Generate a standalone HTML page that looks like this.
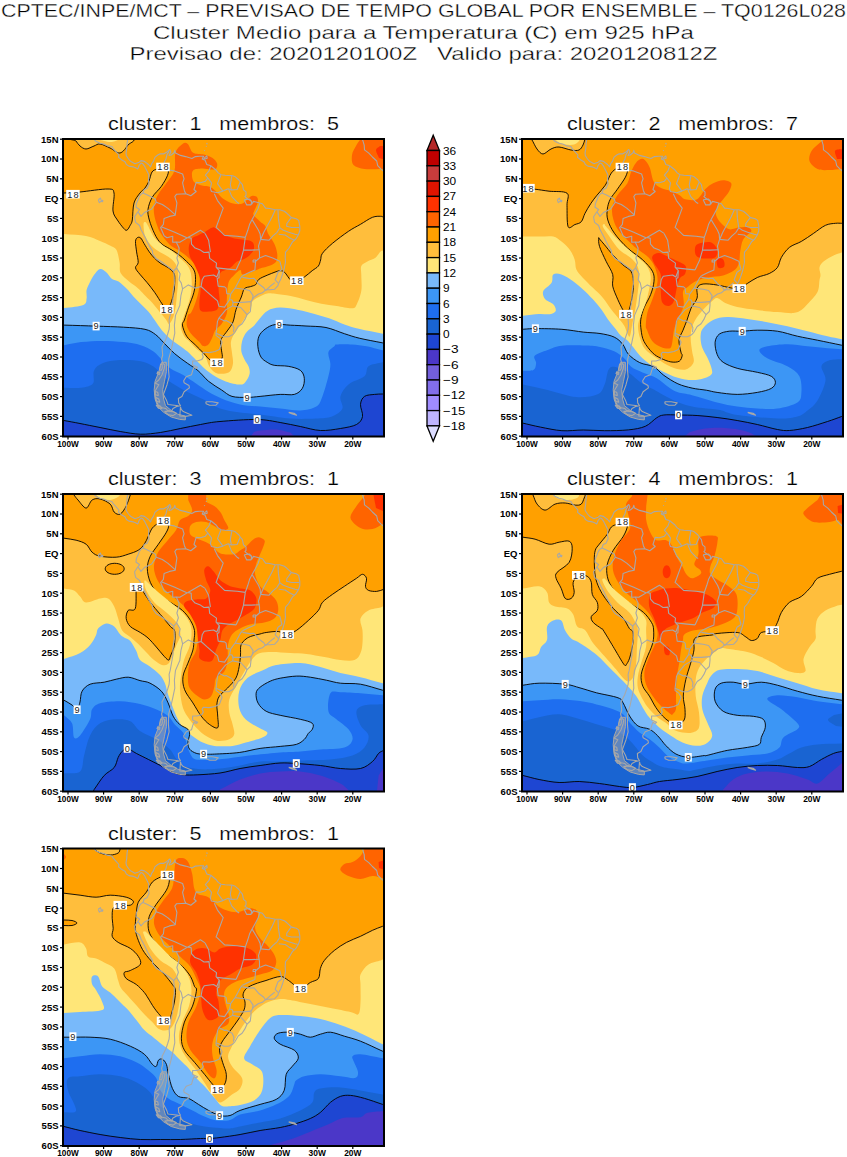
<!DOCTYPE html><html><head><meta charset="utf-8"><style>html,body{margin:0;padding:0;background:#fff;width:847px;height:1157px;overflow:hidden}svg{display:block}</style></head><body>
<svg width="847" height="1157" viewBox="0 0 847 1157" font-family="Liberation Sans, sans-serif">
<g fill="#000" font-size="18.5" text-anchor="middle" stroke="#fff" stroke-width="0.35">
<text x="423.5" y="16.5" textLength="845" lengthAdjust="spacingAndGlyphs">CPTEC/INPE/MCT – PREVISAO DE TEMPO GLOBAL POR ENSEMBLE – TQ0126L028</text>
<text x="423.5" y="38.5" textLength="541" lengthAdjust="spacingAndGlyphs">Cluster Medio para a Temperatura (C) em 925 hPa</text>
<text x="423.5" y="59.5" textLength="588" lengthAdjust="spacingAndGlyphs">Previsao de: 2020120100Z   Valido para: 2020120812Z</text>
</g>
<clipPath id="clip0"><rect x="63.0" y="139.0" width="321.0" height="297.5"/></clipPath>
<g clip-path="url(#clip0)">
<rect x="63.0" y="139.0" width="321.0" height="297.5" fill="#ffa000"/>
<path d="M50.0,193.0 L64.0,193.0 C69.3,192.7 72.7,192.7 80.0,192.0 C87.3,191.3 102.3,188.8 108.0,189.0 C113.7,189.2 113.2,189.3 114.0,193.0 C114.8,196.7 112.4,206.5 113.0,211.0 C113.6,215.5 115.6,217.1 117.4,220.0 C119.2,222.9 122.2,226.8 123.8,228.5 C125.4,230.2 125.9,230.6 127.0,230.1 C128.1,229.6 129.3,227.0 130.2,225.3 C131.1,223.6 131.7,223.7 132.3,220.0 C132.9,216.3 132.7,207.5 134.0,203.0 C135.3,198.5 138.2,195.5 140.0,193.0 C141.8,190.5 143.5,190.0 145.0,188.0 C146.5,186.0 147.8,183.7 149.0,181.0 C150.2,178.3 150.7,174.0 152.0,172.0 C153.3,170.0 155.2,169.8 157.0,169.0 C158.8,168.2 161.2,166.9 163.0,167.0 C164.8,167.1 167.3,168.1 168.0,169.5 C168.7,170.9 168.5,172.9 167.4,175.7 C166.3,178.5 163.8,182.8 161.3,186.4 C158.8,190.0 154.6,193.2 152.4,197.0 C150.2,200.8 148.5,205.6 148.0,209.4 C147.5,213.2 148.2,215.9 149.3,220.0 C150.4,224.1 152.7,229.9 154.6,233.8 C156.5,237.7 158.5,240.9 161.0,243.4 C163.5,245.9 166.7,246.9 169.5,248.7 C172.3,250.5 175.2,251.9 178.0,254.0 C180.8,256.1 183.8,258.8 186.5,261.4 C189.2,264.0 192.4,266.9 193.9,269.9 C195.4,272.9 195.5,275.8 195.5,279.5 C195.5,283.2 195.1,287.7 193.9,292.3 C192.8,296.9 190.2,302.5 188.6,307.1 C187.0,311.7 185.4,317.0 184.4,320.0 C183.4,323.0 182.0,322.3 182.4,325.0 C182.8,327.7 184.6,333.0 186.7,336.3 C188.8,339.6 192.4,342.0 195.2,344.8 C198.0,347.6 201.2,350.7 203.7,353.3 C206.2,355.9 208.0,358.6 210.2,360.2 C212.4,361.8 214.9,363.1 216.9,362.8 C218.9,362.5 221.3,360.1 222.1,358.1 C222.9,356.1 221.8,353.5 221.6,350.9 C221.3,348.3 220.6,344.7 220.6,342.6 C220.6,340.5 220.4,340.5 221.6,338.4 C222.8,336.3 225.9,332.9 227.8,330.1 C229.7,327.4 231.6,325.3 233.0,321.9 C234.4,318.4 234.7,313.5 236.1,309.4 C237.5,305.2 239.9,300.4 241.3,297.0 C242.7,293.6 242.9,290.4 244.4,288.7 C245.9,287.0 248.7,287.3 250.6,286.6 C252.5,285.9 254.4,285.7 255.8,284.5 C257.2,283.3 257.0,280.9 258.9,279.3 C260.8,277.8 264.5,276.4 267.2,275.2 C269.9,274.0 272.9,272.9 275.0,272.1 C277.1,271.4 278.4,270.7 280.0,270.7 C281.6,270.7 282.8,270.8 284.6,272.3 C286.4,273.9 288.7,278.6 290.7,280.0 C292.7,281.4 294.5,281.2 296.8,280.7 C299.1,280.2 301.9,278.6 304.5,276.9 C307.1,275.2 309.9,272.5 312.2,270.7 C314.5,268.9 316.9,267.9 318.3,266.1 C319.7,264.3 319.9,262.1 320.6,260.0 C321.3,257.9 320.4,256.2 322.4,253.4 C324.4,250.6 328.0,247.1 332.4,243.4 C336.8,239.7 343.8,234.5 348.5,231.3 C353.2,228.1 356.5,226.6 360.5,224.3 C364.5,222.0 369.1,218.6 372.5,217.3 C375.9,216.0 378.8,216.3 380.6,216.3 C382.5,216.3 382.6,217.0 383.6,217.3 L400.0,218.0 L400.0,450.0 L50.0,450.0 L50.0,193.0 Z" fill="#ffbe3c" stroke="#000" stroke-width="0.9"/>
<path d="M50.0,234.0 L64.0,234.0 C71.3,234.7 80.0,234.8 86.0,236.0 C92.0,237.2 96.0,239.4 100.0,241.0 C104.0,242.6 107.3,244.0 110.0,245.5 C112.7,247.0 114.8,247.0 116.4,249.8 C118.0,252.6 118.9,258.6 119.6,262.5 C120.3,266.4 119.0,269.9 120.6,273.1 C122.2,276.3 126.3,279.1 129.1,281.6 C131.9,284.1 135.1,285.9 137.6,288.0 C140.1,290.1 141.9,292.3 144.0,294.4 C146.1,296.5 148.3,298.5 150.4,300.8 C152.5,303.1 155.0,306.1 156.8,308.2 C158.6,310.3 159.4,311.5 161.0,313.5 C162.6,315.5 165.0,318.2 166.3,320.0 C167.6,321.8 168.1,324.0 169.0,324.0 C169.9,324.0 171.2,321.4 172.0,320.0 C172.8,318.6 173.2,318.1 173.8,315.6 C174.5,313.1 175.4,308.5 175.9,305.0 C176.4,301.5 176.6,297.9 176.9,294.4 C177.2,290.9 177.8,287.4 178.0,283.8 C178.2,280.2 178.3,276.3 178.0,273.1 C177.7,269.9 177.0,266.9 175.9,264.6 C174.8,262.3 173.4,260.9 171.6,259.3 C169.8,257.7 167.6,256.5 165.3,255.1 C163.0,253.7 160.3,252.6 157.8,250.8 C155.3,249.0 152.5,246.9 150.4,244.4 C148.3,241.9 146.2,239.2 145.1,235.9 C143.9,232.6 143.5,226.6 143.5,224.3 C143.5,222.0 144.4,222.0 145.0,222.0 C145.6,222.0 145.6,221.6 147.2,224.3 C148.8,227.0 151.9,234.6 154.6,238.1 C157.2,241.6 160.3,243.4 163.1,245.5 C165.9,247.6 168.8,248.7 171.6,250.8 C174.4,252.9 177.4,255.8 180.1,258.3 C182.8,260.8 185.8,263.2 187.6,265.7 C189.4,268.2 190.1,270.1 190.8,273.1 C191.5,276.1 191.8,280.2 191.8,283.8 C191.8,287.4 191.4,290.9 190.8,294.4 C190.2,297.9 189.1,301.4 188.0,305.0 C186.9,308.6 185.2,312.3 184.0,316.0 C182.8,319.7 181.0,323.7 181.0,327.0 C181.0,330.3 182.7,333.7 184.0,336.0 C185.3,338.3 187.1,339.1 189.0,341.0 C190.9,342.9 192.5,345.2 195.2,347.7 C197.9,350.2 202.8,353.1 205.1,356.2 C207.4,359.2 207.4,363.2 209.1,366.0 C210.8,368.8 213.0,371.4 215.4,372.7 C217.8,374.0 221.3,373.9 223.7,373.7 C226.1,373.5 228.3,373.3 229.9,371.6 C231.5,369.9 232.7,366.4 233.0,363.3 C233.3,360.2 232.3,356.4 232.0,353.0 C231.7,349.6 230.6,345.7 230.9,342.6 C231.2,339.5 232.4,337.2 234.0,334.3 C235.6,331.4 238.2,328.1 240.3,325.0 C242.4,321.9 244.8,318.4 246.5,315.6 C248.2,312.8 249.6,310.8 250.6,308.4 C251.6,306.0 251.3,303.0 252.7,301.1 C254.1,299.2 256.5,298.3 258.9,297.0 C261.3,295.7 264.5,294.0 267.2,293.5 C269.9,293.0 271.4,293.4 275.3,293.8 C279.2,294.2 285.6,295.1 290.7,296.1 C295.8,297.1 300.9,298.6 306.0,299.9 C311.1,301.2 316.3,302.7 321.4,303.7 C326.5,304.7 331.6,305.2 336.7,306.0 C341.8,306.8 348.8,308.6 352.1,308.3 C355.4,308.1 355.2,307.4 356.7,304.5 C358.2,301.6 360.5,295.6 361.3,290.7 C362.1,285.8 361.3,279.4 361.3,275.3 C361.3,271.2 360.3,268.4 361.3,266.1 C362.3,263.8 365.1,262.9 367.4,261.5 C369.7,260.1 372.9,259.7 375.1,258.0 C377.3,256.3 379.2,252.7 380.6,251.4 C382.0,250.1 382.6,250.7 383.6,250.4 L400.0,250.0 L400.0,450.0 L50.0,450.0 L50.0,234.0 Z" fill="#ffe678"/>
<path d="M50.0,308.0 L64.2,308.1 C70.6,307.0 79.7,306.5 83.4,304.9 C87.1,303.3 86.1,301.0 86.6,298.5 C87.1,296.0 86.0,292.8 86.6,290.0 C87.2,287.2 88.8,284.5 90.0,282.0 C91.2,279.5 92.3,277.2 94.0,275.0 C95.7,272.8 98.0,269.5 100.0,269.0 C102.0,268.5 104.0,270.3 106.0,272.0 C108.0,273.7 109.9,277.4 112.0,279.0 C114.1,280.6 116.0,279.9 118.5,281.6 C121.0,283.3 124.5,286.6 127.0,289.1 C129.5,291.6 131.1,294.0 133.4,296.5 C135.7,299.0 138.3,301.4 140.8,303.9 C143.3,306.4 146.0,308.7 148.3,311.4 C150.6,314.1 152.3,316.8 154.6,320.0 C156.9,323.2 159.3,327.2 162.0,330.4 C164.7,333.5 167.7,336.4 170.5,338.9 C173.3,341.4 176.2,343.1 179.0,345.2 C181.8,347.3 184.7,349.1 187.5,351.6 C190.3,354.1 193.2,357.3 196.0,360.1 C198.8,362.9 201.7,366.1 204.5,368.6 C207.3,371.1 209.5,372.9 213.0,375.0 C216.5,377.1 221.2,379.8 225.7,381.4 C230.2,383.0 236.7,384.5 240.0,384.6 C243.3,384.7 243.8,383.8 245.4,382.0 C247.0,380.2 249.1,376.3 249.6,373.7 C250.1,371.1 249.5,368.8 248.6,366.4 C247.7,364.0 245.6,361.8 244.4,359.2 C243.2,356.6 241.7,354.0 241.3,350.9 C241.0,347.8 241.4,343.6 242.3,340.5 C243.2,337.4 244.6,334.6 246.5,332.2 C248.4,329.8 251.4,328.3 253.7,326.0 C255.9,323.7 257.7,320.9 260.0,318.3 C262.3,315.8 264.4,312.5 267.7,310.7 C271.0,308.9 274.9,307.7 280.0,307.6 C285.1,307.5 292.8,308.9 298.4,309.9 C304.0,310.9 308.6,312.3 313.7,313.7 C318.8,315.1 324.0,316.5 329.1,318.3 C334.2,320.1 339.3,322.7 344.4,324.5 C349.5,326.3 353.4,327.6 359.8,329.1 C366.2,330.6 375.1,332.2 382.8,333.7 L400.0,334.0 L400.0,450.0 L50.0,450.0 L50.0,308.0 Z" fill="#78b9fa"/>
<path d="M50.0,325.0 L64.2,325.1 C74.8,325.4 86.2,325.8 96.1,326.1 C106.0,326.5 115.5,326.7 123.7,327.2 C131.8,327.7 139.7,328.1 145.0,329.3 C150.3,330.5 152.4,332.3 155.6,334.6 C158.8,336.9 160.9,339.9 164.1,343.1 C167.3,346.3 170.8,350.3 174.7,353.7 C178.6,357.1 183.6,360.5 187.5,363.3 C191.4,366.1 194.6,367.7 198.1,370.7 C201.6,373.7 204.8,378.2 208.7,381.4 C212.6,384.6 217.6,387.4 221.5,389.9 C225.4,392.4 227.7,395.1 232.0,396.4 C236.3,397.6 242.4,397.4 247.1,397.4 C251.8,397.4 254.6,396.9 260.1,396.4 C265.6,395.9 274.5,394.7 280.2,394.4 C285.9,394.1 290.6,395.4 294.3,394.4 C298.0,393.4 300.6,391.1 302.3,388.4 C304.0,385.7 304.6,381.4 304.3,378.4 C304.0,375.4 303.0,372.3 300.3,370.3 C297.6,368.3 292.6,367.1 288.2,366.3 C283.8,365.5 277.7,366.0 274.2,365.3 C270.7,364.6 269.4,363.7 267.2,362.3 C265.0,360.9 262.6,359.7 261.0,357.1 C259.4,354.5 258.2,350.1 257.9,346.7 C257.5,343.2 257.7,339.3 258.9,336.4 C260.1,333.5 262.4,331.1 265.1,329.1 C267.8,327.1 271.0,325.1 275.3,324.5 C279.6,323.9 285.6,324.9 290.7,325.2 C295.8,325.4 300.1,325.6 306.0,326.0 C311.9,326.4 319.6,326.2 326.0,327.5 C332.4,328.8 338.8,331.9 344.4,333.7 C350.0,335.5 353.4,336.8 359.8,338.3 C366.2,339.8 375.1,341.4 382.8,342.9 L400.0,344.0 L400.0,450.0 L50.0,450.0 L50.0,325.0 Z" fill="#3c96f5" stroke="#000" stroke-width="0.9"/>
<path d="M50.0,345.0 L64.2,345.2 C69.9,344.2 74.8,342.8 81.2,342.1 C87.6,341.4 95.4,341.0 102.5,341.0 C109.6,341.0 117.3,341.4 123.7,342.1 C130.1,342.8 135.7,343.6 140.7,345.2 C145.7,346.8 149.9,349.1 153.5,351.6 C157.1,354.1 159.2,357.3 162.0,360.1 C164.8,362.9 167.0,366.1 170.5,368.6 C174.0,371.1 178.9,372.5 183.2,375.0 C187.4,377.5 191.8,380.7 196.0,383.5 C200.2,386.3 204.4,389.5 208.7,392.0 C212.9,394.5 216.3,396.3 221.5,398.4 C226.7,400.5 233.7,403.0 240.1,404.4 C246.5,405.8 253.4,405.8 260.1,406.5 C266.8,407.2 273.5,407.8 280.2,408.5 C286.9,409.2 294.3,410.8 300.3,410.5 C306.3,410.2 312.6,408.9 316.3,406.5 C320.0,404.1 320.4,401.4 322.4,396.4 C324.4,391.4 327.1,381.6 328.4,376.3 C329.7,371.0 330.4,368.3 330.4,364.3 C330.4,360.3 327.7,355.3 328.4,352.3 C329.1,349.3 333.0,347.5 334.4,346.2 C335.8,344.9 333.8,344.7 336.7,344.4 C339.6,344.1 347.1,344.1 352.1,344.4 C357.1,344.7 361.4,345.2 366.5,346.2 C371.6,347.2 377.2,348.9 382.6,350.3 L400.0,351.0 L400.0,450.0 L50.0,450.0 L50.0,345.0 Z" fill="#1e6ef0"/>
<path d="M50.0,388.0 L64.2,387.7 C69.9,387.7 76.4,388.4 81.2,387.7 C86.0,387.0 90.9,386.3 93.0,383.5 C95.1,380.7 92.4,374.1 94.0,370.7 C95.6,367.3 98.2,365.1 102.5,363.3 C106.8,361.5 113.1,360.5 119.5,360.1 C125.9,359.8 135.0,360.1 140.7,361.2 C146.4,362.3 149.9,364.2 153.5,366.5 C157.1,368.8 158.8,372.2 162.0,375.0 C165.2,377.8 168.3,380.7 172.6,383.5 C176.8,386.3 182.2,389.2 187.5,392.0 C192.8,394.8 199.1,397.2 204.5,400.0 C209.9,402.8 214.1,406.4 220.0,408.5 C225.9,410.6 233.3,411.5 240.0,412.5 C246.7,413.5 251.7,413.5 260.0,414.5 C268.3,415.5 280.7,417.8 290.0,418.5 C299.3,419.2 309.0,418.8 316.0,418.5 C323.0,418.2 327.6,418.2 332.0,416.5 C336.4,414.8 341.0,411.9 342.4,408.5 C343.8,405.1 339.4,400.4 340.4,396.4 C341.4,392.4 344.5,387.8 348.5,384.4 C352.5,381.0 361.2,379.3 364.5,376.3 C367.8,373.3 365.5,368.6 368.5,366.3 C371.5,364.0 377.9,363.6 382.6,362.3 L400.0,362.0 L400.0,450.0 L50.0,450.0 L50.0,388.0 Z" fill="#1964d2"/>
<path d="M50.0,420.0 L64.0,420.5 C69.3,421.5 74.0,422.3 80.0,423.5 C86.0,424.7 93.4,426.2 100.1,427.5 C106.8,428.8 113.5,430.4 120.2,431.5 C126.9,432.6 133.6,434.0 140.3,434.2 C147.0,434.4 153.7,433.4 160.4,432.5 C167.1,431.6 173.7,429.8 180.4,428.5 C187.1,427.2 193.9,425.7 200.5,424.5 C207.1,423.3 210.6,422.3 220.0,421.5 C229.4,420.7 247.1,419.3 257.1,419.5 C267.1,419.7 273.0,421.3 280.2,422.5 C287.4,423.7 293.6,425.2 300.3,426.5 C307.0,427.8 313.7,430.2 320.4,430.5 C327.1,430.8 334.4,429.5 340.4,428.5 C346.4,427.5 352.8,426.5 356.5,424.5 C360.2,422.5 361.8,419.9 362.5,416.5 C363.2,413.1 360.2,407.8 360.5,404.4 C360.8,401.0 362.1,398.1 364.5,396.4 C366.9,394.7 371.6,394.8 374.6,394.4 C377.6,394.0 379.9,394.1 382.6,394.0 L400.0,394.0 L400.0,450.0 L50.0,450.0 L50.0,420.0 Z" fill="#1e46d2" stroke="#000" stroke-width="0.9"/>
<path d="M248.1,440.0 L254.0,432.0 C256.0,431.5 256.4,430.9 260.1,430.5 C263.8,430.1 271.2,429.2 276.2,429.5 C281.2,429.8 285.6,431.5 290.3,432.5 L298.3,440.0 L248.1,440.0 Z" fill="#4b37c8"/>
<path d="M137.6,237.5 C136.7,238.0 135.7,238.9 135.5,241.3 C135.3,243.7 136.2,248.4 136.6,251.9 C137.0,255.4 138.4,259.9 138.2,262.5 C138.0,265.1 135.2,265.9 135.5,267.8 C135.8,269.8 137.9,271.7 139.8,274.2 C141.8,276.7 144.7,279.7 147.2,282.7 C149.7,285.7 152.1,288.8 154.6,292.3 C157.1,295.8 160.1,301.1 162.1,303.9 C164.1,306.7 165.4,309.3 166.8,309.3 C168.2,309.3 169.4,306.7 170.6,303.9 C171.8,301.1 173.1,296.4 173.8,292.3 C174.5,288.2 174.8,282.7 174.8,279.5 C174.8,276.3 174.9,275.1 173.8,273.1 C172.7,271.2 170.5,269.4 168.4,267.8 C166.3,266.2 163.3,265.2 161.0,263.6 C158.7,262.0 156.5,260.2 154.6,258.3 C152.7,256.4 151.1,254.4 149.3,251.9 C147.5,249.4 145.4,245.7 144.0,243.4 C142.6,241.1 141.9,239.1 140.8,238.1 C139.7,237.1 138.5,237.0 137.6,237.5 Z" fill="#ffa000" stroke="#000" stroke-width="0.9"/>
<path d="M175.4,152.7 C176.7,148.3 180.4,145.4 182.5,143.9 C184.6,142.4 186.0,142.4 187.8,143.9 C189.6,145.4 190.4,150.9 193.1,152.7 C195.8,154.5 200.6,153.6 203.8,154.5 C207.1,155.4 210.4,156.5 212.6,158.0 C214.8,159.5 216.4,161.5 217.0,163.3 C217.6,165.1 217.1,167.6 216.1,168.6 C215.1,169.6 213.2,169.5 210.8,169.5 C208.5,169.5 204.9,168.4 202.0,168.6 C199.1,168.8 194.7,168.9 193.1,170.4 C191.5,171.9 191.9,175.4 192.2,177.5 C192.5,179.6 193.3,181.5 194.9,182.8 C196.5,184.1 199.3,184.8 202.0,185.5 C204.7,186.2 208.2,185.9 210.8,187.2 C213.5,188.5 215.8,191.5 217.9,193.4 C220.0,195.3 220.8,197.1 223.2,198.7 C225.6,200.3 229.1,202.3 232.1,203.2 C235.1,204.1 238.5,204.5 240.9,204.1 C243.3,203.7 244.5,201.8 246.3,200.5 C248.1,199.2 249.8,196.7 251.6,196.1 C253.4,195.5 255.9,196.0 256.9,197.0 C257.9,198.0 258.2,200.0 257.8,202.3 C257.4,204.7 254.9,209.0 254.2,211.1 C253.5,213.2 252.6,213.3 253.6,215.0 C254.6,216.7 258.1,219.6 260.0,221.4 C261.9,223.2 263.7,223.6 265.0,225.6 C266.3,227.6 266.5,230.4 268.0,233.4 C269.5,236.4 272.7,240.1 274.2,243.4 C275.7,246.7 276.9,250.4 277.2,253.4 C277.5,256.4 277.4,259.5 276.2,261.5 C275.0,263.5 272.9,264.3 270.2,265.5 C267.5,266.7 262.4,267.7 260.0,268.5 C257.6,269.3 258.6,269.3 255.8,270.3 C253.0,271.3 245.6,274.6 243.0,274.5 C240.4,274.4 241.8,269.9 240.3,270.0 C238.8,270.1 235.9,273.3 234.0,275.2 C232.1,277.1 230.0,278.8 228.9,281.4 C227.8,284.0 227.7,287.4 227.3,290.7 C227.0,294.0 226.9,297.3 226.8,301.1 C226.7,304.9 227.7,309.8 226.8,313.6 C225.9,317.4 223.5,321.1 221.6,323.9 C219.7,326.6 216.9,327.9 215.4,330.1 C213.9,332.4 213.5,335.0 212.3,337.4 C211.1,339.8 209.7,343.3 208.1,344.7 C206.5,346.1 204.4,346.4 203.0,346.0 C201.6,345.6 201.4,344.1 199.4,342.0 C197.4,339.9 193.0,336.3 190.9,333.5 C188.8,330.7 187.2,328.1 186.7,325.0 C186.2,321.9 187.4,317.1 188.1,315.1 C188.8,313.1 189.8,314.8 191.0,312.8 C192.2,310.8 193.9,307.1 195.2,303.2 C196.5,299.3 198.2,294.2 198.9,289.4 C199.6,284.6 200.1,278.6 199.4,274.5 C198.8,270.4 197.2,267.7 195.0,264.6 C192.8,261.5 189.3,258.6 186.5,256.1 C183.7,253.6 180.8,251.8 178.0,249.8 C175.2,247.9 172.3,247.1 169.5,244.4 C166.7,241.7 163.1,237.0 161.0,233.8 C158.9,230.6 158.1,228.2 157.0,225.0 C155.9,221.8 154.7,217.9 154.2,214.7 C153.7,211.5 153.6,209.1 154.2,205.8 C154.8,202.6 155.6,199.0 157.7,195.2 C159.8,191.4 163.8,186.9 166.6,182.8 C169.4,178.7 173.0,175.4 174.5,170.4 C176.0,165.4 174.1,157.1 175.4,152.7 Z" fill="#ff6400"/>
<path d="M207.9,229.9 C209.3,229.1 211.9,227.4 213.3,227.2 C214.7,227.0 215.2,228.0 216.4,228.8 C217.6,229.6 218.8,230.8 220.7,232.0 C222.6,233.2 225.8,235.2 228.1,236.3 C230.4,237.4 232.2,237.9 234.5,238.4 C236.8,238.9 239.4,239.1 241.9,239.4 C244.4,239.8 247.5,239.8 249.4,240.5 C251.3,241.2 252.9,242.1 253.6,243.7 C254.3,245.3 254.3,248.1 253.6,250.1 C252.9,252.1 251.2,253.8 249.4,255.4 C247.6,257.0 245.1,258.5 243.0,259.6 C240.9,260.7 238.5,260.6 236.6,261.8 C234.7,263.1 233.2,265.7 231.3,267.1 C229.4,268.5 226.7,269.4 224.9,270.3 C223.1,271.2 221.8,271.0 220.7,272.4 C219.6,273.8 218.9,276.0 218.6,278.8 C218.2,281.6 218.4,285.9 218.6,289.4 C218.8,292.9 219.6,297.2 219.6,300.0 C219.6,302.8 219.3,304.6 218.6,306.4 C217.9,308.2 217.3,309.7 215.4,310.6 C213.5,311.5 209.4,311.7 206.9,311.7 C204.4,311.7 201.8,312.2 200.5,310.6 C199.2,309.0 199.4,305.3 199.4,302.1 C199.4,298.9 200.3,295.0 200.5,291.5 C200.7,288.0 200.8,283.9 200.5,280.9 C200.2,277.9 199.5,276.2 198.4,273.4 C197.3,270.6 195.5,266.7 194.1,263.9 C192.7,261.1 190.8,259.2 189.9,256.4 C189.0,253.6 188.5,249.9 188.8,246.9 C189.2,243.9 190.4,240.4 192.0,238.4 C193.6,236.4 196.3,236.3 198.4,235.2 C200.5,234.1 203.2,232.9 204.8,232.0 C206.4,231.1 206.5,230.7 207.9,229.9 Z" fill="#ff3200"/>
<path d="M353.5,165.0 C351.4,162.7 351.6,158.2 352.0,155.0 C352.4,151.8 354.6,148.7 356.0,146.0 C357.4,143.3 359.0,141.3 360.5,139.0 L390.0,139.0 L390.0,169.0 L380.6,169.0 C375.2,169.0 369.0,169.7 364.5,169.0 C360.0,168.3 355.6,167.3 353.5,165.0 Z" fill="#ff6400"/>
<path d="M376.0,150.0 C376.2,148.0 378.7,147.3 380.0,146.0 L386.0,146.0 L386.0,160.0 L379.0,158.0 C378.0,155.3 375.8,152.0 376.0,150.0 Z" fill="#ff3200"/>
<path d="M74.0,139.0 C65.0,139.3 75.0,139.8 76.0,141.0 C77.0,142.2 78.3,144.7 80.0,146.0 C81.7,147.3 83.7,149.0 86.0,149.0 C88.3,149.0 91.7,146.8 94.0,146.0 C96.3,145.2 97.3,143.7 100.0,144.0 C102.7,144.3 106.7,146.5 110.0,148.0 C113.3,149.5 117.0,153.5 120.0,153.0 C123.0,152.5 126.3,147.3 128.0,145.0 C129.7,142.7 139.0,140.0 130.0,139.0 C121.0,138.0 83.0,138.7 74.0,139.0 Z" fill="#ffbe3c" stroke="#000" stroke-width="0.9"/>
<path d="M100.0,139.0 C97.7,139.3 102.0,140.5 104.0,141.0 C106.0,141.5 109.7,142.3 112.0,142.0 C114.3,141.7 120.0,139.5 118.0,139.0 C116.0,138.5 102.3,138.7 100.0,139.0 Z" fill="#ffe678"/>
<g fill="none" stroke="#a8a8a8" stroke-width="1.1" stroke-linejoin="round"><path d="M127.8,138.4 L127.8,139.2 L127.1,143.2 L126.7,149.1 L126.0,153.1 L126.4,155.8 L128.5,159.0 L130.3,161.0 L131.4,161.8 L134.9,163.8 L139.2,162.2 L141.0,160.6 L144.5,161.4 L148.5,164.5 L150.6,166.9 L151.7,163.8 L153.4,161.4 L154.9,157.4 L157.7,155.0 L159.8,153.9 L163.4,153.9 L167.0,151.9 L169.8,149.5 L170.9,151.9 L169.1,155.4 L171.2,155.0 L174.1,152.7 L174.8,150.3 L175.5,153.1 L180.5,155.4 L185.5,156.6 L191.9,158.6 L195.4,156.6 L199.7,156.2 L203.6,156.2 L202.2,159.0 L205.1,160.2 L206.8,164.5 L210.8,165.7 L215.7,169.7 L218.2,172.9 L221.1,174.8 L225.0,175.2 L231.8,175.6 L235.3,176.8 L238.9,180.0 L240.3,182.0 L242.4,184.7 L243.5,189.9 L246.0,191.9 L246.0,195.4 L244.9,196.6 L247.8,199.0 L251.3,201.0 L251.7,204.1 L253.5,201.4 L257.0,202.2 L262.4,203.7 L265.6,208.1 L269.5,208.5 L275.2,209.7 L279.8,209.7 L284.4,211.3 L286.9,213.3 L291.6,217.6 L296.2,218.8 L298.7,220.4 L299.8,226.3 L299.8,230.7 L298.3,235.0 L295.8,239.0 L292.3,242.2 L288.7,248.5 L285.5,252.1 L285.2,257.2 L285.5,262.0 L284.4,267.9 L282.7,273.8 L280.9,279.0 L278.4,283.7 L278.0,285.7 L274.5,289.3 L270.2,289.7 L265.9,289.7 L262.4,292.8 L258.5,294.0 L253.5,297.6 L251.0,301.6 L251.0,305.5 L250.3,311.5 L247.1,314.6 L244.9,319.4 L242.1,323.7 L238.2,326.5 L235.0,332.1 L232.5,334.8 L228.6,336.8 L223.9,336.8 L219.7,334.8 L216.1,333.2 L216.1,335.6 L220.0,338.4 L222.1,342.3 L219.3,349.5 L215.0,351.5 L209.3,352.6 L203.3,352.2 L202.2,354.2 L203.3,357.0 L201.9,359.4 L196.9,361.0 L192.6,361.0 L192.6,364.9 L197.6,367.3 L196.2,368.5 L194.0,367.3 L192.6,370.9 L191.5,374.8 L186.2,376.8 L183.7,380.8 L184.1,382.7 L189.0,385.5 L189.4,387.9 L184.1,391.8 L181.9,396.6 L178.4,398.6 L178.7,402.9 L180.5,405.7 L176.6,406.5 L173.0,408.5 L171.2,411.6 L167.7,410.5 L165.9,408.5 L162.3,407.7 L158.8,406.5 L157.0,402.5 L155.2,396.6 L155.2,390.7 L158.8,384.7 L154.9,383.1 L158.8,380.0 L162.0,374.8 L164.1,368.9 L164.8,364.9 L162.7,363.3 L161.6,359.0 L162.7,355.0 L162.0,347.1 L163.8,343.5 L165.9,339.2 L167.7,334.0 L169.1,329.3 L169.5,325.3 L169.1,319.4 L170.2,315.4 L171.6,307.5 L173.0,299.6 L173.0,291.7 L174.4,283.7 L174.1,275.8 L173.7,271.1 L170.2,268.3 L165.9,265.1 L160.6,261.2 L156.3,258.8 L152.7,254.0 L152.4,250.9 L149.5,246.1 L147.4,242.2 L145.6,238.2 L143.5,234.2 L141.0,229.5 L139.6,225.5 L135.6,222.4 L134.9,219.2 L134.6,216.8 L137.4,212.5 L139.6,209.7 L138.1,208.5 L136.0,207.3 L136.4,203.4 L137.8,200.6 L139.2,196.6 L140.6,194.6 L143.1,192.7 L144.2,189.5 L147.0,188.3 L149.2,183.6 L148.5,180.8 L148.8,174.8 L147.0,170.9 L145.3,167.7 L144.5,166.1 L142.8,163.8 L141.0,163.0 L139.2,165.3 L137.8,168.9 L135.6,167.7 L133.5,166.9 L128.9,166.1 L126.4,164.5 L125.0,161.8 L121.4,159.8 L120.7,159.0 L118.6,157.4 L118.9,155.0 L116.1,151.9 L113.2,148.7 L112.1,146.7 L110.7,146.3 L107.9,145.9 L103.6,144.0 L100.0,143.2 L95.8,141.2 L92.9,138.4"/><path d="M180.5,406.9 L179.8,416.0 L185.5,416.4 L191.9,415.2 L187.3,413.2 L183.3,411.6 L181.2,409.3 L180.5,406.9"/><path d="M176.6,413.2 L173.0,415.6 L168.4,414.8 L164.8,411.6 L169.5,410.9 L174.1,412.0 L176.6,413.2"/><path d="M162.3,408.5 L158.4,408.1 L156.3,405.3 L159.8,405.7 L162.3,408.5"/><path d="M159.8,402.5 L155.6,400.6 L155.9,397.4 L158.8,399.0 L159.8,402.5"/><path d="M158.4,395.8 L154.9,394.6 L155.2,391.5 L157.7,392.2 L158.4,395.8"/><path d="M159.5,374.8 L157.0,373.6 L157.7,371.7 L159.8,372.4 L159.5,374.8"/><path d="M161.3,370.5 L159.5,369.7 L160.6,364.1 L162.3,364.5 L162.3,368.1 L161.3,370.5"/><path d="M205.8,401.7 L212.2,401.7 L218.2,402.9 L215.7,405.3 L209.7,405.3 L206.1,403.7 L205.8,401.7"/><path d="M288.7,412.4 L294.1,413.2 L296.6,415.2 L292.3,414.0 L288.7,412.4"/><path d="M98.3,199.8 L100.4,198.2 L101.5,201.0 L99.3,202.6 L98.3,199.8"/><path d="M101.8,200.2 L102.9,200.6 L102.5,201.8 L101.5,201.4 L101.8,200.2"/><path d="M203.6,158.6 L206.8,155.8 L207.2,158.2 L204.7,159.0 L203.6,158.6"/><path d="M206.1,145.9 L206.5,146.7"/><path d="M204.3,150.3 L204.7,151.1"/><path d="M206.8,142.8 L207.2,144.3"/><path d="M361.3,138.4 L362.8,140.4 L364.2,145.1 L364.5,149.9 L368.8,153.1 L372.4,157.0 L376.7,161.0 L377.7,165.7 L381.3,169.3 L384.1,171.7 L388.4,174.8"/><path d="M244.2,199.8 L249.6,199.0 L251.7,201.8 L251.0,204.9 L246.7,204.9 L244.2,199.8"/><path d="M240.3,182.0 L237.1,189.5 L231.4,189.9 L228.2,188.7 L222.9,191.1 L217.5,192.7 L211.5,191.5 L210.4,188.7 L211.5,182.8 L207.9,178.0 L205.4,181.2 L200.4,182.8 L196.2,182.4 L194.0,189.5 L196.2,191.5 L190.8,195.8 L185.8,193.8 L176.6,194.2 L174.8,196.6 L176.2,200.6 L176.9,203.0 L175.2,215.2 L169.5,216.4 L164.1,218.4 L163.4,224.3 L160.6,227.5 L164.1,235.8 L167.0,237.8 L172.7,236.2 L172.7,242.2 L176.2,242.0 L179.8,242.2 L188.0,237.4 L191.2,238.2 L191.5,244.1 L195.1,248.1 L200.4,250.1 L204.0,252.5 L209.0,252.1 L209.7,258.4 L216.5,263.1 L216.1,267.1 L219.3,270.7 L218.9,277.8 L217.2,278.6 L218.2,286.1 L224.6,286.9 L226.1,288.1 L226.8,293.6 L230.7,294.0 L229.6,299.6 L232.1,300.0 L233.2,302.7 L232.5,305.9 L225.7,309.9 L218.9,318.2 L224.6,321.0 L226.1,320.6 L232.1,323.7 L233.9,327.7 L233.5,332.1"/><path d="M169.1,151.1 L167.0,154.6 L165.9,159.0 L164.1,162.2 L166.3,166.9 L167.0,169.7 L174.4,170.9 L182.6,174.0 L184.1,178.8 L182.6,182.8 L184.4,190.7 L185.8,193.8"/><path d="M207.9,178.0 L205.4,175.2 L209.0,170.9 L210.8,165.7"/><path d="M220.7,175.2 L217.5,183.6 L222.9,191.1"/><path d="M231.8,176.0 L230.3,184.7 L231.4,189.9"/><path d="M143.1,193.1 L148.5,195.4 L155.2,199.0 L156.3,202.2 L162.3,204.5 L167.7,208.1 L174.8,214.4 L175.2,215.2"/><path d="M138.1,212.1 L141.0,216.4 L144.5,212.5 L151.7,208.9 L156.3,202.2"/><path d="M176.2,242.0 L179.1,248.1 L178.7,252.1 L176.9,258.0 L178.4,262.8 L176.6,267.9 L173.4,271.3"/><path d="M176.6,267.9 L180.1,273.8 L179.1,279.8 L181.2,282.9 L182.6,288.9 L188.3,284.9 L195.1,288.1 L201.1,286.5 L202.2,279.8 L204.3,276.2 L213.6,275.0 L216.8,277.0 L219.3,270.7"/><path d="M182.6,288.9 L180.9,295.6 L179.8,305.5 L175.5,315.4 L174.4,325.3 L174.8,333.2 L172.7,343.1 L170.9,351.1 L168.7,359.0 L168.4,368.9 L169.1,376.8 L167.0,384.7 L163.4,394.6 L166.6,400.6 L168.0,404.5 L178.4,405.7"/><path d="M201.1,286.5 L206.8,291.7 L212.2,296.4 L217.5,300.8 L218.9,306.3 L224.6,307.1 L229.6,299.6"/><path d="M218.9,318.2 L217.5,321.4 L216.8,327.3 L216.1,333.2"/><path d="M228.6,189.1 L231.8,196.6 L237.1,202.2 L239.2,203.4"/><path d="M214.3,193.8 L217.5,200.6 L223.2,208.1 L216.1,227.5 L216.8,227.9"/><path d="M216.8,227.9 L224.6,235.4 L237.1,236.2 L245.3,237.4"/><path d="M245.3,237.4 L247.8,230.3 L249.6,224.3 L252.1,219.6"/><path d="M252.1,219.6 L254.9,214.4 L258.1,208.5 L259.9,203.0"/><path d="M252.1,219.6 L254.9,224.3 L258.5,230.3 L260.2,234.2 L260.6,239.4"/><path d="M275.2,210.1 L272.3,216.4 L269.1,222.4 L263.8,232.3 L260.6,239.4"/><path d="M260.6,239.4 L258.5,246.1 L259.5,252.1 L259.5,258.0"/><path d="M278.0,210.1 L278.4,218.4 L279.8,227.9 L277.0,232.3 L272.7,236.2 L269.1,240.2 L260.6,239.4"/><path d="M291.2,217.6 L286.9,223.5 L286.6,226.3 L291.6,227.5 L299.4,227.5"/><path d="M279.8,227.9 L283.4,230.3 L288.7,232.3 L295.1,234.2 L298.3,235.0"/><path d="M278.8,234.2 L285.2,235.0 L288.7,237.4 L294.4,240.2"/><path d="M245.3,237.4 L243.5,250.1 L240.7,260.0 L236.0,269.9"/><path d="M236.0,269.9 L228.2,269.1 L216.8,267.9"/><path d="M205.1,233.4 L208.6,240.2 L210.4,252.1"/><path d="M205.1,233.4 L200.4,230.3 L188.0,237.4"/><path d="M186.9,237.8 L174.8,232.3 L161.3,226.7"/><path d="M259.5,258.0 L265.6,255.6 L272.7,258.0 L279.8,261.2 L282.0,269.5"/><path d="M259.5,249.7 L251.3,250.1 L243.5,250.1"/><path d="M259.5,258.0 L255.6,261.2 L254.9,269.9 L249.6,272.3 L242.4,275.8"/><path d="M242.4,275.8 L240.7,277.8 L235.3,287.7 L231.0,293.6"/><path d="M242.4,277.4 L249.6,278.6 L253.8,278.2 L258.5,283.7 L263.8,287.7 L265.6,290.5"/><path d="M235.0,288.1 L244.2,289.3 L249.6,290.5 L253.1,295.6 L252.4,298.8"/><path d="M232.5,302.4 L242.4,302.4 L251.0,301.6"/><path d="M232.5,305.9 L240.7,307.5 L246.0,313.4 L247.1,314.6"/><path d="M274.8,282.6 L270.9,285.7 L265.6,290.5"/><path d="M282.0,269.5 L278.0,272.3 L275.2,279.8 L278.0,282.9"/><path d="M253.1,260.0 L255.6,260.0 L255.6,262.0 L253.1,262.0 L253.1,260.0"/></g><path d="M161.7,362.3 L158.9,371.7 L155.1,381.2 L154.2,389.7 L155.1,399.1 L157.9,406.7 L163.6,412.3 L171.2,417.0 L179.7,419.4 L185.3,419.9 L185.3,416.1 L177.8,414.2 L171.2,410.4 L165.5,405.7 L163.6,399.1 L162.7,389.7 L164.5,381.2 L166.4,371.7 L166.4,362.3 Z" fill="#a8a8a8" fill-opacity="0.5" stroke="#a8a8a8" stroke-width="1"/>
<rect x="66.2" y="189.9" width="13.5" height="8.6" fill="#fff"/><text x="73.6" y="197.5" font-size="9.2" letter-spacing="1.2" text-anchor="middle" fill="#222">18</text>
<rect x="156.2" y="162.7" width="13.5" height="8.6" fill="#fff"/><text x="163.6" y="170.3" font-size="9.2" letter-spacing="1.2" text-anchor="middle" fill="#222">18</text>
<rect x="160.1" y="305.0" width="13.5" height="8.6" fill="#fff"/><text x="167.4" y="312.6" font-size="9.2" letter-spacing="1.2" text-anchor="middle" fill="#222">18</text>
<rect x="210.2" y="358.5" width="13.5" height="8.6" fill="#fff"/><text x="217.5" y="366.1" font-size="9.2" letter-spacing="1.2" text-anchor="middle" fill="#222">18</text>
<rect x="290.1" y="276.4" width="13.5" height="8.6" fill="#fff"/><text x="297.4" y="284.0" font-size="9.2" letter-spacing="1.2" text-anchor="middle" fill="#222">18</text>
<rect x="92.6" y="321.8" width="7.0" height="8.6" fill="#fff"/><text x="96.1" y="329.4" font-size="9.2" letter-spacing="0" text-anchor="middle" fill="#222">9</text>
<rect x="243.6" y="393.1" width="7.0" height="8.6" fill="#fff"/><text x="247.1" y="400.7" font-size="9.2" letter-spacing="0" text-anchor="middle" fill="#222">9</text>
<rect x="275.7" y="319.9" width="7.0" height="8.6" fill="#fff"/><text x="279.2" y="327.5" font-size="9.2" letter-spacing="0" text-anchor="middle" fill="#222">9</text>
<rect x="253.6" y="415.2" width="7.0" height="8.6" fill="#fff"/><text x="257.1" y="422.8" font-size="9.2" letter-spacing="0" text-anchor="middle" fill="#222">0</text>
</g>
<rect x="63.0" y="139.0" width="321.0" height="297.5" fill="none" stroke="#000" stroke-width="2"/>
<g stroke="#000" stroke-width="1.2"><line x1="60.0" y1="139.2" x2="63.0" y2="139.2"/><line x1="60.0" y1="159.0" x2="63.0" y2="159.0"/><line x1="60.0" y1="178.8" x2="63.0" y2="178.8"/><line x1="60.0" y1="198.6" x2="63.0" y2="198.6"/><line x1="60.0" y1="218.4" x2="63.0" y2="218.4"/><line x1="60.0" y1="238.2" x2="63.0" y2="238.2"/><line x1="60.0" y1="258.0" x2="63.0" y2="258.0"/><line x1="60.0" y1="277.8" x2="63.0" y2="277.8"/><line x1="60.0" y1="297.6" x2="63.0" y2="297.6"/><line x1="60.0" y1="317.4" x2="63.0" y2="317.4"/><line x1="60.0" y1="337.2" x2="63.0" y2="337.2"/><line x1="60.0" y1="357.0" x2="63.0" y2="357.0"/><line x1="60.0" y1="376.8" x2="63.0" y2="376.8"/><line x1="60.0" y1="396.6" x2="63.0" y2="396.6"/><line x1="60.0" y1="416.4" x2="63.0" y2="416.4"/><line x1="60.0" y1="436.2" x2="63.0" y2="436.2"/><line x1="68.0" y1="436.5" x2="68.0" y2="439.5"/><line x1="103.6" y1="436.5" x2="103.6" y2="439.5"/><line x1="139.2" y1="436.5" x2="139.2" y2="439.5"/><line x1="174.8" y1="436.5" x2="174.8" y2="439.5"/><line x1="210.4" y1="436.5" x2="210.4" y2="439.5"/><line x1="246.0" y1="436.5" x2="246.0" y2="439.5"/><line x1="281.6" y1="436.5" x2="281.6" y2="439.5"/><line x1="317.2" y1="436.5" x2="317.2" y2="439.5"/><line x1="352.8" y1="436.5" x2="352.8" y2="439.5"/></g>
<g font-size="9.5" font-weight="bold" fill="#000"><text x="58.5" y="142.6" text-anchor="end">15N</text><text x="58.5" y="162.4" text-anchor="end">10N</text><text x="58.5" y="182.2" text-anchor="end">5N</text><text x="58.5" y="202.0" text-anchor="end">EQ</text><text x="58.5" y="221.8" text-anchor="end">5S</text><text x="58.5" y="241.6" text-anchor="end">10S</text><text x="58.5" y="261.4" text-anchor="end">15S</text><text x="58.5" y="281.2" text-anchor="end">20S</text><text x="58.5" y="301.0" text-anchor="end">25S</text><text x="58.5" y="320.8" text-anchor="end">30S</text><text x="58.5" y="340.6" text-anchor="end">35S</text><text x="58.5" y="360.4" text-anchor="end">40S</text><text x="58.5" y="380.2" text-anchor="end">45S</text><text x="58.5" y="400.0" text-anchor="end">50S</text><text x="58.5" y="419.8" text-anchor="end">55S</text><text x="58.5" y="439.6" text-anchor="end">60S</text><text x="68.0" y="446.8" text-anchor="middle" textLength="21.5" lengthAdjust="spacingAndGlyphs">100W</text><text x="103.6" y="446.8" text-anchor="middle" textLength="17.3" lengthAdjust="spacingAndGlyphs">90W</text><text x="139.2" y="446.8" text-anchor="middle" textLength="17.3" lengthAdjust="spacingAndGlyphs">80W</text><text x="174.8" y="446.8" text-anchor="middle" textLength="17.3" lengthAdjust="spacingAndGlyphs">70W</text><text x="210.4" y="446.8" text-anchor="middle" textLength="17.3" lengthAdjust="spacingAndGlyphs">60W</text><text x="246.0" y="446.8" text-anchor="middle" textLength="17.3" lengthAdjust="spacingAndGlyphs">50W</text><text x="281.6" y="446.8" text-anchor="middle" textLength="17.3" lengthAdjust="spacingAndGlyphs">40W</text><text x="317.2" y="446.8" text-anchor="middle" textLength="17.3" lengthAdjust="spacingAndGlyphs">30W</text><text x="352.8" y="446.8" text-anchor="middle" textLength="17.3" lengthAdjust="spacingAndGlyphs">20W</text></g>
<text x="223.5" y="130.0" font-size="18" text-anchor="middle" textLength="231" lengthAdjust="spacingAndGlyphs" stroke="#fff" stroke-width="0.2">cluster:  1   membros:  5</text>
<clipPath id="clip1"><rect x="522.0" y="139.0" width="321.0" height="297.5"/></clipPath>
<g clip-path="url(#clip1)">
<rect x="522.0" y="139.0" width="321.0" height="297.5" fill="#ffa000"/>
<path d="M510.0,188.0 L523.0,188.2 C527.0,188.5 530.7,188.7 535.0,189.2 C539.3,189.7 543.7,190.5 549.0,191.2 C554.3,191.9 564.0,190.8 567.0,193.2 C570.0,195.5 566.8,199.7 567.0,205.3 C567.2,210.9 566.8,223.4 568.1,226.6 C569.4,229.8 572.8,225.3 575.0,224.5 C577.2,223.7 579.6,223.6 581.3,221.7 C583.0,219.8 583.4,216.4 585.0,213.3 C586.6,210.2 589.0,206.2 591.0,203.2 C593.0,200.2 594.6,198.2 597.0,195.2 C599.4,192.2 602.9,188.9 605.3,185.2 C607.7,181.5 609.3,175.9 611.3,173.1 C613.3,170.2 615.5,169.1 617.4,168.1 C619.2,167.1 620.7,166.9 622.4,167.1 C624.1,167.3 626.9,167.4 627.4,169.1 C627.9,170.8 627.1,173.8 625.4,177.2 C623.7,180.5 619.9,185.5 617.4,189.2 C614.9,192.9 612.0,195.8 610.3,199.2 C608.6,202.5 607.7,205.8 607.3,209.3 C606.9,212.8 606.6,216.0 607.8,220.0 C609.0,224.0 611.1,228.5 614.4,233.2 C617.7,237.9 622.9,243.7 627.6,248.1 C632.3,252.5 638.4,255.8 642.5,259.7 C646.6,263.6 650.5,267.6 652.4,271.2 C654.3,274.8 654.3,277.3 654.0,281.2 C653.7,285.1 652.4,290.0 650.7,294.4 C649.1,298.8 645.8,303.5 644.1,307.6 C642.5,311.7 641.3,315.5 640.8,319.2 C640.3,322.9 640.6,326.3 641.1,330.0 C641.6,333.7 642.0,337.5 643.9,341.3 C645.8,345.1 649.6,349.9 652.4,352.7 C655.2,355.5 657.8,356.8 660.9,358.3 C664.0,359.8 667.7,361.4 670.8,361.9 C673.9,362.4 677.4,362.3 679.3,361.2 C681.2,360.1 681.9,357.0 682.2,355.5 C682.5,354.0 681.5,354.9 681.0,352.3 C680.5,349.8 678.7,343.9 679.0,340.2 C679.3,336.5 681.7,333.5 683.0,330.2 C684.3,326.9 685.6,323.8 687.0,320.1 C688.4,316.4 689.4,311.8 691.1,308.1 C692.8,304.4 696.1,301.5 697.1,298.1 C698.1,294.8 696.1,290.4 697.1,288.0 C698.1,285.6 699.8,284.5 703.1,284.0 C706.4,283.5 712.4,284.3 717.1,285.0 C721.8,285.7 727.5,287.4 731.2,288.0 C734.9,288.6 736.5,289.2 739.2,288.5 C741.9,287.8 744.3,285.3 747.3,283.5 C750.3,281.7 753.6,279.2 757.3,277.5 C761.0,275.8 765.9,275.2 769.3,273.5 C772.6,271.8 775.4,270.2 777.4,267.5 C779.4,264.8 779.4,260.8 781.4,257.4 C783.4,254.0 786.1,250.1 789.4,247.4 C792.7,244.7 797.4,243.7 801.4,241.4 C805.4,239.1 809.5,236.1 813.5,233.4 C817.5,230.7 821.8,227.0 825.5,225.3 C829.2,223.6 832.9,223.6 835.6,223.3 C838.3,223.0 839.6,223.3 841.6,223.3 L860.0,223.0 L860.0,450.0 L510.0,450.0 L510.0,188.0 Z" fill="#ffbe3c" stroke="#000" stroke-width="0.9"/>
<path d="M510.0,236.5 L540.0,236.5 C544.4,236.5 549.6,235.7 553.2,236.5 C556.8,237.3 558.7,239.3 561.5,241.5 C564.3,243.7 567.6,246.8 569.8,249.8 C572.0,252.8 573.6,256.4 574.7,259.7 C575.8,263.0 575.0,266.6 576.4,269.6 C577.8,272.6 580.2,274.9 583.0,277.9 C585.8,280.9 589.6,284.5 592.9,287.8 C596.2,291.1 599.8,294.1 602.8,297.7 C605.8,301.3 608.4,305.7 611.1,309.3 C613.9,312.9 617.1,316.4 619.3,319.2 C621.5,321.9 622.9,323.3 624.3,325.8 C625.7,328.3 626.6,332.3 627.6,334.0 C628.6,335.7 629.2,337.9 630.0,336.0 C630.8,334.1 631.8,326.7 632.6,322.5 C633.4,318.3 634.2,315.6 635.0,310.9 C635.8,306.2 636.8,299.9 637.5,294.4 C638.2,288.9 639.2,282.6 639.2,277.9 C639.2,273.2 638.9,269.6 637.5,266.3 C636.1,263.0 633.9,260.8 630.9,258.0 C627.9,255.2 622.9,253.4 619.3,249.8 C615.7,246.2 612.1,240.4 609.4,236.5 C606.6,232.6 603.6,228.7 602.8,226.6 C602.0,224.5 604.0,224.0 604.5,224.0 C605.0,224.0 603.9,224.0 606.1,226.6 C608.3,229.2 613.3,235.4 617.7,239.8 C622.1,244.2 627.9,249.0 632.6,253.1 C637.3,257.2 642.8,260.8 645.8,264.6 C648.8,268.5 650.2,272.1 650.7,276.2 C651.2,280.3 649.9,285.0 649.1,289.4 C648.3,293.8 647.2,298.2 645.8,302.6 C644.4,307.0 642.1,312.0 640.8,315.9 C639.5,319.8 638.1,322.3 638.0,326.0 C637.9,329.7 638.8,334.2 640.0,338.0 C641.2,341.8 642.2,345.6 645.0,349.0 C647.8,352.4 652.4,355.3 656.7,358.3 C661.0,361.3 666.1,364.9 670.8,366.8 C675.5,368.7 681.2,370.4 685.0,369.7 C688.8,369.0 692.3,365.7 693.5,362.6 C694.7,359.5 692.6,355.6 692.1,351.3 C691.6,347.1 690.5,341.6 690.7,337.1 C690.9,332.6 691.4,328.4 693.1,324.2 C694.8,320.0 698.1,315.8 701.1,312.1 C704.1,308.4 708.4,304.4 711.1,302.1 C713.8,299.8 714.8,297.9 717.1,298.1 C719.5,298.3 721.9,301.6 725.2,303.1 C728.6,304.6 731.9,305.9 737.2,307.1 C742.6,308.3 750.6,309.3 757.3,310.1 C764.0,310.9 771.4,311.6 777.4,312.1 C783.4,312.6 789.4,313.4 793.4,313.1 C797.4,312.8 799.0,311.6 801.4,310.1 C803.8,308.6 804.8,307.1 807.5,304.1 C810.2,301.1 815.5,296.0 817.5,292.0 C819.5,288.0 819.0,282.8 819.5,280.0 C820.0,277.2 820.5,277.1 820.5,275.0 C820.5,272.9 819.0,269.8 819.5,267.5 C820.0,265.2 821.1,263.5 823.5,261.5 C825.9,259.5 830.6,256.9 833.6,255.4 C836.6,253.9 838.9,253.4 841.6,252.4 L860.0,252.0 L860.0,450.0 L510.0,450.0 L510.0,236.5 Z" fill="#ffe678"/>
<path d="M510.0,316.0 L523.0,315.7 C528.3,315.2 534.5,314.4 539.0,314.1 C543.5,313.9 547.1,314.7 549.9,314.2 C552.7,313.7 555.2,312.5 555.7,310.9 C556.2,309.2 555.0,306.3 553.2,304.3 C551.4,302.3 546.6,301.2 545.0,299.0 C543.4,296.8 542.2,293.8 543.3,291.1 C544.4,288.4 550.0,285.6 551.6,282.8 C553.2,280.0 551.6,275.9 553.2,274.5 C554.9,273.1 558.2,273.4 561.5,274.5 C564.8,275.6 569.5,278.7 573.1,281.2 C576.7,283.7 579.7,286.4 583.0,289.4 C586.3,292.4 589.9,296.0 592.9,299.3 C595.9,302.6 598.7,306.0 601.2,309.3 C603.7,312.6 605.6,316.2 607.8,319.2 C610.0,322.2 612.2,324.6 614.4,327.4 C616.6,330.1 618.7,333.4 621.0,335.7 C623.3,338.0 624.7,337.5 628.3,341.3 C631.9,345.1 637.8,353.8 642.5,358.3 C647.2,362.8 652.0,365.5 656.7,368.3 C661.4,371.1 666.1,373.4 670.8,375.3 C675.5,377.2 680.3,378.9 685.0,379.6 C689.7,380.3 695.0,380.3 699.2,379.6 C703.5,378.9 708.4,377.0 710.5,375.3 C712.6,373.6 712.4,372.5 711.9,369.7 C711.4,366.9 709.4,362.1 707.7,358.3 C706.1,354.5 703.2,350.8 702.0,347.0 C700.8,343.2 700.4,338.8 700.6,335.7 C700.8,332.6 701.0,330.8 703.1,328.2 C705.2,325.6 709.1,322.0 713.1,320.1 C717.1,318.2 721.5,317.3 727.2,317.1 C732.9,316.9 740.6,318.2 747.3,319.1 C754.0,320.0 760.6,321.0 767.3,322.2 C774.0,323.4 780.7,324.7 787.4,326.2 C794.1,327.7 800.8,329.5 807.5,331.2 C814.2,332.9 821.8,334.9 827.5,336.2 C833.2,337.5 836.9,338.2 841.6,339.2 L860.0,340.0 L860.0,450.0 L510.0,450.0 L510.0,316.0 Z" fill="#78b9fa"/>
<path d="M510.0,329.0 L521.9,329.3 C526.4,329.1 528.7,328.6 535.4,328.6 C542.1,328.6 553.9,328.7 561.9,329.3 C569.9,329.9 576.9,331.4 583.3,332.1 C589.6,332.8 594.9,332.7 600.0,333.5 C605.1,334.3 610.4,335.3 614.2,337.1 C618.0,338.9 620.4,341.4 622.7,344.2 C625.1,347.0 625.5,351.0 628.3,354.1 C631.1,357.2 635.5,360.5 639.7,362.6 C644.0,364.7 649.8,364.7 653.8,366.8 C657.8,368.9 659.8,372.5 663.8,375.3 C667.8,378.1 673.2,381.7 677.9,383.8 C682.6,385.9 687.4,387.0 692.1,388.1 C696.8,389.2 702.1,389.5 706.3,390.2 C710.5,390.9 712.0,391.7 717.1,392.4 C722.2,393.1 730.5,394.4 737.2,394.4 C743.9,394.4 751.6,393.4 757.3,392.4 C763.0,391.4 768.3,390.1 771.3,388.4 C774.3,386.7 775.4,384.4 775.4,382.4 C775.4,380.4 774.3,378.0 771.3,376.3 C768.3,374.6 763.0,373.6 757.3,372.3 C751.6,371.0 742.9,370.0 737.2,368.3 C731.5,366.6 726.6,364.6 723.2,362.3 C719.9,360.0 718.5,357.7 717.1,354.3 C715.8,350.9 714.8,345.6 715.1,342.2 C715.5,338.8 716.9,336.0 719.2,334.2 C721.6,332.4 725.4,331.7 729.2,331.2 C733.0,330.7 737.5,331.4 742.2,331.2 C746.9,331.0 751.4,330.2 757.3,330.2 C763.2,330.2 770.7,330.2 777.4,331.2 C784.1,332.2 790.7,334.7 797.4,336.2 C804.1,337.7 810.1,338.7 817.5,340.2 C824.9,341.7 833.6,343.5 841.6,345.2 L860.0,346.0 L860.0,450.0 L510.0,450.0 L510.0,329.0 Z" fill="#3c96f5" stroke="#000" stroke-width="0.9"/>
<path d="M510.0,371.0 L521.9,370.7 C525.7,370.5 530.9,371.3 533.3,370.0 C535.7,368.7 535.9,365.3 536.1,362.9 C536.3,360.5 532.8,357.8 534.7,355.7 C536.6,353.6 543.1,351.7 547.6,350.0 C552.1,348.3 554.8,346.4 561.9,345.7 C569.0,345.0 584.0,345.5 590.4,345.7 C596.8,345.9 596.0,346.1 600.0,347.0 C604.0,347.9 610.2,349.4 614.2,351.3 C618.2,353.2 621.3,355.7 624.1,358.3 C626.9,360.9 628.1,364.4 631.2,366.8 C634.3,369.2 638.2,370.6 642.5,372.5 C646.8,374.4 652.5,375.8 656.7,378.2 C661.0,380.6 664.5,384.3 668.0,386.7 C671.5,389.1 673.9,390.9 677.9,392.3 C681.9,393.7 685.6,393.5 692.1,395.2 C698.6,396.9 709.6,400.5 717.1,402.4 C724.6,404.3 730.5,405.5 737.2,406.5 C743.9,407.5 750.6,408.2 757.3,408.5 C764.0,408.8 770.7,409.5 777.4,408.5 C784.1,407.5 793.4,405.1 797.4,402.4 C801.4,399.7 801.1,396.8 801.4,392.4 C801.7,388.0 801.7,380.6 799.4,376.3 C797.1,372.0 792.8,369.3 787.4,366.3 C782.0,363.3 772.0,361.0 767.3,358.3 C762.6,355.6 759.3,352.3 759.3,350.3 C759.3,348.3 762.6,347.2 767.3,346.2 C772.0,345.2 780.7,344.2 787.4,344.2 C794.1,344.2 800.8,345.5 807.5,346.2 C814.2,346.9 821.8,347.7 827.5,348.2 C833.2,348.7 836.9,348.9 841.6,349.2 L860.0,349.0 L860.0,450.0 L510.0,450.0 L510.0,371.0 Z" fill="#1e6ef0"/>
<path d="M510.0,384.0 L521.9,384.3 C530.5,386.2 538.6,387.9 547.6,390.0 C556.6,392.1 567.8,396.4 576.1,397.1 C584.4,397.8 592.8,396.4 597.6,394.3 C602.4,392.2 602.9,388.4 604.7,384.3 C606.5,380.2 606.9,372.6 608.5,369.7 C610.1,366.8 610.9,366.3 614.2,366.8 C617.5,367.3 623.6,369.7 628.3,372.5 C633.0,375.3 638.2,381.0 642.5,383.8 C646.8,386.6 650.2,387.6 653.8,389.5 C657.3,391.4 659.8,393.1 663.8,395.2 C667.8,397.3 673.2,400.4 677.9,402.3 C682.6,404.2 687.4,405.5 692.1,406.5 C696.8,407.5 701.4,407.9 706.0,408.5 C710.6,409.1 714.8,408.9 720.0,410.0 C725.2,411.1 727.6,413.6 737.2,415.0 C746.8,416.4 767.4,418.2 777.4,418.5 C787.4,418.8 792.4,417.8 797.4,416.5 C802.4,415.2 804.1,413.2 807.5,410.5 C810.9,407.8 814.5,405.4 817.5,400.4 C820.5,395.4 824.8,386.1 825.5,380.4 C826.2,374.7 820.8,369.6 821.5,366.3 C822.2,363.0 826.1,361.5 829.5,360.3 C832.9,359.1 837.6,359.6 841.6,359.3 L860.0,359.0 L860.0,450.0 L510.0,450.0 L510.0,384.0 Z" fill="#1964d2"/>
<path d="M510.0,423.0 L521.9,422.9 C528.1,424.3 533.7,425.8 540.4,427.1 C547.1,428.4 554.8,430.2 561.9,430.7 C569.0,431.2 576.2,430.0 583.3,430.0 C590.4,430.0 597.2,430.7 604.7,430.7 C612.2,430.7 621.5,430.6 628.3,429.9 C635.1,429.2 640.6,428.3 645.3,426.3 C650.0,424.3 653.6,419.7 656.7,417.8 C659.8,415.9 660.1,415.5 663.8,415.0 C667.4,414.5 673.0,414.9 678.6,415.0 C684.2,415.1 690.7,415.1 697.1,415.5 C703.5,415.9 710.4,416.7 717.1,417.5 C723.8,418.3 730.5,419.3 737.2,420.5 C743.9,421.7 750.6,423.0 757.3,424.5 C764.0,426.0 772.0,428.5 777.4,429.5 C782.8,430.5 784.4,430.8 789.4,430.5 C794.4,430.2 801.1,429.0 807.5,427.5 C813.9,426.0 821.8,423.3 827.5,421.5 C833.2,419.7 836.9,418.2 841.6,416.5 L860.0,416.0 L860.0,450.0 L510.0,450.0 L510.0,423.0 Z" fill="#1e46d2" stroke="#000" stroke-width="0.9"/>
<path d="M680.0,440.0 L690.0,432.0 C695.0,430.8 699.2,429.2 705.0,428.5 C710.8,427.8 718.3,427.6 725.0,428.0 C731.7,428.4 739.5,429.5 745.0,431.0 C750.5,432.5 753.7,435.0 758.0,437.0 L760.0,440.0 L680.0,440.0 Z" fill="#4b37c8"/>
<path d="M598.7,238.2 C598.7,239.4 598.3,242.6 599.5,246.4 C600.7,250.2 603.9,256.6 606.1,261.3 C608.3,266.0 611.6,270.4 612.7,274.5 C613.8,278.6 611.9,282.0 612.7,286.1 C613.5,290.2 616.1,295.4 617.7,299.3 C619.4,303.2 621.2,306.8 622.6,309.3 C624.0,311.8 624.9,314.2 626.0,314.2 C627.1,314.2 628.2,312.6 629.3,309.3 C630.4,306.0 631.9,299.1 632.6,294.4 C633.3,289.7 633.7,285.1 633.4,281.2 C633.1,277.3 632.7,274.0 630.9,271.2 C629.1,268.4 625.6,267.4 622.6,264.6 C619.6,261.9 615.7,258.0 612.7,254.7 C609.7,251.4 606.7,247.4 604.5,244.8 C602.3,242.2 600.5,240.1 599.5,239.0 C598.5,237.9 598.7,237.0 598.7,238.2 Z" fill="#ffa000" stroke="#000" stroke-width="0.9"/>
<path d="M637.4,161.1 C639.4,159.1 641.5,158.1 643.5,159.1 C645.5,160.1 647.8,163.4 649.5,167.1 C651.2,170.8 651.8,177.8 653.5,181.2 C655.2,184.5 656.5,185.5 659.5,187.2 C662.5,188.9 668.1,189.9 671.5,191.2 C674.9,192.5 677.4,193.9 679.6,195.2 C681.9,196.5 682.1,198.5 685.0,199.2 C687.9,199.9 693.6,200.9 697.0,199.2 C700.4,197.5 702.4,191.9 705.1,189.2 C707.8,186.5 710.1,184.7 713.1,183.2 C716.1,181.7 720.2,180.2 723.2,180.2 C726.2,180.2 730.2,181.4 731.2,183.2 C732.2,185.0 730.5,188.5 729.2,191.2 C727.9,193.9 725.2,196.5 723.2,199.2 C721.2,201.9 718.3,204.6 717.1,207.3 C715.9,210.0 715.4,212.6 716.1,215.3 C716.8,218.0 719.0,221.0 721.2,223.3 C723.4,225.6 726.2,228.6 729.2,229.3 C732.2,230.0 736.2,227.6 739.2,227.3 C742.2,227.0 745.3,226.6 747.3,227.3 C749.3,228.0 752.0,229.3 751.3,231.3 C750.6,233.3 745.1,236.1 743.2,239.4 C741.4,242.8 740.9,247.7 740.2,251.4 C739.5,255.1 740.0,258.5 739.2,261.5 C738.4,264.5 737.9,267.2 735.2,269.5 C732.5,271.8 727.9,274.2 723.2,275.5 C718.5,276.8 711.8,276.5 707.1,277.5 C702.4,278.5 698.5,279.8 695.1,281.5 C691.8,283.2 689.0,285.9 687.0,287.6 C685.0,289.4 683.6,288.9 683.0,292.0 C682.4,295.1 684.5,301.4 683.6,306.1 C682.7,310.8 679.2,316.1 677.6,320.1 C676.0,324.1 674.9,326.0 674.0,330.0 C673.1,334.0 672.8,340.9 672.0,344.0 C671.2,347.1 671.2,347.9 669.4,348.4 C667.5,348.9 663.7,348.2 660.9,347.0 C658.1,345.8 654.7,344.1 652.4,341.3 C650.1,338.5 648.1,332.6 647.0,330.0 C645.9,327.4 645.7,328.7 645.8,325.8 C645.9,322.9 646.3,317.0 647.4,312.6 C648.5,308.2 650.7,304.3 652.4,299.3 C654.1,294.3 656.8,287.8 657.4,282.8 C658.0,277.9 657.1,273.7 655.7,269.6 C654.3,265.5 652.7,261.9 649.1,258.0 C645.5,254.1 639.2,250.8 634.2,246.4 C629.2,242.0 622.8,236.1 619.3,231.6 C615.8,227.1 614.5,223.4 613.3,219.3 C612.1,215.2 611.6,211.3 612.3,207.3 C613.0,203.3 614.9,199.2 617.4,195.2 C619.9,191.2 625.1,187.2 627.4,183.2 C629.7,179.2 629.7,174.8 631.4,171.1 C633.1,167.4 635.4,163.1 637.4,161.1 Z" fill="#ff6400"/>
<path d="M652.4,256.4 C653.2,254.7 656.0,252.8 659.0,253.1 C662.0,253.4 667.6,256.7 670.6,258.0 C673.6,259.3 674.7,259.7 677.2,261.0 C679.7,262.3 684.3,263.8 685.6,266.0 C686.9,268.2 685.9,272.0 685.0,274.0 C684.1,276.0 681.3,275.9 680.0,277.9 C678.7,279.9 678.2,282.2 677.2,286.1 C676.2,290.0 675.3,297.7 673.9,301.0 C672.5,304.3 670.8,305.7 668.9,306.0 C667.0,306.3 663.7,305.4 662.3,302.6 C660.9,299.8 661.0,294.1 660.7,289.4 C660.4,284.7 661.8,278.9 660.7,274.5 C659.6,270.1 655.4,266.0 654.0,263.0 C652.6,260.0 651.6,258.0 652.4,256.4 Z" fill="#ff3200"/>
<path d="M695.1,247.4 C695.6,245.4 696.4,244.2 699.1,243.4 C701.8,242.6 708.1,241.4 711.1,242.4 C714.1,243.4 716.4,246.9 717.1,249.4 C717.8,251.9 717.4,255.9 715.1,257.4 C712.8,258.9 706.3,258.7 703.1,258.4 C699.9,258.1 697.4,257.2 696.1,255.4 C694.8,253.6 694.6,249.4 695.1,247.4 Z" fill="#ff3200"/>
<path d="M717.1,258.4 C718.0,257.0 722.0,258.0 723.2,259.4 C724.4,260.8 725.1,265.1 724.2,266.5 C723.4,267.9 719.3,268.9 718.1,267.5 C716.9,266.1 716.2,259.8 717.1,258.4 Z" fill="#ff3200"/>
<path d="M530.0,130.0 L530.0,139.0 C530.7,139.3 530.8,138.3 532.0,140.0 C533.2,141.7 535.2,146.7 537.0,149.0 C538.8,151.3 540.7,154.0 543.0,154.0 C545.3,154.0 548.3,150.2 551.0,149.0 C553.7,147.8 555.7,146.8 559.0,147.0 C562.3,147.2 567.7,149.5 571.0,150.0 C574.3,150.5 577.0,150.8 579.0,150.0 C581.0,149.2 582.0,146.8 583.0,145.0 C584.0,143.2 584.3,141.0 585.0,139.0 L585.0,130.0 L530.0,130.0 Z" fill="#ffbe3c" stroke="#000" stroke-width="0.9"/>
<path d="M557.0,139.0 C554.0,139.7 557.8,142.0 560.0,143.0 C562.2,144.0 567.2,145.0 570.0,145.0 C572.8,145.0 575.7,144.0 577.0,143.0 C578.3,142.0 581.3,139.7 578.0,139.0 C574.7,138.3 560.0,138.3 557.0,139.0 Z" fill="#ffe678"/>
<path d="M809.5,161.1 C808.5,158.1 809.8,154.1 811.5,151.1 C813.2,148.1 817.2,145.0 819.5,143.0 C821.8,141.0 823.5,140.3 825.5,139.0 L850.0,139.0 L850.0,169.0 L841.6,169.1 C837.6,169.4 833.5,170.1 829.5,170.1 C825.5,170.1 820.8,170.6 817.5,169.1 C814.2,167.6 810.5,164.1 809.5,161.1 Z" fill="#ff6400"/>
<path d="M835.0,151.0 C835.7,149.3 839.0,149.7 841.0,149.0 L845.0,151.0 L845.0,159.0 L837.0,159.0 C836.3,156.3 834.3,152.7 835.0,151.0 Z" fill="#ff3200"/>
<g fill="none" stroke="#a8a8a8" stroke-width="1.1" stroke-linejoin="round"><path d="M586.8,138.4 L586.8,139.2 L586.1,143.2 L585.7,149.1 L585.0,153.1 L585.4,155.8 L587.5,159.0 L589.3,161.0 L590.4,161.8 L593.9,163.8 L598.2,162.2 L600.0,160.6 L603.5,161.4 L607.5,164.5 L609.6,166.9 L610.7,163.8 L612.4,161.4 L613.9,157.4 L616.7,155.0 L618.8,153.9 L622.4,153.9 L626.0,151.9 L628.8,149.5 L629.9,151.9 L628.1,155.4 L630.2,155.0 L633.1,152.7 L633.8,150.3 L634.5,153.1 L639.5,155.4 L644.5,156.6 L650.9,158.6 L654.4,156.6 L658.7,156.2 L662.6,156.2 L661.2,159.0 L664.1,160.2 L665.8,164.5 L669.8,165.7 L674.7,169.7 L677.2,172.9 L680.1,174.8 L684.0,175.2 L690.8,175.6 L694.3,176.8 L697.9,180.0 L699.3,182.0 L701.4,184.7 L702.5,189.9 L705.0,191.9 L705.0,195.4 L703.9,196.6 L706.8,199.0 L710.3,201.0 L710.7,204.1 L712.5,201.4 L716.0,202.2 L721.4,203.7 L724.6,208.1 L728.5,208.5 L734.2,209.7 L738.8,209.7 L743.4,211.3 L745.9,213.3 L750.6,217.6 L755.2,218.8 L757.7,220.4 L758.8,226.3 L758.8,230.7 L757.3,235.0 L754.8,239.0 L751.3,242.2 L747.7,248.5 L744.5,252.1 L744.2,257.2 L744.5,262.0 L743.4,267.9 L741.7,273.8 L739.9,279.0 L737.4,283.7 L737.0,285.7 L733.5,289.3 L729.2,289.7 L724.9,289.7 L721.4,292.8 L717.5,294.0 L712.5,297.6 L710.0,301.6 L710.0,305.5 L709.3,311.5 L706.1,314.6 L703.9,319.4 L701.1,323.7 L697.2,326.5 L694.0,332.1 L691.5,334.8 L687.6,336.8 L682.9,336.8 L678.7,334.8 L675.1,333.2 L675.1,335.6 L679.0,338.4 L681.1,342.3 L678.3,349.5 L674.0,351.5 L668.3,352.6 L662.3,352.2 L661.2,354.2 L662.3,357.0 L660.9,359.4 L655.9,361.0 L651.6,361.0 L651.6,364.9 L656.6,367.3 L655.2,368.5 L653.0,367.3 L651.6,370.9 L650.5,374.8 L645.2,376.8 L642.7,380.8 L643.1,382.7 L648.0,385.5 L648.4,387.9 L643.1,391.8 L640.9,396.6 L637.4,398.6 L637.7,402.9 L639.5,405.7 L635.6,406.5 L632.0,408.5 L630.2,411.6 L626.7,410.5 L624.9,408.5 L621.3,407.7 L617.8,406.5 L616.0,402.5 L614.2,396.6 L614.2,390.7 L617.8,384.7 L613.9,383.1 L617.8,380.0 L621.0,374.8 L623.1,368.9 L623.8,364.9 L621.7,363.3 L620.6,359.0 L621.7,355.0 L621.0,347.1 L622.8,343.5 L624.9,339.2 L626.7,334.0 L628.1,329.3 L628.5,325.3 L628.1,319.4 L629.2,315.4 L630.6,307.5 L632.0,299.6 L632.0,291.7 L633.4,283.7 L633.1,275.8 L632.7,271.1 L629.2,268.3 L624.9,265.1 L619.6,261.2 L615.3,258.8 L611.7,254.0 L611.4,250.9 L608.5,246.1 L606.4,242.2 L604.6,238.2 L602.5,234.2 L600.0,229.5 L598.6,225.5 L594.6,222.4 L593.9,219.2 L593.6,216.8 L596.4,212.5 L598.6,209.7 L597.1,208.5 L595.0,207.3 L595.4,203.4 L596.8,200.6 L598.2,196.6 L599.6,194.6 L602.1,192.7 L603.2,189.5 L606.0,188.3 L608.2,183.6 L607.5,180.8 L607.8,174.8 L606.0,170.9 L604.3,167.7 L603.5,166.1 L601.8,163.8 L600.0,163.0 L598.2,165.3 L596.8,168.9 L594.6,167.7 L592.5,166.9 L587.9,166.1 L585.4,164.5 L584.0,161.8 L580.4,159.8 L579.7,159.0 L577.6,157.4 L577.9,155.0 L575.1,151.9 L572.2,148.7 L571.1,146.7 L569.7,146.3 L566.9,145.9 L562.6,144.0 L559.0,143.2 L554.8,141.2 L551.9,138.4"/><path d="M639.5,406.9 L638.8,416.0 L644.5,416.4 L650.9,415.2 L646.3,413.2 L642.3,411.6 L640.2,409.3 L639.5,406.9"/><path d="M635.6,413.2 L632.0,415.6 L627.4,414.8 L623.8,411.6 L628.5,410.9 L633.1,412.0 L635.6,413.2"/><path d="M621.3,408.5 L617.4,408.1 L615.3,405.3 L618.8,405.7 L621.3,408.5"/><path d="M618.8,402.5 L614.6,400.6 L614.9,397.4 L617.8,399.0 L618.8,402.5"/><path d="M617.4,395.8 L613.9,394.6 L614.2,391.5 L616.7,392.2 L617.4,395.8"/><path d="M618.5,374.8 L616.0,373.6 L616.7,371.7 L618.8,372.4 L618.5,374.8"/><path d="M620.3,370.5 L618.5,369.7 L619.6,364.1 L621.3,364.5 L621.3,368.1 L620.3,370.5"/><path d="M664.8,401.7 L671.2,401.7 L677.2,402.9 L674.7,405.3 L668.7,405.3 L665.1,403.7 L664.8,401.7"/><path d="M747.7,412.4 L753.1,413.2 L755.6,415.2 L751.3,414.0 L747.7,412.4"/><path d="M557.3,199.8 L559.4,198.2 L560.5,201.0 L558.3,202.6 L557.3,199.8"/><path d="M560.8,200.2 L561.9,200.6 L561.5,201.8 L560.5,201.4 L560.8,200.2"/><path d="M662.6,158.6 L665.8,155.8 L666.2,158.2 L663.7,159.0 L662.6,158.6"/><path d="M665.1,145.9 L665.5,146.7"/><path d="M663.3,150.3 L663.7,151.1"/><path d="M665.8,142.8 L666.2,144.3"/><path d="M820.3,138.4 L821.8,140.4 L823.2,145.1 L823.5,149.9 L827.8,153.1 L831.4,157.0 L835.7,161.0 L836.7,165.7 L840.3,169.3 L843.1,171.7 L847.4,174.8"/><path d="M703.2,199.8 L708.6,199.0 L710.7,201.8 L710.0,204.9 L705.7,204.9 L703.2,199.8"/><path d="M699.3,182.0 L696.1,189.5 L690.4,189.9 L687.2,188.7 L681.9,191.1 L676.5,192.7 L670.5,191.5 L669.4,188.7 L670.5,182.8 L666.9,178.0 L664.4,181.2 L659.4,182.8 L655.2,182.4 L653.0,189.5 L655.2,191.5 L649.8,195.8 L644.8,193.8 L635.6,194.2 L633.8,196.6 L635.2,200.6 L635.9,203.0 L634.2,215.2 L628.5,216.4 L623.1,218.4 L622.4,224.3 L619.6,227.5 L623.1,235.8 L626.0,237.8 L631.7,236.2 L631.7,242.2 L635.2,242.0 L638.8,242.2 L647.0,237.4 L650.2,238.2 L650.5,244.1 L654.1,248.1 L659.4,250.1 L663.0,252.5 L668.0,252.1 L668.7,258.4 L675.5,263.1 L675.1,267.1 L678.3,270.7 L677.9,277.8 L676.2,278.6 L677.2,286.1 L683.6,286.9 L685.1,288.1 L685.8,293.6 L689.7,294.0 L688.6,299.6 L691.1,300.0 L692.2,302.7 L691.5,305.9 L684.7,309.9 L677.9,318.2 L683.6,321.0 L685.1,320.6 L691.1,323.7 L692.9,327.7 L692.5,332.1"/><path d="M628.1,151.1 L626.0,154.6 L624.9,159.0 L623.1,162.2 L625.3,166.9 L626.0,169.7 L633.4,170.9 L641.6,174.0 L643.1,178.8 L641.6,182.8 L643.4,190.7 L644.8,193.8"/><path d="M666.9,178.0 L664.4,175.2 L668.0,170.9 L669.8,165.7"/><path d="M679.7,175.2 L676.5,183.6 L681.9,191.1"/><path d="M690.8,176.0 L689.3,184.7 L690.4,189.9"/><path d="M602.1,193.1 L607.5,195.4 L614.2,199.0 L615.3,202.2 L621.3,204.5 L626.7,208.1 L633.8,214.4 L634.2,215.2"/><path d="M597.1,212.1 L600.0,216.4 L603.5,212.5 L610.7,208.9 L615.3,202.2"/><path d="M635.2,242.0 L638.1,248.1 L637.7,252.1 L635.9,258.0 L637.4,262.8 L635.6,267.9 L632.4,271.3"/><path d="M635.6,267.9 L639.1,273.8 L638.1,279.8 L640.2,282.9 L641.6,288.9 L647.3,284.9 L654.1,288.1 L660.1,286.5 L661.2,279.8 L663.3,276.2 L672.6,275.0 L675.8,277.0 L678.3,270.7"/><path d="M641.6,288.9 L639.9,295.6 L638.8,305.5 L634.5,315.4 L633.4,325.3 L633.8,333.2 L631.7,343.1 L629.9,351.1 L627.7,359.0 L627.4,368.9 L628.1,376.8 L626.0,384.7 L622.4,394.6 L625.6,400.6 L627.0,404.5 L637.4,405.7"/><path d="M660.1,286.5 L665.8,291.7 L671.2,296.4 L676.5,300.8 L677.9,306.3 L683.6,307.1 L688.6,299.6"/><path d="M677.9,318.2 L676.5,321.4 L675.8,327.3 L675.1,333.2"/><path d="M687.6,189.1 L690.8,196.6 L696.1,202.2 L698.2,203.4"/><path d="M673.3,193.8 L676.5,200.6 L682.2,208.1 L675.1,227.5 L675.8,227.9"/><path d="M675.8,227.9 L683.6,235.4 L696.1,236.2 L704.3,237.4"/><path d="M704.3,237.4 L706.8,230.3 L708.6,224.3 L711.1,219.6"/><path d="M711.1,219.6 L713.9,214.4 L717.1,208.5 L718.9,203.0"/><path d="M711.1,219.6 L713.9,224.3 L717.5,230.3 L719.2,234.2 L719.6,239.4"/><path d="M734.2,210.1 L731.3,216.4 L728.1,222.4 L722.8,232.3 L719.6,239.4"/><path d="M719.6,239.4 L717.5,246.1 L718.5,252.1 L718.5,258.0"/><path d="M737.0,210.1 L737.4,218.4 L738.8,227.9 L736.0,232.3 L731.7,236.2 L728.1,240.2 L719.6,239.4"/><path d="M750.2,217.6 L745.9,223.5 L745.6,226.3 L750.6,227.5 L758.4,227.5"/><path d="M738.8,227.9 L742.4,230.3 L747.7,232.3 L754.1,234.2 L757.3,235.0"/><path d="M737.8,234.2 L744.2,235.0 L747.7,237.4 L753.4,240.2"/><path d="M704.3,237.4 L702.5,250.1 L699.7,260.0 L695.0,269.9"/><path d="M695.0,269.9 L687.2,269.1 L675.8,267.9"/><path d="M664.1,233.4 L667.6,240.2 L669.4,252.1"/><path d="M664.1,233.4 L659.4,230.3 L647.0,237.4"/><path d="M645.9,237.8 L633.8,232.3 L620.3,226.7"/><path d="M718.5,258.0 L724.6,255.6 L731.7,258.0 L738.8,261.2 L741.0,269.5"/><path d="M718.5,249.7 L710.3,250.1 L702.5,250.1"/><path d="M718.5,258.0 L714.6,261.2 L713.9,269.9 L708.6,272.3 L701.4,275.8"/><path d="M701.4,275.8 L699.7,277.8 L694.3,287.7 L690.0,293.6"/><path d="M701.4,277.4 L708.6,278.6 L712.8,278.2 L717.5,283.7 L722.8,287.7 L724.6,290.5"/><path d="M694.0,288.1 L703.2,289.3 L708.6,290.5 L712.1,295.6 L711.4,298.8"/><path d="M691.5,302.4 L701.4,302.4 L710.0,301.6"/><path d="M691.5,305.9 L699.7,307.5 L705.0,313.4 L706.1,314.6"/><path d="M733.8,282.6 L729.9,285.7 L724.6,290.5"/><path d="M741.0,269.5 L737.0,272.3 L734.2,279.8 L737.0,282.9"/><path d="M712.1,260.0 L714.6,260.0 L714.6,262.0 L712.1,262.0 L712.1,260.0"/></g><path d="M620.7,362.3 L617.9,371.7 L614.1,381.2 L613.2,389.7 L614.1,399.1 L616.9,406.7 L622.6,412.3 L630.2,417.0 L638.7,419.4 L644.3,419.9 L644.3,416.1 L636.8,414.2 L630.2,410.4 L624.5,405.7 L622.6,399.1 L621.7,389.7 L623.5,381.2 L625.4,371.7 L625.4,362.3 Z" fill="#a8a8a8" fill-opacity="0.5" stroke="#a8a8a8" stroke-width="1"/>
<rect x="521.2" y="183.9" width="13.5" height="8.6" fill="#fff"/><text x="528.6" y="191.5" font-size="9.2" letter-spacing="1.2" text-anchor="middle" fill="#222">18</text>
<rect x="615.6" y="162.8" width="13.5" height="8.6" fill="#fff"/><text x="623.0" y="170.4" font-size="9.2" letter-spacing="1.2" text-anchor="middle" fill="#222">18</text>
<rect x="619.2" y="309.9" width="13.5" height="8.6" fill="#fff"/><text x="626.6" y="317.5" font-size="9.2" letter-spacing="1.2" text-anchor="middle" fill="#222">18</text>
<rect x="732.5" y="284.2" width="13.5" height="8.6" fill="#fff"/><text x="739.8" y="291.8" font-size="9.2" letter-spacing="1.2" text-anchor="middle" fill="#222">18</text>
<rect x="531.9" y="324.3" width="7.0" height="8.6" fill="#fff"/><text x="535.4" y="331.9" font-size="9.2" letter-spacing="0" text-anchor="middle" fill="#222">9</text>
<rect x="738.7" y="326.9" width="7.0" height="8.6" fill="#fff"/><text x="742.2" y="334.5" font-size="9.2" letter-spacing="0" text-anchor="middle" fill="#222">9</text>
<rect x="675.1" y="410.7" width="7.0" height="8.6" fill="#fff"/><text x="678.6" y="418.3" font-size="9.2" letter-spacing="0" text-anchor="middle" fill="#222">0</text>
</g>
<rect x="522.0" y="139.0" width="321.0" height="297.5" fill="none" stroke="#000" stroke-width="2"/>
<g stroke="#000" stroke-width="1.2"><line x1="519.0" y1="139.2" x2="522.0" y2="139.2"/><line x1="519.0" y1="159.0" x2="522.0" y2="159.0"/><line x1="519.0" y1="178.8" x2="522.0" y2="178.8"/><line x1="519.0" y1="198.6" x2="522.0" y2="198.6"/><line x1="519.0" y1="218.4" x2="522.0" y2="218.4"/><line x1="519.0" y1="238.2" x2="522.0" y2="238.2"/><line x1="519.0" y1="258.0" x2="522.0" y2="258.0"/><line x1="519.0" y1="277.8" x2="522.0" y2="277.8"/><line x1="519.0" y1="297.6" x2="522.0" y2="297.6"/><line x1="519.0" y1="317.4" x2="522.0" y2="317.4"/><line x1="519.0" y1="337.2" x2="522.0" y2="337.2"/><line x1="519.0" y1="357.0" x2="522.0" y2="357.0"/><line x1="519.0" y1="376.8" x2="522.0" y2="376.8"/><line x1="519.0" y1="396.6" x2="522.0" y2="396.6"/><line x1="519.0" y1="416.4" x2="522.0" y2="416.4"/><line x1="519.0" y1="436.2" x2="522.0" y2="436.2"/><line x1="527.0" y1="436.5" x2="527.0" y2="439.5"/><line x1="562.6" y1="436.5" x2="562.6" y2="439.5"/><line x1="598.2" y1="436.5" x2="598.2" y2="439.5"/><line x1="633.8" y1="436.5" x2="633.8" y2="439.5"/><line x1="669.4" y1="436.5" x2="669.4" y2="439.5"/><line x1="705.0" y1="436.5" x2="705.0" y2="439.5"/><line x1="740.6" y1="436.5" x2="740.6" y2="439.5"/><line x1="776.2" y1="436.5" x2="776.2" y2="439.5"/><line x1="811.8" y1="436.5" x2="811.8" y2="439.5"/></g>
<g font-size="9.5" font-weight="bold" fill="#000"><text x="517.5" y="142.6" text-anchor="end">15N</text><text x="517.5" y="162.4" text-anchor="end">10N</text><text x="517.5" y="182.2" text-anchor="end">5N</text><text x="517.5" y="202.0" text-anchor="end">EQ</text><text x="517.5" y="221.8" text-anchor="end">5S</text><text x="517.5" y="241.6" text-anchor="end">10S</text><text x="517.5" y="261.4" text-anchor="end">15S</text><text x="517.5" y="281.2" text-anchor="end">20S</text><text x="517.5" y="301.0" text-anchor="end">25S</text><text x="517.5" y="320.8" text-anchor="end">30S</text><text x="517.5" y="340.6" text-anchor="end">35S</text><text x="517.5" y="360.4" text-anchor="end">40S</text><text x="517.5" y="380.2" text-anchor="end">45S</text><text x="517.5" y="400.0" text-anchor="end">50S</text><text x="517.5" y="419.8" text-anchor="end">55S</text><text x="517.5" y="439.6" text-anchor="end">60S</text><text x="527.0" y="446.8" text-anchor="middle" textLength="21.5" lengthAdjust="spacingAndGlyphs">100W</text><text x="562.6" y="446.8" text-anchor="middle" textLength="17.3" lengthAdjust="spacingAndGlyphs">90W</text><text x="598.2" y="446.8" text-anchor="middle" textLength="17.3" lengthAdjust="spacingAndGlyphs">80W</text><text x="633.8" y="446.8" text-anchor="middle" textLength="17.3" lengthAdjust="spacingAndGlyphs">70W</text><text x="669.4" y="446.8" text-anchor="middle" textLength="17.3" lengthAdjust="spacingAndGlyphs">60W</text><text x="705.0" y="446.8" text-anchor="middle" textLength="17.3" lengthAdjust="spacingAndGlyphs">50W</text><text x="740.6" y="446.8" text-anchor="middle" textLength="17.3" lengthAdjust="spacingAndGlyphs">40W</text><text x="776.2" y="446.8" text-anchor="middle" textLength="17.3" lengthAdjust="spacingAndGlyphs">30W</text><text x="811.8" y="446.8" text-anchor="middle" textLength="17.3" lengthAdjust="spacingAndGlyphs">20W</text></g>
<text x="682.5" y="130.0" font-size="18" text-anchor="middle" textLength="231" lengthAdjust="spacingAndGlyphs" stroke="#fff" stroke-width="0.2">cluster:  2   membros:  7</text>
<clipPath id="clip2"><rect x="63.0" y="494.0" width="321.0" height="297.5"/></clipPath>
<g clip-path="url(#clip2)">
<rect x="63.0" y="494.0" width="321.0" height="297.5" fill="#ffa000"/>
<path d="M50.0,538.0 L64.0,538.2 C68.0,538.9 72.4,539.2 76.1,540.2 C79.8,541.2 83.4,542.2 86.1,544.2 C88.8,546.2 89.8,550.2 92.1,552.2 C94.4,554.2 96.1,555.4 100.1,556.2 C104.1,557.0 111.5,557.5 116.2,557.2 C120.9,556.9 124.5,555.4 128.2,554.2 C131.9,553.0 135.6,551.9 138.3,550.2 C141.0,548.5 142.6,546.5 144.3,544.2 C146.0,541.9 147.0,538.9 148.3,536.2 C149.6,533.5 150.6,530.3 152.3,528.1 C154.0,525.9 156.6,524.3 158.4,523.1 C160.2,521.9 161.7,520.8 163.4,521.1 C165.1,521.4 167.9,523.2 168.4,525.1 C168.9,527.0 168.1,529.0 166.4,532.2 C164.7,535.4 161.1,540.2 158.4,544.2 C155.7,548.2 152.2,552.2 150.3,556.2 C148.5,560.2 147.3,563.9 147.3,568.3 C147.3,572.6 148.5,577.9 150.3,582.3 C152.2,586.6 155.1,591.0 158.4,594.4 C161.8,597.8 166.4,599.7 170.4,602.4 C174.4,605.1 179.1,607.4 182.4,610.4 C185.8,613.4 188.5,617.1 190.5,620.5 C192.5,623.9 193.9,627.2 194.5,630.5 C195.1,633.8 194.3,636.8 194.0,640.0 C193.7,643.2 193.9,646.1 192.9,650.0 C191.9,653.9 189.6,658.8 187.9,663.2 C186.2,667.6 183.6,672.0 183.0,676.4 C182.4,680.8 182.9,685.3 184.6,689.7 C186.2,694.1 190.1,698.5 192.9,702.9 C195.7,707.3 198.4,712.5 201.2,716.1 C203.9,719.7 206.7,722.5 209.4,724.4 C212.2,726.3 216.3,729.1 217.7,727.7 C219.1,726.3 217.8,720.0 217.7,716.1 C217.6,712.2 216.6,707.8 216.9,704.5 C217.2,701.2 217.5,699.0 219.3,696.3 C221.1,693.5 224.8,691.0 227.6,688.0 C230.4,685.0 234.0,681.7 235.9,678.1 C237.8,674.5 238.4,670.4 239.2,666.5 C240.0,662.6 240.2,658.6 240.5,655.0 C240.8,651.4 240.1,647.7 241.0,645.0 C241.9,642.3 244.2,640.5 246.0,639.0 C247.8,637.5 249.7,636.8 252.0,636.0 C254.3,635.2 257.6,634.6 260.0,634.0 C262.4,633.4 263.2,632.9 266.2,632.5 C269.2,632.1 274.7,631.2 278.2,631.5 C281.7,631.8 284.2,634.7 287.2,634.5 C290.2,634.3 292.8,632.8 296.3,630.5 C299.8,628.2 304.6,623.9 308.3,620.5 C312.0,617.1 316.0,613.4 318.4,610.4 C320.8,607.4 320.1,605.1 322.4,602.4 C324.7,599.7 328.7,597.1 332.4,594.4 C336.1,591.7 340.4,589.0 344.4,586.3 C348.4,583.6 353.5,580.3 356.5,578.3 C359.5,576.3 360.8,574.3 362.5,574.3 C364.2,574.3 366.0,576.3 366.5,578.3 C367.0,580.3 365.2,584.3 365.5,586.3 C365.8,588.3 366.6,589.5 368.5,590.4 C370.4,591.2 374.1,591.6 376.6,591.4 C379.1,591.2 381.3,590.1 383.6,589.4 L400.0,589.0 L400.0,800.0 L50.0,800.0 L50.0,538.0 Z" fill="#ffbe3c" stroke="#000" stroke-width="0.9"/>
<path d="M50.0,588.0 L64.0,588.4 C67.3,589.1 71.3,589.1 74.0,590.4 C76.7,591.7 78.1,594.4 80.1,596.4 C82.1,598.4 82.8,602.1 86.1,602.4 C89.4,602.7 96.4,599.1 100.1,598.4 C103.8,597.7 105.8,597.1 108.2,598.4 C110.6,599.7 112.5,603.0 114.2,606.4 C115.9,609.8 116.9,614.5 118.2,618.5 C119.5,622.5 120.2,627.4 122.2,630.5 C124.2,633.6 127.6,634.8 130.3,637.0 C133.0,639.2 135.7,641.5 138.3,644.0 C140.9,646.5 143.4,649.3 146.0,652.0 C148.6,654.7 151.3,657.8 154.0,660.0 C156.7,662.2 159.7,664.3 162.0,665.0 C164.3,665.7 166.3,665.3 168.0,664.0 C169.7,662.7 170.7,660.0 172.0,657.0 C173.3,654.0 174.6,649.8 176.0,646.0 C177.4,642.2 180.3,638.4 180.4,634.5 C180.5,630.6 178.7,626.2 176.4,622.5 C174.1,618.8 170.1,615.8 166.4,612.4 C162.7,609.0 157.7,606.1 154.3,602.4 C151.0,598.7 148.0,593.8 146.3,590.4 C144.6,587.0 144.5,584.0 144.3,582.3 C144.1,580.6 145.0,580.2 145.3,580.0 C145.6,579.8 144.5,579.6 146.3,581.3 C148.1,583.0 152.6,587.2 156.3,590.4 C160.0,593.6 164.4,597.1 168.4,600.4 C172.4,603.7 177.1,607.0 180.4,610.4 C183.8,613.8 186.7,617.1 188.5,620.5 C190.3,623.9 191.2,626.4 191.5,630.5 C191.8,634.6 191.2,640.1 190.0,645.0 C188.8,649.9 185.5,654.8 184.0,660.0 C182.5,665.2 181.7,671.0 181.0,676.0 C180.3,681.0 179.7,684.7 180.0,690.0 C180.3,695.3 181.4,703.0 183.0,707.9 C184.6,712.8 187.1,715.8 189.6,719.4 C192.1,723.0 195.2,726.5 197.9,729.3 C200.7,732.1 202.8,734.1 206.1,736.0 C209.4,737.9 213.8,740.4 217.7,740.9 C221.6,741.4 226.6,740.4 229.3,739.3 C232.1,738.2 233.6,736.8 234.2,734.3 C234.8,731.8 233.4,728.0 232.6,724.4 C231.8,720.8 229.9,716.9 229.3,712.8 C228.8,708.7 228.2,704.0 229.3,699.6 C230.4,695.2 232.9,691.9 235.9,686.4 C238.9,680.9 244.4,671.4 247.4,666.5 C250.4,661.6 252.0,659.3 254.1,657.1 C256.2,654.9 257.1,653.9 260.1,653.1 C263.1,652.3 267.2,652.1 272.2,652.1 C277.2,652.1 284.6,652.8 290.3,653.1 C296.0,653.4 300.6,653.4 306.3,654.1 C312.0,654.8 318.7,656.1 324.4,657.1 C330.1,658.1 335.4,659.6 340.4,660.1 C345.4,660.6 351.1,661.3 354.5,660.1 C357.9,658.9 359.2,656.0 360.5,653.1 C361.8,650.2 362.2,646.8 362.5,643.0 C362.8,639.2 362.8,634.6 362.5,630.5 C362.2,626.4 359.5,621.9 360.5,618.5 C361.5,615.1 365.1,612.2 368.5,610.4 C371.9,608.5 378.1,608.1 380.6,607.4 C383.1,606.7 382.6,606.5 383.6,606.0 L400.0,606.0 L400.0,800.0 L50.0,800.0 L50.0,588.0 Z" fill="#ffe678"/>
<path d="M50.0,659.0 L64.0,659.1 C69.4,657.1 75.8,655.5 80.1,653.1 C84.4,650.8 87.4,648.0 90.1,645.0 C92.8,642.0 94.8,637.8 96.1,635.0 C97.4,632.2 96.4,630.4 98.1,628.5 C99.8,626.6 103.5,623.8 106.2,623.5 C108.9,623.2 111.9,624.7 114.2,626.5 C116.5,628.3 118.4,632.6 120.2,634.5 C122.0,636.4 123.3,636.9 125.0,638.0 C126.7,639.1 128.4,638.8 130.3,641.0 C132.2,643.2 134.7,647.9 136.3,651.1 C137.9,654.3 137.7,657.4 140.0,660.0 C142.3,662.6 146.6,664.0 149.9,666.5 C153.2,669.0 157.3,672.0 159.8,674.8 C162.3,677.6 163.4,679.8 164.8,683.1 C166.2,686.4 166.7,690.5 168.1,694.6 C169.5,698.7 171.4,703.8 173.1,707.9 C174.8,712.0 176.1,715.8 178.0,719.4 C179.9,723.0 181.8,726.3 184.6,729.3 C187.3,732.3 191.5,735.4 194.5,737.6 C197.5,739.8 199.5,741.2 202.8,742.6 C206.1,744.0 209.4,745.4 214.4,745.9 C219.4,746.4 227.4,746.4 232.6,745.9 C237.8,745.4 240.9,744.0 245.8,742.6 C250.8,741.2 258.7,739.3 262.3,737.6 C265.9,735.9 267.9,734.2 267.3,732.6 C266.8,731.0 262.6,729.9 259.0,727.7 C255.4,725.5 249.1,722.7 245.8,719.4 C242.5,716.1 240.3,712.6 239.2,707.9 C238.1,703.2 237.8,696.3 239.2,691.3 C240.6,686.3 243.3,681.7 247.4,678.1 C251.5,674.5 259.2,672.0 264.0,669.8 C268.8,667.6 270.1,666.2 276.2,665.1 C282.2,664.0 292.9,662.8 300.3,663.1 C307.7,663.4 313.7,665.4 320.4,667.1 C327.1,668.8 333.7,671.4 340.4,673.1 C347.1,674.8 353.5,675.5 360.5,677.2 C367.5,678.9 375.2,681.2 382.6,683.2 L400.0,684.0 L400.0,800.0 L50.0,800.0 L50.0,659.0 Z" fill="#78b9fa"/>
<path d="M50.0,700.0 L64.0,700.2 C66.7,701.8 69.8,703.4 72.0,705.0 C74.2,706.6 75.8,710.2 77.1,709.7 C78.4,709.2 79.2,705.1 80.0,702.0 C80.8,698.9 80.4,694.2 82.1,691.2 C83.8,688.2 86.4,685.7 90.1,684.2 C93.8,682.7 99.8,683.0 104.2,682.2 C108.6,681.4 112.2,680.0 116.2,679.2 C120.2,678.4 124.2,677.0 128.2,677.2 C132.2,677.4 136.4,679.6 140.0,680.6 C143.6,681.6 146.3,681.3 149.9,683.1 C153.5,684.9 158.5,688.0 161.5,691.3 C164.5,694.6 166.2,698.8 168.1,702.9 C170.0,707.0 171.2,712.5 173.1,716.1 C175.0,719.7 177.2,722.2 179.7,724.4 C182.2,726.6 186.2,727.6 187.9,729.3 C189.6,730.9 189.6,732.1 189.6,734.3 C189.6,736.5 187.9,740.1 187.9,742.6 C187.9,745.1 188.2,747.4 189.6,749.2 C191.0,751.0 193.9,752.5 196.2,753.3 C198.5,754.1 200.6,754.0 203.6,754.1 C206.6,754.2 208.5,754.4 214.4,754.1 C220.3,753.8 231.6,753.5 239.2,752.5 C246.8,751.5 253.3,749.4 260.1,748.4 C266.9,747.4 274.2,747.1 280.2,746.4 C286.2,745.7 292.3,745.6 296.3,744.4 C300.3,743.2 302.3,741.2 304.3,739.4 C306.3,737.6 307.0,735.1 308.3,733.4 C309.6,731.7 311.6,731.0 312.3,729.3 C313.0,727.6 314.3,725.0 312.3,723.3 C310.3,721.6 305.7,720.6 300.3,719.3 C294.9,718.0 285.9,716.6 280.2,715.3 C274.5,714.0 269.9,713.3 266.2,711.3 C262.5,709.3 259.8,706.2 258.1,703.2 C256.4,700.2 255.8,695.9 256.1,693.2 C256.4,690.5 257.8,689.2 260.1,687.2 C262.5,685.2 266.9,682.7 270.2,681.2 C273.5,679.7 275.8,679.1 280.2,678.2 C284.6,677.4 291.3,676.3 296.3,676.1 C301.3,675.9 305.3,676.5 310.3,677.2 C315.3,677.9 321.4,679.2 326.4,680.2 C331.4,681.2 334.7,682.5 340.4,683.2 C346.1,683.9 353.5,683.0 360.5,684.2 C367.5,685.4 375.2,688.2 382.6,690.2 L400.0,691.0 L400.0,800.0 L50.0,800.0 L50.0,700.0 Z" fill="#3c96f5" stroke="#000" stroke-width="0.9"/>
<path d="M50.0,715.0 L64.0,715.3 C66.7,718.0 70.3,719.6 72.0,723.3 C73.7,727.0 72.7,735.4 74.0,737.4 C75.3,739.4 77.4,738.4 80.1,735.4 C82.8,732.4 88.1,723.6 90.1,719.3 C92.1,714.9 90.4,712.0 92.1,709.3 C93.8,706.6 95.4,704.6 100.1,703.2 C104.8,701.9 113.5,701.1 120.2,701.2 C126.9,701.3 133.9,702.6 140.0,704.0 C146.1,705.4 151.8,707.5 156.5,709.5 C161.2,711.5 165.1,713.6 168.1,716.1 C171.1,718.6 172.2,721.6 174.7,724.4 C177.2,727.1 181.1,729.6 183.0,732.6 C184.9,735.6 185.2,739.3 186.3,742.6 C187.4,745.9 188.2,749.8 189.6,752.5 C191.0,755.2 191.8,757.9 194.5,759.1 C197.2,760.3 201.4,759.9 206.1,759.9 C210.8,759.9 215.7,759.8 222.6,759.1 C229.5,758.4 237.8,756.9 247.4,755.8 C257.0,754.7 271.2,753.2 280.0,752.5 C288.8,751.8 293.6,751.9 300.3,751.4 C307.0,750.9 313.0,750.1 320.4,749.4 C327.8,748.7 339.0,749.1 344.4,747.4 C349.8,745.7 351.8,742.4 352.5,739.4 C353.2,736.4 351.2,732.6 348.5,729.3 C345.8,725.9 339.8,722.3 336.4,719.3 C333.0,716.3 329.4,715.6 328.4,711.3 C327.4,706.9 328.4,696.4 330.4,693.2 C332.4,690.0 335.4,692.2 340.4,692.2 C345.4,692.2 353.5,692.7 360.5,693.2 C367.5,693.7 375.2,694.5 382.6,695.2 L400.0,696.0 L400.0,800.0 L50.0,800.0 L50.0,715.0 Z" fill="#1e6ef0"/>
<path d="M50.0,773.0 L64.0,773.5 C69.4,772.8 76.8,774.5 80.1,771.5 C83.4,768.5 82.4,761.4 84.1,755.4 C85.8,749.4 87.4,740.8 90.1,735.4 C92.8,730.0 95.8,726.0 100.1,723.3 C104.4,720.6 111.2,719.6 116.2,719.3 C121.2,719.0 126.3,719.3 130.3,721.3 C134.3,723.2 135.6,728.0 140.0,731.0 C144.4,734.0 151.5,736.3 156.5,739.3 C161.5,742.3 166.5,745.9 169.8,749.2 C173.1,752.5 174.2,756.4 176.4,759.1 C178.6,761.9 179.4,764.1 183.0,765.7 C186.6,767.4 192.7,768.5 197.9,769.0 C203.1,769.5 207.5,769.5 214.4,769.0 C221.3,768.5 231.6,767.0 239.2,765.7 C246.8,764.5 253.3,762.2 260.1,761.5 C266.9,760.8 273.5,761.7 280.2,761.5 C286.9,761.3 291.9,760.9 300.3,760.5 C308.7,760.1 321.7,760.2 330.4,759.4 C339.1,758.5 346.8,757.4 352.5,755.4 C358.2,753.4 361.8,750.7 364.5,747.4 C367.2,744.1 369.2,739.1 368.5,735.4 C367.8,731.7 362.5,729.3 360.5,725.3 C358.5,721.3 355.8,714.6 356.5,711.3 C357.2,708.0 360.1,706.5 364.5,705.3 C368.9,704.1 376.6,704.6 382.6,704.2 L400.0,704.0 L400.0,800.0 L50.0,800.0 L50.0,773.0 Z" fill="#1964d2"/>
<path d="M90.0,800.0 L94.1,789.6 C97.5,784.9 100.8,779.2 104.2,775.5 C107.6,771.8 111.9,770.5 114.2,767.5 C116.5,764.5 116.9,760.1 118.2,757.4 C119.5,754.7 120.7,752.9 122.2,751.4 C123.7,749.9 124.8,748.1 127.2,748.4 C129.6,748.7 132.8,751.6 136.3,753.4 C139.8,755.2 144.3,757.4 148.3,759.4 C152.3,761.4 156.3,763.4 160.4,765.5 C164.5,767.6 169.3,770.8 173.1,772.3 C176.9,773.8 178.9,774.4 183.0,774.8 C187.1,775.2 191.7,775.1 197.9,774.8 C204.1,774.5 213.0,774.0 220.0,773.0 C227.0,772.0 233.4,769.8 240.1,768.5 C246.8,767.2 253.5,766.4 260.1,765.5 C266.8,764.6 274.0,763.3 280.0,763.0 C286.0,762.7 289.6,763.1 296.3,763.5 C303.0,763.9 313.0,764.7 320.4,765.5 C327.8,766.3 333.7,768.0 340.4,768.5 C347.1,769.0 355.1,769.7 360.5,768.5 C365.9,767.3 369.5,764.0 372.5,761.5 C375.5,759.0 376.8,755.2 378.6,753.4 C380.5,751.5 381.9,751.4 383.6,750.4 L400.0,750.0 L400.0,800.0 L90.0,800.0 Z" fill="#1e46d2" stroke="#000" stroke-width="0.9"/>
<path d="M215.0,800.0 L220.0,789.6 C226.7,786.2 233.4,782.2 240.1,779.5 C246.8,776.8 253.4,774.8 260.1,773.5 C266.8,772.2 273.5,771.8 280.2,771.5 C286.9,771.2 293.6,770.8 300.3,771.5 C307.0,772.2 313.7,773.5 320.4,775.5 C327.1,777.5 335.4,780.8 340.4,783.5 C345.4,786.2 347.1,789.2 350.5,792.0 L352.0,800.0 L215.0,800.0 Z" fill="#4b37c8"/>
<path d="M376.0,800.0 L378.6,775.5 C380.3,772.8 381.9,770.2 383.6,767.5 L390.0,767.0 L390.0,800.0 L376.0,800.0 Z" fill="#4b37c8"/>
<path d="M136.3,588.0 C135.7,591.6 136.7,604.7 135.3,608.4 C134.0,612.1 129.7,608.7 128.2,610.4 C126.7,612.1 125.8,615.8 126.2,618.5 C126.6,621.2 128.0,624.2 130.3,626.5 C132.7,628.8 137.4,630.6 140.3,632.5 C143.2,634.4 145.3,635.6 148.0,638.0 C150.7,640.4 153.8,644.2 156.3,647.0 C158.8,649.8 161.0,652.8 163.0,655.0 C165.0,657.2 167.2,659.9 168.4,660.1 C169.7,660.3 169.6,658.2 170.5,656.0 C171.4,653.8 173.2,650.0 174.0,647.0 C174.8,644.0 174.9,640.8 175.0,638.0 C175.1,635.2 175.2,631.9 174.4,630.0 C173.6,628.1 172.7,629.1 170.4,626.5 C168.1,623.9 163.8,618.5 160.4,614.5 C157.1,610.5 153.3,606.4 150.3,602.4 C147.3,598.4 144.2,593.0 142.3,590.4 C140.4,587.8 140.0,587.4 139.0,587.0 C138.0,586.6 136.9,584.4 136.3,588.0 Z" fill="#ffa000" stroke="#000" stroke-width="0.9"/>
<path d="M124.2,568.8 C124.2,569.5 123.9,570.3 123.5,570.9 C123.0,571.6 122.3,572.2 121.4,572.7 C120.6,573.2 119.5,573.6 118.3,573.9 C117.2,574.1 115.9,574.3 114.7,574.3 C113.5,574.3 112.2,574.1 111.1,573.9 C109.9,573.6 108.8,573.2 108.0,572.7 C107.1,572.2 106.4,571.6 105.9,570.9 C105.5,570.3 105.2,569.5 105.2,568.8 C105.2,568.1 105.5,567.3 105.9,566.7 C106.4,566.0 107.1,565.4 108.0,564.9 C108.8,564.4 109.9,564.0 111.1,563.7 C112.2,563.5 113.5,563.3 114.7,563.3 C115.9,563.3 117.2,563.5 118.3,563.7 C119.5,564.0 120.6,564.4 121.4,564.9 C122.3,565.4 123.0,566.0 123.5,566.7 C123.9,567.3 124.2,568.1 124.2,568.8 Z" fill="#ffa000" stroke="#000" stroke-width="0.9"/>
<path d="M176.1,530.1 C178.4,526.4 178.1,522.4 180.1,520.1 C182.1,517.8 186.2,517.8 188.2,516.1 C190.2,514.4 192.2,512.8 192.2,510.1 C192.2,507.4 189.5,503.4 188.2,500.0 L188.2,490.0 L206.2,490.0 L206.2,502.0 C208.9,503.4 212.0,504.4 214.3,506.1 C216.7,507.8 218.6,509.8 220.3,512.1 C222.0,514.4 223.0,517.4 224.3,520.1 C225.6,522.8 228.6,526.4 228.3,528.1 C228.0,529.8 224.6,530.4 222.3,530.1 C220.0,529.8 217.0,527.4 214.3,526.1 C211.6,524.8 209.2,522.8 206.2,522.1 C203.2,521.4 198.9,521.4 196.2,522.1 C193.5,522.8 191.2,524.1 190.2,526.1 C189.2,528.1 189.2,532.2 190.2,534.2 C191.2,536.2 193.5,536.9 196.2,538.2 C198.9,539.5 203.5,540.9 206.2,542.2 C208.9,543.5 210.3,544.5 212.3,546.2 C214.3,547.9 216.3,550.9 218.3,552.2 C220.3,553.5 221.6,553.9 224.3,554.2 C227.0,554.5 231.6,554.9 234.3,554.2 C237.0,553.5 238.4,551.5 240.4,550.2 C242.4,548.9 244.4,547.9 246.4,546.2 C248.4,544.5 250.4,541.7 252.4,540.2 C254.4,538.7 256.4,537.2 258.4,537.2 C260.4,537.2 263.2,538.8 264.2,540.0 C265.2,541.2 264.9,541.8 264.2,544.2 C263.5,546.6 261.5,550.9 260.1,554.2 C258.8,557.6 256.9,560.9 256.1,564.3 C255.3,567.6 254.4,570.6 255.1,574.3 C255.8,578.0 257.9,583.3 260.1,586.3 C262.3,589.3 265.5,590.0 268.2,592.4 C270.9,594.8 274.5,597.4 276.2,600.4 C277.9,603.4 278.5,607.4 278.2,610.4 C277.9,613.4 276.5,616.5 274.2,618.5 C271.9,620.5 268.2,621.5 264.2,622.5 C260.2,623.5 254.1,623.5 250.1,624.5 C246.1,625.5 243.1,626.8 240.1,628.5 C237.1,630.2 234.0,631.8 232.0,634.5 C230.0,637.2 228.7,640.8 228.0,645.0 C227.3,649.2 228.2,655.5 227.6,659.9 C227.0,664.3 226.2,668.5 224.3,671.5 C222.4,674.5 217.7,675.6 216.0,678.1 C214.3,680.6 215.2,683.4 214.4,686.4 C213.6,689.4 212.8,694.1 211.1,696.3 C209.4,698.5 206.7,699.6 204.5,699.6 C202.3,699.6 200.4,698.2 197.9,696.3 C195.4,694.4 191.3,691.3 189.6,688.0 C187.9,684.7 187.9,680.5 187.9,676.4 C187.9,672.3 188.2,667.6 189.6,663.2 C191.0,658.8 194.8,655.5 196.2,650.0 C197.6,644.5 198.5,635.4 198.2,630.5 C197.9,625.6 195.9,623.9 194.2,620.5 C192.5,617.1 190.5,613.4 188.2,610.4 C185.8,607.4 183.1,605.1 180.1,602.4 C177.1,599.7 173.4,597.4 170.1,594.4 C166.8,591.4 162.6,587.6 160.1,584.3 C157.6,580.9 156.1,577.6 155.1,574.3 C154.1,571.0 153.6,568.0 154.1,564.3 C154.6,560.6 156.1,555.9 158.1,552.2 C160.1,548.5 163.1,545.9 166.1,542.2 C169.1,538.5 173.8,533.8 176.1,530.1 Z" fill="#ff6400"/>
<path d="M204.2,570.3 C204.5,568.0 206.5,566.0 208.2,566.3 C209.9,566.6 212.3,570.0 214.3,572.3 C216.3,574.6 217.6,578.0 220.3,580.3 C223.0,582.6 227.0,584.9 230.3,586.3 C233.7,587.6 237.1,587.7 240.4,588.4 C243.8,589.1 247.7,588.7 250.4,590.4 C253.1,592.1 255.7,595.4 256.4,598.4 C257.1,601.4 256.1,605.7 254.4,608.4 C252.7,611.1 249.4,612.5 246.4,614.5 C243.4,616.5 239.3,618.8 236.3,620.5 C233.3,622.2 230.6,622.8 228.3,624.5 C226.0,626.2 223.6,627.9 222.3,630.5 C221.0,633.1 221.4,636.8 220.3,640.0 C219.2,643.2 217.3,646.7 216.0,650.0 C214.7,653.3 214.3,658.0 212.7,659.9 C211.0,661.8 208.3,661.9 206.1,661.6 C203.9,661.3 200.6,660.2 199.5,658.3 C198.4,656.4 199.8,653.0 199.5,650.0 C199.2,647.0 198.6,643.9 198.0,640.0 C197.4,636.1 197.5,630.8 196.2,626.5 C194.9,622.2 192.2,617.9 190.2,614.5 C188.2,611.1 184.9,608.6 184.2,606.4 C183.5,604.2 184.2,602.6 186.2,601.4 C188.2,600.2 192.9,599.9 196.2,599.4 C199.5,598.9 203.8,599.9 206.2,598.4 C208.5,596.9 210.3,593.4 210.3,590.4 C210.3,587.4 207.2,583.6 206.2,580.3 C205.2,576.9 203.9,572.6 204.2,570.3 Z" fill="#ff3200"/>
<path d="M350.5,518.1 C349.8,514.4 354.2,509.8 356.5,506.1 C358.8,502.4 361.8,499.4 364.5,496.0 L364.5,490.0 L390.0,490.0 L390.0,524.1 L382.6,524.1 C379.2,525.8 376.2,528.4 372.5,529.1 C368.8,529.8 364.2,529.9 360.5,528.1 C356.8,526.3 351.2,521.8 350.5,518.1 Z" fill="#ff6400"/>
<path d="M372.5,490.0 L385.0,490.0 L385.0,512.0 L376.0,508.0 L372.5,490.0 Z" fill="#ff3200"/>
<path d="M74.0,485.0 L74.0,495.0 C75.3,496.7 76.0,497.8 78.0,500.0 C80.0,502.2 83.8,508.1 86.1,508.1 C88.4,508.1 89.8,501.5 92.1,500.0 C94.4,498.5 97.1,498.3 100.1,499.0 C103.1,499.7 107.8,501.9 110.2,504.1 C112.6,506.3 112.5,510.4 114.2,512.1 C115.9,513.8 118.2,515.1 120.2,514.1 C122.2,513.1 124.5,509.3 126.2,506.1 C127.9,502.9 128.9,498.7 130.3,495.0 L130.3,485.0 L74.0,485.0 Z" fill="#ffbe3c" stroke="#000" stroke-width="0.9"/>
<path d="M98.0,494.0 C95.0,494.7 98.0,497.0 100.0,498.0 C102.0,499.0 107.0,500.2 110.0,500.0 C113.0,499.8 116.7,498.0 118.0,497.0 C119.3,496.0 121.3,494.5 118.0,494.0 C114.7,493.5 101.0,493.3 98.0,494.0 Z" fill="#ffe678"/>
<g fill="none" stroke="#a8a8a8" stroke-width="1.1" stroke-linejoin="round"><path d="M127.8,493.4 L127.8,494.2 L127.1,498.2 L126.7,504.1 L126.0,508.1 L126.4,510.8 L128.5,514.0 L130.3,516.0 L131.4,516.8 L134.9,518.8 L139.2,517.2 L141.0,515.6 L144.5,516.4 L148.5,519.5 L150.6,521.9 L151.7,518.8 L153.4,516.4 L154.9,512.4 L157.7,510.0 L159.8,508.9 L163.4,508.9 L167.0,506.9 L169.8,504.5 L170.9,506.9 L169.1,510.4 L171.2,510.0 L174.1,507.7 L174.8,505.3 L175.5,508.1 L180.5,510.4 L185.5,511.6 L191.9,513.6 L195.4,511.6 L199.7,511.2 L203.6,511.2 L202.2,514.0 L205.1,515.2 L206.8,519.5 L210.8,520.7 L215.7,524.7 L218.2,527.9 L221.1,529.8 L225.0,530.2 L231.8,530.6 L235.3,531.8 L238.9,535.0 L240.3,537.0 L242.4,539.7 L243.5,544.9 L246.0,546.9 L246.0,550.4 L244.9,551.6 L247.8,554.0 L251.3,556.0 L251.7,559.1 L253.5,556.4 L257.0,557.2 L262.4,558.7 L265.6,563.1 L269.5,563.5 L275.2,564.7 L279.8,564.7 L284.4,566.3 L286.9,568.3 L291.6,572.6 L296.2,573.8 L298.7,575.4 L299.8,581.3 L299.8,585.7 L298.3,590.0 L295.8,594.0 L292.3,597.2 L288.7,603.5 L285.5,607.1 L285.2,612.2 L285.5,617.0 L284.4,622.9 L282.7,628.8 L280.9,634.0 L278.4,638.7 L278.0,640.7 L274.5,644.3 L270.2,644.7 L265.9,644.7 L262.4,647.8 L258.5,649.0 L253.5,652.6 L251.0,656.6 L251.0,660.5 L250.3,666.5 L247.1,669.6 L244.9,674.4 L242.1,678.7 L238.2,681.5 L235.0,687.1 L232.5,689.8 L228.6,691.8 L223.9,691.8 L219.7,689.8 L216.1,688.2 L216.1,690.6 L220.0,693.4 L222.1,697.3 L219.3,704.5 L215.0,706.5 L209.3,707.6 L203.3,707.2 L202.2,709.2 L203.3,712.0 L201.9,714.4 L196.9,716.0 L192.6,716.0 L192.6,719.9 L197.6,722.3 L196.2,723.5 L194.0,722.3 L192.6,725.9 L191.5,729.8 L186.2,731.8 L183.7,735.8 L184.1,737.7 L189.0,740.5 L189.4,742.9 L184.1,746.8 L181.9,751.6 L178.4,753.6 L178.7,757.9 L180.5,760.7 L176.6,761.5 L173.0,763.5 L171.2,766.6 L167.7,765.5 L165.9,763.5 L162.3,762.7 L158.8,761.5 L157.0,757.5 L155.2,751.6 L155.2,745.7 L158.8,739.7 L154.9,738.1 L158.8,735.0 L162.0,729.8 L164.1,723.9 L164.8,719.9 L162.7,718.3 L161.6,714.0 L162.7,710.0 L162.0,702.1 L163.8,698.5 L165.9,694.2 L167.7,689.0 L169.1,684.3 L169.5,680.3 L169.1,674.4 L170.2,670.4 L171.6,662.5 L173.0,654.6 L173.0,646.7 L174.4,638.7 L174.1,630.8 L173.7,626.1 L170.2,623.3 L165.9,620.1 L160.6,616.2 L156.3,613.8 L152.7,609.0 L152.4,605.9 L149.5,601.1 L147.4,597.2 L145.6,593.2 L143.5,589.2 L141.0,584.5 L139.6,580.5 L135.6,577.4 L134.9,574.2 L134.6,571.8 L137.4,567.5 L139.6,564.7 L138.1,563.5 L136.0,562.3 L136.4,558.4 L137.8,555.6 L139.2,551.6 L140.6,549.6 L143.1,547.7 L144.2,544.5 L147.0,543.3 L149.2,538.6 L148.5,535.8 L148.8,529.8 L147.0,525.9 L145.3,522.7 L144.5,521.1 L142.8,518.8 L141.0,518.0 L139.2,520.3 L137.8,523.9 L135.6,522.7 L133.5,521.9 L128.9,521.1 L126.4,519.5 L125.0,516.8 L121.4,514.8 L120.7,514.0 L118.6,512.4 L118.9,510.0 L116.1,506.9 L113.2,503.7 L112.1,501.7 L110.7,501.3 L107.9,500.9 L103.6,499.0 L100.0,498.2 L95.8,496.2 L92.9,493.4"/><path d="M180.5,761.9 L179.8,771.0 L185.5,771.4 L191.9,770.2 L187.3,768.2 L183.3,766.6 L181.2,764.3 L180.5,761.9"/><path d="M176.6,768.2 L173.0,770.6 L168.4,769.8 L164.8,766.6 L169.5,765.9 L174.1,767.0 L176.6,768.2"/><path d="M162.3,763.5 L158.4,763.1 L156.3,760.3 L159.8,760.7 L162.3,763.5"/><path d="M159.8,757.5 L155.6,755.6 L155.9,752.4 L158.8,754.0 L159.8,757.5"/><path d="M158.4,750.8 L154.9,749.6 L155.2,746.5 L157.7,747.2 L158.4,750.8"/><path d="M159.5,729.8 L157.0,728.6 L157.7,726.7 L159.8,727.4 L159.5,729.8"/><path d="M161.3,725.5 L159.5,724.7 L160.6,719.1 L162.3,719.5 L162.3,723.1 L161.3,725.5"/><path d="M205.8,756.7 L212.2,756.7 L218.2,757.9 L215.7,760.3 L209.7,760.3 L206.1,758.7 L205.8,756.7"/><path d="M288.7,767.4 L294.1,768.2 L296.6,770.2 L292.3,769.0 L288.7,767.4"/><path d="M98.3,554.8 L100.4,553.2 L101.5,556.0 L99.3,557.6 L98.3,554.8"/><path d="M101.8,555.2 L102.9,555.6 L102.5,556.8 L101.5,556.4 L101.8,555.2"/><path d="M203.6,513.6 L206.8,510.8 L207.2,513.2 L204.7,514.0 L203.6,513.6"/><path d="M206.1,500.9 L206.5,501.7"/><path d="M204.3,505.3 L204.7,506.1"/><path d="M206.8,497.8 L207.2,499.3"/><path d="M361.3,493.4 L362.8,495.4 L364.2,500.1 L364.5,504.9 L368.8,508.1 L372.4,512.0 L376.7,516.0 L377.7,520.7 L381.3,524.3 L384.1,526.7 L388.4,529.8"/><path d="M244.2,554.8 L249.6,554.0 L251.7,556.8 L251.0,559.9 L246.7,559.9 L244.2,554.8"/><path d="M240.3,537.0 L237.1,544.5 L231.4,544.9 L228.2,543.7 L222.9,546.1 L217.5,547.7 L211.5,546.5 L210.4,543.7 L211.5,537.8 L207.9,533.0 L205.4,536.2 L200.4,537.8 L196.2,537.4 L194.0,544.5 L196.2,546.5 L190.8,550.8 L185.8,548.8 L176.6,549.2 L174.8,551.6 L176.2,555.6 L176.9,558.0 L175.2,570.2 L169.5,571.4 L164.1,573.4 L163.4,579.3 L160.6,582.5 L164.1,590.8 L167.0,592.8 L172.7,591.2 L172.7,597.2 L176.2,597.0 L179.8,597.2 L188.0,592.4 L191.2,593.2 L191.5,599.1 L195.1,603.1 L200.4,605.1 L204.0,607.5 L209.0,607.1 L209.7,613.4 L216.5,618.1 L216.1,622.1 L219.3,625.7 L218.9,632.8 L217.2,633.6 L218.2,641.1 L224.6,641.9 L226.1,643.1 L226.8,648.6 L230.7,649.0 L229.6,654.6 L232.1,655.0 L233.2,657.7 L232.5,660.9 L225.7,664.9 L218.9,673.2 L224.6,676.0 L226.1,675.6 L232.1,678.7 L233.9,682.7 L233.5,687.1"/><path d="M169.1,506.1 L167.0,509.6 L165.9,514.0 L164.1,517.2 L166.3,521.9 L167.0,524.7 L174.4,525.9 L182.6,529.0 L184.1,533.8 L182.6,537.8 L184.4,545.7 L185.8,548.8"/><path d="M207.9,533.0 L205.4,530.2 L209.0,525.9 L210.8,520.7"/><path d="M220.7,530.2 L217.5,538.6 L222.9,546.1"/><path d="M231.8,531.0 L230.3,539.7 L231.4,544.9"/><path d="M143.1,548.1 L148.5,550.4 L155.2,554.0 L156.3,557.2 L162.3,559.5 L167.7,563.1 L174.8,569.4 L175.2,570.2"/><path d="M138.1,567.1 L141.0,571.4 L144.5,567.5 L151.7,563.9 L156.3,557.2"/><path d="M176.2,597.0 L179.1,603.1 L178.7,607.1 L176.9,613.0 L178.4,617.8 L176.6,622.9 L173.4,626.3"/><path d="M176.6,622.9 L180.1,628.8 L179.1,634.8 L181.2,637.9 L182.6,643.9 L188.3,639.9 L195.1,643.1 L201.1,641.5 L202.2,634.8 L204.3,631.2 L213.6,630.0 L216.8,632.0 L219.3,625.7"/><path d="M182.6,643.9 L180.9,650.6 L179.8,660.5 L175.5,670.4 L174.4,680.3 L174.8,688.2 L172.7,698.1 L170.9,706.1 L168.7,714.0 L168.4,723.9 L169.1,731.8 L167.0,739.7 L163.4,749.6 L166.6,755.6 L168.0,759.5 L178.4,760.7"/><path d="M201.1,641.5 L206.8,646.7 L212.2,651.4 L217.5,655.8 L218.9,661.3 L224.6,662.1 L229.6,654.6"/><path d="M218.9,673.2 L217.5,676.4 L216.8,682.3 L216.1,688.2"/><path d="M228.6,544.1 L231.8,551.6 L237.1,557.2 L239.2,558.4"/><path d="M214.3,548.8 L217.5,555.6 L223.2,563.1 L216.1,582.5 L216.8,582.9"/><path d="M216.8,582.9 L224.6,590.4 L237.1,591.2 L245.3,592.4"/><path d="M245.3,592.4 L247.8,585.3 L249.6,579.3 L252.1,574.6"/><path d="M252.1,574.6 L254.9,569.4 L258.1,563.5 L259.9,558.0"/><path d="M252.1,574.6 L254.9,579.3 L258.5,585.3 L260.2,589.2 L260.6,594.4"/><path d="M275.2,565.1 L272.3,571.4 L269.1,577.4 L263.8,587.3 L260.6,594.4"/><path d="M260.6,594.4 L258.5,601.1 L259.5,607.1 L259.5,613.0"/><path d="M278.0,565.1 L278.4,573.4 L279.8,582.9 L277.0,587.3 L272.7,591.2 L269.1,595.2 L260.6,594.4"/><path d="M291.2,572.6 L286.9,578.5 L286.6,581.3 L291.6,582.5 L299.4,582.5"/><path d="M279.8,582.9 L283.4,585.3 L288.7,587.3 L295.1,589.2 L298.3,590.0"/><path d="M278.8,589.2 L285.2,590.0 L288.7,592.4 L294.4,595.2"/><path d="M245.3,592.4 L243.5,605.1 L240.7,615.0 L236.0,624.9"/><path d="M236.0,624.9 L228.2,624.1 L216.8,622.9"/><path d="M205.1,588.4 L208.6,595.2 L210.4,607.1"/><path d="M205.1,588.4 L200.4,585.3 L188.0,592.4"/><path d="M186.9,592.8 L174.8,587.3 L161.3,581.7"/><path d="M259.5,613.0 L265.6,610.6 L272.7,613.0 L279.8,616.2 L282.0,624.5"/><path d="M259.5,604.7 L251.3,605.1 L243.5,605.1"/><path d="M259.5,613.0 L255.6,616.2 L254.9,624.9 L249.6,627.3 L242.4,630.8"/><path d="M242.4,630.8 L240.7,632.8 L235.3,642.7 L231.0,648.6"/><path d="M242.4,632.4 L249.6,633.6 L253.8,633.2 L258.5,638.7 L263.8,642.7 L265.6,645.5"/><path d="M235.0,643.1 L244.2,644.3 L249.6,645.5 L253.1,650.6 L252.4,653.8"/><path d="M232.5,657.4 L242.4,657.4 L251.0,656.6"/><path d="M232.5,660.9 L240.7,662.5 L246.0,668.4 L247.1,669.6"/><path d="M274.8,637.6 L270.9,640.7 L265.6,645.5"/><path d="M282.0,624.5 L278.0,627.3 L275.2,634.8 L278.0,637.9"/><path d="M253.1,615.0 L255.6,615.0 L255.6,617.0 L253.1,617.0 L253.1,615.0"/></g><path d="M161.7,717.3 L158.9,726.7 L155.1,736.2 L154.2,744.7 L155.1,754.1 L157.9,761.7 L163.6,767.3 L171.2,772.0 L179.7,774.4 L185.3,774.9 L185.3,771.1 L177.8,769.2 L171.2,765.4 L165.5,760.7 L163.6,754.1 L162.7,744.7 L164.5,736.2 L166.4,726.7 L166.4,717.3 Z" fill="#a8a8a8" fill-opacity="0.5" stroke="#a8a8a8" stroke-width="1"/>
<rect x="156.7" y="516.8" width="13.5" height="8.6" fill="#fff"/><text x="164.0" y="524.4" font-size="9.2" letter-spacing="1.2" text-anchor="middle" fill="#222">18</text>
<rect x="129.8" y="583.0" width="13.5" height="8.6" fill="#fff"/><text x="137.2" y="590.6" font-size="9.2" letter-spacing="1.2" text-anchor="middle" fill="#222">18</text>
<rect x="280.4" y="630.2" width="13.5" height="8.6" fill="#fff"/><text x="287.8" y="637.8" font-size="9.2" letter-spacing="1.2" text-anchor="middle" fill="#222">18</text>
<rect x="73.6" y="705.4" width="7.0" height="8.6" fill="#fff"/><text x="77.1" y="713.0" font-size="9.2" letter-spacing="0" text-anchor="middle" fill="#222">9</text>
<rect x="200.1" y="749.8" width="7.0" height="8.6" fill="#fff"/><text x="203.6" y="757.4" font-size="9.2" letter-spacing="0" text-anchor="middle" fill="#222">9</text>
<rect x="123.7" y="744.1" width="7.0" height="8.6" fill="#fff"/><text x="127.2" y="751.7" font-size="9.2" letter-spacing="0" text-anchor="middle" fill="#222">0</text>
<rect x="292.8" y="759.2" width="7.0" height="8.6" fill="#fff"/><text x="296.3" y="766.8" font-size="9.2" letter-spacing="0" text-anchor="middle" fill="#222">0</text>
</g>
<rect x="63.0" y="494.0" width="321.0" height="297.5" fill="none" stroke="#000" stroke-width="2"/>
<g stroke="#000" stroke-width="1.2"><line x1="60.0" y1="494.2" x2="63.0" y2="494.2"/><line x1="60.0" y1="514.0" x2="63.0" y2="514.0"/><line x1="60.0" y1="533.8" x2="63.0" y2="533.8"/><line x1="60.0" y1="553.6" x2="63.0" y2="553.6"/><line x1="60.0" y1="573.4" x2="63.0" y2="573.4"/><line x1="60.0" y1="593.2" x2="63.0" y2="593.2"/><line x1="60.0" y1="613.0" x2="63.0" y2="613.0"/><line x1="60.0" y1="632.8" x2="63.0" y2="632.8"/><line x1="60.0" y1="652.6" x2="63.0" y2="652.6"/><line x1="60.0" y1="672.4" x2="63.0" y2="672.4"/><line x1="60.0" y1="692.2" x2="63.0" y2="692.2"/><line x1="60.0" y1="712.0" x2="63.0" y2="712.0"/><line x1="60.0" y1="731.8" x2="63.0" y2="731.8"/><line x1="60.0" y1="751.6" x2="63.0" y2="751.6"/><line x1="60.0" y1="771.4" x2="63.0" y2="771.4"/><line x1="60.0" y1="791.2" x2="63.0" y2="791.2"/><line x1="68.0" y1="791.5" x2="68.0" y2="794.5"/><line x1="103.6" y1="791.5" x2="103.6" y2="794.5"/><line x1="139.2" y1="791.5" x2="139.2" y2="794.5"/><line x1="174.8" y1="791.5" x2="174.8" y2="794.5"/><line x1="210.4" y1="791.5" x2="210.4" y2="794.5"/><line x1="246.0" y1="791.5" x2="246.0" y2="794.5"/><line x1="281.6" y1="791.5" x2="281.6" y2="794.5"/><line x1="317.2" y1="791.5" x2="317.2" y2="794.5"/><line x1="352.8" y1="791.5" x2="352.8" y2="794.5"/></g>
<g font-size="9.5" font-weight="bold" fill="#000"><text x="58.5" y="497.6" text-anchor="end">15N</text><text x="58.5" y="517.4" text-anchor="end">10N</text><text x="58.5" y="537.2" text-anchor="end">5N</text><text x="58.5" y="557.0" text-anchor="end">EQ</text><text x="58.5" y="576.8" text-anchor="end">5S</text><text x="58.5" y="596.6" text-anchor="end">10S</text><text x="58.5" y="616.4" text-anchor="end">15S</text><text x="58.5" y="636.2" text-anchor="end">20S</text><text x="58.5" y="656.0" text-anchor="end">25S</text><text x="58.5" y="675.8" text-anchor="end">30S</text><text x="58.5" y="695.6" text-anchor="end">35S</text><text x="58.5" y="715.4" text-anchor="end">40S</text><text x="58.5" y="735.2" text-anchor="end">45S</text><text x="58.5" y="755.0" text-anchor="end">50S</text><text x="58.5" y="774.8" text-anchor="end">55S</text><text x="58.5" y="794.6" text-anchor="end">60S</text><text x="68.0" y="801.8" text-anchor="middle" textLength="21.5" lengthAdjust="spacingAndGlyphs">100W</text><text x="103.6" y="801.8" text-anchor="middle" textLength="17.3" lengthAdjust="spacingAndGlyphs">90W</text><text x="139.2" y="801.8" text-anchor="middle" textLength="17.3" lengthAdjust="spacingAndGlyphs">80W</text><text x="174.8" y="801.8" text-anchor="middle" textLength="17.3" lengthAdjust="spacingAndGlyphs">70W</text><text x="210.4" y="801.8" text-anchor="middle" textLength="17.3" lengthAdjust="spacingAndGlyphs">60W</text><text x="246.0" y="801.8" text-anchor="middle" textLength="17.3" lengthAdjust="spacingAndGlyphs">50W</text><text x="281.6" y="801.8" text-anchor="middle" textLength="17.3" lengthAdjust="spacingAndGlyphs">40W</text><text x="317.2" y="801.8" text-anchor="middle" textLength="17.3" lengthAdjust="spacingAndGlyphs">30W</text><text x="352.8" y="801.8" text-anchor="middle" textLength="17.3" lengthAdjust="spacingAndGlyphs">20W</text></g>
<text x="223.5" y="485.0" font-size="18" text-anchor="middle" textLength="231" lengthAdjust="spacingAndGlyphs" stroke="#fff" stroke-width="0.2">cluster:  3   membros:  1</text>
<clipPath id="clip3"><rect x="522.0" y="494.0" width="321.0" height="297.5"/></clipPath>
<g clip-path="url(#clip3)">
<rect x="522.0" y="494.0" width="321.0" height="297.5" fill="#ffa000"/>
<path d="M510.0,537.0 L523.0,537.2 C527.0,537.9 530.8,538.0 535.1,539.2 C539.5,540.4 545.1,543.7 549.1,544.2 C553.1,544.7 555.8,542.7 559.1,542.2 C562.5,541.7 567.0,540.2 569.2,541.2 C571.4,542.2 572.2,544.7 572.2,548.2 C572.2,551.7 571.7,558.3 569.2,562.3 C566.7,566.3 559.3,569.6 557.1,572.3 C554.9,575.0 555.4,575.6 556.1,578.3 C556.8,581.0 559.7,585.0 561.2,588.4 C562.7,591.8 563.5,596.7 565.2,598.4 C566.9,600.1 569.7,599.4 571.2,598.4 C572.7,597.4 573.9,595.1 574.2,592.4 C574.5,589.7 572.4,585.1 573.2,582.3 C574.0,579.4 576.5,576.3 578.8,575.3 C581.1,574.3 585.1,575.1 587.2,576.3 C589.3,577.5 590.4,579.3 591.3,582.3 C592.1,585.3 591.3,591.0 592.3,594.4 C593.3,597.8 596.5,599.7 597.3,602.4 C598.1,605.1 598.3,608.0 597.3,610.4 C596.3,612.8 592.0,614.5 591.3,616.5 C590.6,618.5 591.6,620.5 593.3,622.5 C595.0,624.5 599.7,627.2 601.3,628.5 C602.9,629.8 601.1,627.0 603.1,630.0 C605.1,633.0 609.8,641.0 613.1,646.5 C616.4,652.0 620.9,659.9 623.0,663.1 C625.1,666.3 625.0,665.2 625.5,665.5 C626.0,665.8 625.6,665.9 626.3,664.7 C627.0,663.5 628.5,661.7 629.6,658.1 C630.7,654.5 632.4,647.6 632.9,643.2 C633.4,638.9 633.5,634.5 632.9,632.0 C632.3,629.5 631.0,630.8 629.4,628.5 C627.8,626.2 626.1,621.9 623.4,618.5 C620.7,615.1 616.3,611.8 613.3,608.4 C610.3,605.0 607.6,601.7 605.3,598.4 C603.0,595.1 601.0,592.1 599.3,588.4 C597.6,584.7 596.1,581.0 595.3,576.3 C594.5,571.6 594.3,564.6 594.3,560.3 C594.3,555.9 594.5,552.9 595.3,550.2 C596.1,547.5 597.3,546.9 599.3,544.2 C601.3,541.5 605.3,537.1 607.3,534.2 C609.3,531.4 609.6,528.8 611.3,527.1 C613.0,525.4 615.5,524.9 617.4,524.1 C619.2,523.3 620.7,521.9 622.4,522.1 C624.1,522.3 627.2,522.8 627.4,525.1 C627.6,527.5 625.8,532.0 623.4,536.2 C621.0,540.4 616.0,545.5 613.3,550.2 C610.6,554.9 608.3,559.9 607.3,564.3 C606.3,568.6 606.6,572.6 607.3,576.3 C608.0,580.0 609.3,582.9 611.3,586.3 C613.3,589.6 616.0,593.4 619.4,596.4 C622.8,599.4 627.4,601.7 631.4,604.4 C635.4,607.1 640.1,609.4 643.5,612.4 C646.9,615.4 649.8,619.6 651.5,622.5 C653.2,625.4 653.4,626.5 653.6,630.0 C653.8,633.5 654.0,638.2 652.7,643.2 C651.5,648.2 648.0,654.6 646.1,659.8 C644.2,665.0 641.8,670.2 641.2,674.6 C640.7,679.0 641.4,682.6 642.8,686.2 C644.2,689.8 647.2,692.5 649.4,696.1 C651.6,699.7 653.8,704.4 656.0,707.7 C658.2,711.0 660.4,713.7 662.6,716.0 C664.8,718.3 667.1,720.2 669.3,721.7 C671.5,723.2 673.4,725.3 675.9,725.0 C678.4,724.7 682.6,722.7 684.1,720.1 C685.6,717.5 685.1,713.3 685.0,709.3 C684.9,705.3 683.2,701.0 683.3,696.1 C683.4,691.2 684.6,685.1 685.8,679.6 C687.0,674.1 689.3,668.1 690.7,663.1 C692.1,658.1 693.5,653.7 694.0,649.8 C694.5,645.9 693.2,642.1 694.0,639.9 C694.8,637.7 696.0,637.4 699.0,636.6 C702.0,635.8 709.2,635.5 712.2,635.0 C715.2,634.5 712.9,633.9 717.1,633.5 C721.3,633.1 732.5,632.0 737.2,632.5 C741.9,633.0 742.9,635.2 745.2,636.5 C747.6,637.8 749.3,640.2 751.3,640.5 C753.3,640.8 755.6,639.8 757.3,638.5 C759.0,637.2 758.8,633.8 761.3,632.5 C763.8,631.2 769.6,632.2 772.3,630.5 C775.0,628.8 775.9,625.5 777.4,622.5 C778.9,619.5 779.4,615.8 781.4,612.4 C783.4,609.0 786.1,605.1 789.4,602.4 C792.7,599.7 797.7,599.1 801.4,596.4 C805.1,593.7 808.8,589.3 811.5,586.3 C814.2,583.3 814.5,580.3 817.5,578.3 C820.5,576.3 825.5,575.5 829.5,574.3 C833.5,573.1 837.6,572.3 841.6,571.3 L860.0,571.0 L860.0,800.0 L510.0,800.0 L510.0,537.0 Z" fill="#ffbe3c" stroke="#000" stroke-width="0.9"/>
<path d="M510.0,588.0 L523.0,588.4 C528.4,587.7 535.1,585.6 539.1,586.3 C543.1,587.0 545.4,589.7 547.1,592.4 C548.8,595.1 547.8,600.1 549.1,602.4 C550.4,604.7 552.1,605.4 555.1,606.4 C558.1,607.4 564.2,607.0 567.2,608.4 C570.2,609.8 571.5,611.5 573.2,614.5 C574.9,617.5 575.2,623.9 577.2,626.5 C579.2,629.1 582.3,627.2 585.0,630.0 C587.7,632.8 589.9,638.8 593.2,643.2 C596.5,647.6 600.9,652.0 604.8,656.4 C608.7,660.8 613.1,665.8 616.4,669.7 C619.7,673.6 622.4,677.7 624.6,679.6 C626.8,681.5 628.0,682.0 629.6,681.2 C631.2,680.4 633.4,677.6 634.5,674.6 C635.6,671.6 635.8,667.8 636.2,663.1 C636.6,658.4 636.7,652.0 637.0,646.5 C637.3,641.0 638.2,634.0 637.9,630.0 C637.6,626.0 636.8,625.4 635.4,622.5 C634.0,619.6 632.4,615.8 629.4,612.4 C626.4,609.0 621.1,606.1 617.4,602.4 C613.7,598.7 609.8,594.1 607.3,590.4 C604.8,586.7 602.8,582.3 602.3,580.3 C601.8,578.3 603.5,578.7 604.0,578.5 C604.5,578.3 603.4,577.3 605.3,579.3 C607.2,581.3 611.6,586.9 615.3,590.4 C619.0,593.9 623.4,597.1 627.4,600.4 C631.4,603.7 636.3,607.1 639.4,610.4 C642.5,613.7 644.9,616.7 646.0,620.0 C647.1,623.3 646.1,625.6 646.1,630.0 C646.1,634.4 646.9,641.0 646.1,646.5 C645.3,652.0 642.6,658.1 641.2,663.1 C639.8,668.1 638.5,672.2 637.9,676.3 C637.3,680.4 637.1,684.0 637.9,687.9 C638.7,691.8 640.9,695.8 642.8,699.4 C644.7,703.0 646.9,706.3 649.4,709.3 C651.9,712.3 654.7,715.1 657.7,717.6 C660.7,720.1 665.1,722.3 667.6,724.2 C670.1,726.1 670.1,727.8 672.6,729.2 C675.1,730.6 679.2,732.0 682.5,732.5 C685.8,733.0 689.6,733.3 692.4,732.5 C695.1,731.7 697.9,730.8 699.0,727.5 C700.1,724.2 699.5,717.8 699.0,712.6 C698.5,707.4 696.2,701.6 695.7,696.1 C695.2,690.6 695.2,684.3 695.7,679.6 C696.2,674.9 697.1,671.6 699.0,668.0 C700.9,664.4 704.5,660.9 707.3,658.1 C710.0,655.4 713.4,653.1 715.5,651.5 C717.6,649.9 717.7,648.6 720.0,648.2 C722.3,647.8 724.7,648.5 729.2,649.1 C733.8,649.8 741.9,650.8 747.3,652.1 C752.6,653.4 757.0,655.3 761.3,657.1 C765.6,658.9 769.3,660.9 773.3,663.1 C777.3,665.3 781.4,668.4 785.4,670.1 C789.4,671.8 794.0,672.9 797.4,673.1 C800.8,673.3 804.5,673.4 805.5,671.1 C806.5,668.8 802.8,663.1 803.5,659.1 C804.2,655.1 807.5,650.4 809.5,647.0 C811.5,643.6 814.5,641.8 815.5,639.0 C816.5,636.2 815.2,633.9 815.5,630.5 C815.8,627.1 815.8,621.9 817.5,618.5 C819.2,615.1 822.1,612.6 825.5,610.4 C828.9,608.2 833.6,607.1 837.6,605.4 L845.0,604.0 L860.0,604.0 L860.0,800.0 L510.0,800.0 L510.0,588.0 Z" fill="#ffe678"/>
<path d="M510.0,658.0 L523.0,658.1 C527.7,657.1 534.1,657.0 537.1,655.1 C540.1,653.2 539.5,649.5 541.1,647.0 C542.8,644.5 546.0,643.4 547.0,640.0 C548.0,636.6 546.1,629.8 547.1,626.5 C548.1,623.2 550.8,621.5 553.1,620.5 C555.5,619.5 559.2,618.8 561.2,620.5 C563.2,622.2 563.5,627.5 565.2,630.5 C566.9,633.5 568.7,636.4 571.2,638.5 C573.7,640.6 575.8,640.5 580.0,643.2 C584.2,645.9 591.0,650.1 596.5,654.8 C602.0,659.5 608.1,666.3 613.1,671.3 C618.1,676.2 622.4,680.4 626.3,684.5 C630.1,688.6 633.5,692.2 636.2,696.1 C639.0,700.0 640.6,704.1 642.8,707.7 C645.0,711.3 646.6,714.3 649.4,717.6 C652.1,720.9 655.7,724.5 659.3,727.5 C662.9,730.5 667.0,733.3 670.9,735.8 C674.8,738.3 678.4,740.8 682.5,742.4 C686.6,744.0 691.9,745.4 695.7,745.7 C699.6,746.0 702.9,745.6 705.6,744.0 C708.4,742.4 711.9,739.4 712.2,735.8 C712.5,732.2 708.9,727.0 707.3,722.6 C705.6,718.2 703.1,713.7 702.3,709.3 C701.5,704.9 701.5,700.5 702.3,696.1 C703.1,691.7 705.6,686.5 707.3,682.9 C708.9,679.3 710.1,676.8 712.2,674.6 C714.3,672.4 715.8,670.6 720.0,669.7 C724.2,668.8 731.0,668.9 737.2,669.1 C743.4,669.3 750.6,669.8 757.3,671.1 C764.0,672.5 770.7,675.2 777.4,677.2 C784.1,679.2 790.7,681.2 797.4,683.2 C804.1,685.2 810.1,687.5 817.5,689.2 C824.9,690.9 833.6,691.9 841.6,693.2 L860.0,694.0 L860.0,800.0 L510.0,800.0 L510.0,658.0 Z" fill="#78b9fa"/>
<path d="M510.0,685.0 L523.0,685.2 C528.4,684.5 532.1,683.4 539.1,683.2 C546.1,683.0 558.4,683.4 565.2,684.2 C572.0,685.0 574.8,686.5 580.0,687.9 C585.2,689.3 590.2,691.1 596.5,692.8 C602.8,694.4 613.6,696.1 618.0,697.8 C622.4,699.4 621.1,699.7 623.0,702.7 C624.9,705.7 627.1,712.1 629.6,716.0 C632.1,719.9 634.6,723.7 637.9,725.9 C641.2,728.1 646.1,727.6 649.4,729.2 C652.7,730.9 654.9,733.0 657.7,735.8 C660.5,738.5 663.0,742.7 666.0,745.7 C669.0,748.7 672.2,752.1 675.9,754.0 C679.6,755.9 683.6,757.0 688.3,757.3 C693.0,757.6 700.9,755.9 704.0,755.6 C707.1,755.3 703.2,756.3 707.1,755.4 C711.0,754.5 720.5,751.7 727.2,750.4 C733.9,749.1 741.9,748.4 747.3,747.4 C752.6,746.4 757.0,746.1 759.3,744.4 C761.6,742.7 760.3,740.2 761.3,737.4 C762.3,734.5 765.0,730.3 765.3,727.3 C765.6,724.3 765.3,721.1 763.3,719.3 C761.3,717.5 757.6,717.0 753.3,716.3 C748.9,715.6 742.2,716.1 737.2,715.3 C732.2,714.5 726.9,713.6 723.2,711.3 C719.5,708.9 716.5,704.9 715.1,701.2 C713.8,697.5 714.1,692.2 715.1,689.2 C716.1,686.2 718.2,684.4 721.2,683.2 C724.2,682.0 729.2,682.0 733.2,682.2 C737.2,682.4 740.5,684.2 745.2,684.2 C749.9,684.2 755.9,682.0 761.3,682.2 C766.7,682.4 771.4,683.7 777.4,685.2 C783.4,686.7 790.7,689.4 797.4,691.2 C804.1,693.0 810.1,694.7 817.5,696.2 C824.9,697.7 833.6,698.9 841.6,700.2 L860.0,701.0 L860.0,800.0 L510.0,800.0 L510.0,685.0 Z" fill="#3c96f5" stroke="#000" stroke-width="0.9"/>
<path d="M510.0,701.0 L523.0,701.2 C528.4,700.9 533.1,700.5 539.1,700.2 C545.1,699.9 552.3,699.1 559.1,699.2 C565.9,699.4 573.8,700.2 580.0,701.1 C586.2,702.0 591.0,703.0 596.5,704.4 C602.0,705.8 608.7,707.6 613.1,709.3 C617.5,710.9 620.2,712.1 623.0,714.3 C625.8,716.5 626.9,719.6 629.6,722.6 C632.4,725.6 636.2,729.8 639.5,732.5 C642.8,735.2 646.1,736.6 649.4,739.1 C652.7,741.6 656.0,744.4 659.3,747.4 C662.6,750.4 666.0,754.8 669.3,757.3 C672.6,759.8 676.2,761.2 679.2,762.2 C682.2,763.2 682.4,763.8 687.0,763.5 C691.6,763.2 700.4,761.5 707.1,760.5 C713.8,759.5 720.5,758.2 727.2,757.4 C733.9,756.5 740.6,756.1 747.3,755.4 C754.0,754.7 761.9,754.7 767.3,753.4 C772.6,752.1 776.7,750.1 779.4,747.4 C782.1,744.7 780.4,740.4 783.4,737.4 C786.4,734.4 795.1,731.6 797.4,729.3 C799.7,726.9 800.1,726.6 797.4,723.3 C794.7,720.0 786.4,713.3 781.4,709.3 C776.4,705.3 768.0,701.6 767.3,699.2 C766.6,696.9 772.4,695.5 777.4,695.2 C782.4,694.9 790.7,696.2 797.4,697.2 C804.1,698.2 810.1,700.0 817.5,701.2 C824.9,702.4 833.6,703.2 841.6,704.2 L860.0,705.0 L860.0,800.0 L510.0,800.0 L510.0,701.0 Z" fill="#1e6ef0"/>
<path d="M510.0,721.0 L523.0,721.3 C528.4,720.0 533.1,718.5 539.1,717.3 C545.1,716.1 552.3,714.0 559.1,714.3 C565.9,714.6 573.8,717.6 580.0,719.3 C586.2,720.9 591.0,722.6 596.5,724.2 C602.0,725.9 608.4,727.3 613.1,729.2 C617.8,731.1 621.0,733.0 624.6,735.8 C628.2,738.5 631.5,742.4 634.5,745.7 C637.5,749.0 639.8,752.9 642.8,755.6 C645.8,758.4 649.4,760.3 652.7,762.2 C656.0,764.1 658.1,765.8 662.6,767.0 C667.1,768.2 675.2,768.8 679.6,769.5 C684.0,770.2 686.1,771.0 689.0,771.0 C691.9,771.0 692.4,770.4 697.1,769.5 C701.8,768.6 710.4,766.5 717.1,765.5 C723.8,764.5 730.5,763.8 737.2,763.5 C743.9,763.2 750.6,764.2 757.3,763.5 C764.0,762.8 772.0,761.1 777.4,759.4 C782.8,757.7 785.4,755.4 789.4,753.4 C793.4,751.4 796.7,748.9 801.4,747.4 C806.1,745.9 810.8,745.1 817.5,744.4 C824.2,743.7 833.6,743.7 841.6,743.4 L860.0,743.0 L860.0,800.0 L510.0,800.0 L510.0,721.0 Z" fill="#1964d2"/>
<path d="M828.0,720.0 C827.7,718.2 832.0,716.7 834.0,715.0 L845.0,713.0 L845.0,727.0 L836.0,726.0 C833.3,724.0 828.3,721.8 828.0,720.0 Z" fill="#1964d2"/>
<path d="M510.0,775.0 L523.0,775.5 C528.4,776.8 533.1,778.3 539.1,779.5 C545.1,780.7 552.4,782.2 559.1,782.5 C565.8,782.8 572.5,781.3 579.2,781.5 C585.9,781.7 592.6,782.7 599.3,783.5 C606.0,784.3 613.9,785.8 619.4,786.5 C624.9,787.2 627.7,787.8 632.4,787.5 C637.1,787.2 643.0,785.5 647.5,784.5 C652.0,783.5 654.6,782.3 659.5,781.5 C664.4,780.7 670.7,780.3 677.0,779.5 C683.3,778.7 690.4,777.8 697.1,776.5 C703.8,775.2 710.4,773.0 717.1,771.5 C723.8,770.0 730.5,768.5 737.2,767.5 C743.9,766.5 750.6,765.8 757.3,765.5 C764.0,765.2 770.7,765.2 777.4,765.5 C784.1,765.8 792.0,767.3 797.4,767.5 C802.8,767.7 805.5,767.9 809.5,766.5 C813.5,765.1 817.5,761.6 821.5,759.4 C825.5,757.2 830.2,754.7 833.6,753.4 C837.0,752.1 838.9,752.1 841.6,751.4 L860.0,751.0 L860.0,800.0 L510.0,800.0 L510.0,775.0 Z" fill="#1e46d2" stroke="#000" stroke-width="0.9"/>
<path d="M720.0,800.0 L723.2,789.6 C726.5,786.2 729.2,782.2 733.2,779.5 C737.2,776.8 741.6,774.8 747.3,773.5 C753.0,772.2 760.6,771.5 767.3,771.5 C774.0,771.5 780.7,772.2 787.4,773.5 C794.1,774.8 802.5,777.8 807.5,779.5 C812.5,781.2 813.8,784.5 817.5,783.5 C821.2,782.5 825.5,776.8 829.5,773.5 C833.5,770.2 837.6,766.8 841.6,763.5 L850.0,760.0 L850.0,800.0 L720.0,800.0 Z" fill="#4b37c8"/>
<path d="M630.1,528.1 C631.4,523.4 628.8,518.1 628.1,514.1 C627.4,510.1 625.4,507.1 626.1,504.1 C626.8,501.1 630.1,498.7 632.1,496.0 L632.0,490.0 L648.2,490.0 L646.2,506.1 C646.2,510.8 645.5,515.8 646.2,520.1 C646.9,524.5 648.5,528.9 650.2,532.2 C651.9,535.6 653.5,538.9 656.2,540.2 C658.9,541.5 663.5,539.2 666.2,540.2 C668.9,541.2 670.6,543.5 672.3,546.2 C674.0,548.9 674.6,552.9 676.3,556.2 C678.0,559.6 680.6,563.3 682.3,566.3 C684.0,569.3 684.6,572.3 686.3,574.3 C688.0,576.3 689.9,578.3 692.3,578.3 C694.6,578.3 699.0,575.6 700.4,574.3 C701.8,573.0 701.4,572.0 700.4,570.3 C699.4,568.6 694.6,567.0 694.3,564.3 C694.0,561.6 697.7,558.2 698.4,554.2 C699.1,550.2 697.7,543.2 698.4,540.2 C699.1,537.2 699.4,536.9 702.4,536.2 C705.4,535.5 713.9,535.2 716.4,536.2 C718.9,537.2 717.7,538.9 717.4,542.2 C717.1,545.5 715.6,552.2 714.4,556.2 C713.2,560.2 711.1,563.3 710.4,566.3 C709.7,569.3 709.1,572.0 710.4,574.3 C711.7,576.6 715.4,578.3 718.4,580.3 C721.4,582.3 725.5,583.9 728.5,586.3 C731.5,588.6 735.0,590.4 736.5,594.4 C738.0,598.4 737.8,606.4 737.2,610.4 C736.7,614.4 735.9,616.1 733.2,618.5 C730.5,620.9 725.6,622.8 721.2,624.5 C716.9,626.2 711.8,627.5 707.1,628.5 C702.4,629.5 696.9,629.5 693.1,630.5 C689.3,631.5 686.0,632.9 684.3,634.5 C682.6,636.1 683.5,637.4 683.0,640.0 C682.5,642.6 681.6,646.1 681.0,650.0 C680.4,653.9 680.0,658.2 679.2,663.1 C678.5,668.0 677.0,674.1 676.5,679.6 C676.0,685.1 676.1,691.2 676.0,696.1 C675.9,701.0 676.5,706.3 675.9,709.3 C675.3,712.3 673.4,713.5 672.6,714.3 C671.8,715.1 672.8,715.7 670.9,714.3 C669.0,712.9 664.0,709.0 661.0,706.0 C658.0,703.0 655.2,699.7 652.7,696.1 C650.2,692.5 647.5,688.6 646.1,684.5 C644.7,680.4 644.0,676.0 644.5,671.3 C645.0,666.6 647.5,661.3 649.4,656.4 C651.3,651.5 654.6,646.1 656.0,642.0 C657.4,637.9 657.8,635.2 657.5,632.0 C657.2,628.8 655.8,625.8 654.2,622.5 C652.7,619.2 650.9,615.8 648.2,612.4 C645.5,609.0 641.8,605.7 638.1,602.4 C634.4,599.1 629.4,595.8 626.1,592.4 C622.8,589.0 620.3,586.0 618.1,582.3 C615.9,578.6 613.7,574.6 613.0,570.3 C612.3,565.9 612.9,560.9 614.1,556.2 C615.3,551.5 617.4,546.9 620.1,542.2 C622.8,537.5 628.8,532.8 630.1,528.1 Z" fill="#ff6400"/>
<path d="M650.2,594.4 C651.7,591.7 655.5,591.4 658.2,590.4 C660.9,589.4 662.5,588.7 666.2,588.4 C669.9,588.1 674.6,587.7 680.3,588.4 C686.0,589.1 695.4,591.1 700.4,592.4 C705.4,593.7 707.7,594.7 710.4,596.4 C713.1,598.1 716.1,600.4 716.4,602.4 C716.7,604.4 714.7,606.7 712.4,608.4 C710.1,610.1 705.8,610.7 702.4,612.4 C699.0,614.1 696.0,616.8 692.3,618.5 C688.6,620.2 684.6,620.8 680.3,622.5 C675.9,624.2 669.2,626.5 666.2,628.5 C663.2,630.5 663.2,632.6 662.2,634.5 C661.2,636.4 661.1,640.4 660.5,640.0 C659.9,639.6 659.5,635.6 658.5,632.0 C657.5,628.4 655.8,622.8 654.2,618.5 C652.7,614.2 649.9,610.4 649.2,606.4 C648.5,602.4 648.7,597.1 650.2,594.4 Z" fill="#ff3200"/>
<path d="M670.7,571.8 C670.7,572.6 670.6,573.5 670.4,574.3 C670.2,575.1 669.9,575.8 669.5,576.4 C669.2,577.0 668.7,577.5 668.2,577.8 C667.8,578.1 667.2,578.3 666.7,578.3 C666.2,578.3 665.6,578.1 665.2,577.8 C664.7,577.5 664.2,577.0 663.9,576.4 C663.5,575.8 663.2,575.1 663.0,574.3 C662.8,573.5 662.7,572.6 662.7,571.8 C662.7,571.0 662.8,570.1 663.0,569.3 C663.2,568.5 663.5,567.8 663.9,567.2 C664.2,566.6 664.7,566.1 665.2,565.8 C665.6,565.5 666.2,565.3 666.7,565.3 C667.2,565.3 667.8,565.5 668.2,565.8 C668.7,566.1 669.2,566.6 669.5,567.2 C669.9,567.8 670.2,568.5 670.4,569.3 C670.6,570.1 670.7,571.0 670.7,571.8 Z" fill="#ff3200"/>
<path d="M664.3,646.5 C665.0,645.5 668.5,646.6 669.3,648.0 C670.1,649.4 670.0,653.8 669.3,654.8 C668.6,655.8 665.8,655.4 665.0,654.0 C664.2,652.6 663.6,647.5 664.3,646.5 Z" fill="#ff3200"/>
<path d="M803.5,514.1 C802.5,511.8 805.2,510.5 807.5,508.1 C809.8,505.8 814.2,502.7 817.5,500.0 L823.5,490.0 L850.0,490.0 L850.0,524.1 L841.6,524.1 C840.3,522.8 839.6,520.4 837.6,520.1 C835.6,519.8 833.5,521.8 829.5,522.1 C825.5,522.4 817.8,523.4 813.5,522.1 C809.2,520.8 804.5,516.4 803.5,514.1 Z" fill="#ff6400"/>
<path d="M837.6,506.0 L845.0,504.0 L845.0,514.0 L838.0,513.0 C837.9,510.7 837.7,508.3 837.6,506.0 Z" fill="#ff3200"/>
<path d="M533.0,485.0 L533.0,495.0 C534.4,498.0 535.1,501.6 537.1,504.1 C539.1,506.6 542.1,510.1 545.1,510.1 C548.1,510.1 551.8,505.3 555.1,504.1 C558.5,502.9 561.9,502.8 565.2,503.0 C568.6,503.2 572.5,504.9 575.2,505.1 C577.9,505.3 579.7,505.3 581.2,504.1 C582.7,502.9 583.5,499.5 584.2,498.0 C584.9,496.5 584.9,496.0 585.2,495.0 L585.2,485.0 L533.0,485.0 Z" fill="#ffbe3c" stroke="#000" stroke-width="0.9"/>
<path d="M555.0,494.0 C551.7,494.7 555.0,497.0 557.0,498.0 C559.0,499.0 563.7,500.0 567.0,500.0 C570.3,500.0 575.3,499.0 577.0,498.0 C578.7,497.0 580.7,494.7 577.0,494.0 C573.3,493.3 558.3,493.3 555.0,494.0 Z" fill="#ffe678"/>
<g fill="none" stroke="#a8a8a8" stroke-width="1.1" stroke-linejoin="round"><path d="M586.8,493.4 L586.8,494.2 L586.1,498.2 L585.7,504.1 L585.0,508.1 L585.4,510.8 L587.5,514.0 L589.3,516.0 L590.4,516.8 L593.9,518.8 L598.2,517.2 L600.0,515.6 L603.5,516.4 L607.5,519.5 L609.6,521.9 L610.7,518.8 L612.4,516.4 L613.9,512.4 L616.7,510.0 L618.8,508.9 L622.4,508.9 L626.0,506.9 L628.8,504.5 L629.9,506.9 L628.1,510.4 L630.2,510.0 L633.1,507.7 L633.8,505.3 L634.5,508.1 L639.5,510.4 L644.5,511.6 L650.9,513.6 L654.4,511.6 L658.7,511.2 L662.6,511.2 L661.2,514.0 L664.1,515.2 L665.8,519.5 L669.8,520.7 L674.7,524.7 L677.2,527.9 L680.1,529.8 L684.0,530.2 L690.8,530.6 L694.3,531.8 L697.9,535.0 L699.3,537.0 L701.4,539.7 L702.5,544.9 L705.0,546.9 L705.0,550.4 L703.9,551.6 L706.8,554.0 L710.3,556.0 L710.7,559.1 L712.5,556.4 L716.0,557.2 L721.4,558.7 L724.6,563.1 L728.5,563.5 L734.2,564.7 L738.8,564.7 L743.4,566.3 L745.9,568.3 L750.6,572.6 L755.2,573.8 L757.7,575.4 L758.8,581.3 L758.8,585.7 L757.3,590.0 L754.8,594.0 L751.3,597.2 L747.7,603.5 L744.5,607.1 L744.2,612.2 L744.5,617.0 L743.4,622.9 L741.7,628.8 L739.9,634.0 L737.4,638.7 L737.0,640.7 L733.5,644.3 L729.2,644.7 L724.9,644.7 L721.4,647.8 L717.5,649.0 L712.5,652.6 L710.0,656.6 L710.0,660.5 L709.3,666.5 L706.1,669.6 L703.9,674.4 L701.1,678.7 L697.2,681.5 L694.0,687.1 L691.5,689.8 L687.6,691.8 L682.9,691.8 L678.7,689.8 L675.1,688.2 L675.1,690.6 L679.0,693.4 L681.1,697.3 L678.3,704.5 L674.0,706.5 L668.3,707.6 L662.3,707.2 L661.2,709.2 L662.3,712.0 L660.9,714.4 L655.9,716.0 L651.6,716.0 L651.6,719.9 L656.6,722.3 L655.2,723.5 L653.0,722.3 L651.6,725.9 L650.5,729.8 L645.2,731.8 L642.7,735.8 L643.1,737.7 L648.0,740.5 L648.4,742.9 L643.1,746.8 L640.9,751.6 L637.4,753.6 L637.7,757.9 L639.5,760.7 L635.6,761.5 L632.0,763.5 L630.2,766.6 L626.7,765.5 L624.9,763.5 L621.3,762.7 L617.8,761.5 L616.0,757.5 L614.2,751.6 L614.2,745.7 L617.8,739.7 L613.9,738.1 L617.8,735.0 L621.0,729.8 L623.1,723.9 L623.8,719.9 L621.7,718.3 L620.6,714.0 L621.7,710.0 L621.0,702.1 L622.8,698.5 L624.9,694.2 L626.7,689.0 L628.1,684.3 L628.5,680.3 L628.1,674.4 L629.2,670.4 L630.6,662.5 L632.0,654.6 L632.0,646.7 L633.4,638.7 L633.1,630.8 L632.7,626.1 L629.2,623.3 L624.9,620.1 L619.6,616.2 L615.3,613.8 L611.7,609.0 L611.4,605.9 L608.5,601.1 L606.4,597.2 L604.6,593.2 L602.5,589.2 L600.0,584.5 L598.6,580.5 L594.6,577.4 L593.9,574.2 L593.6,571.8 L596.4,567.5 L598.6,564.7 L597.1,563.5 L595.0,562.3 L595.4,558.4 L596.8,555.6 L598.2,551.6 L599.6,549.6 L602.1,547.7 L603.2,544.5 L606.0,543.3 L608.2,538.6 L607.5,535.8 L607.8,529.8 L606.0,525.9 L604.3,522.7 L603.5,521.1 L601.8,518.8 L600.0,518.0 L598.2,520.3 L596.8,523.9 L594.6,522.7 L592.5,521.9 L587.9,521.1 L585.4,519.5 L584.0,516.8 L580.4,514.8 L579.7,514.0 L577.6,512.4 L577.9,510.0 L575.1,506.9 L572.2,503.7 L571.1,501.7 L569.7,501.3 L566.9,500.9 L562.6,499.0 L559.0,498.2 L554.8,496.2 L551.9,493.4"/><path d="M639.5,761.9 L638.8,771.0 L644.5,771.4 L650.9,770.2 L646.3,768.2 L642.3,766.6 L640.2,764.3 L639.5,761.9"/><path d="M635.6,768.2 L632.0,770.6 L627.4,769.8 L623.8,766.6 L628.5,765.9 L633.1,767.0 L635.6,768.2"/><path d="M621.3,763.5 L617.4,763.1 L615.3,760.3 L618.8,760.7 L621.3,763.5"/><path d="M618.8,757.5 L614.6,755.6 L614.9,752.4 L617.8,754.0 L618.8,757.5"/><path d="M617.4,750.8 L613.9,749.6 L614.2,746.5 L616.7,747.2 L617.4,750.8"/><path d="M618.5,729.8 L616.0,728.6 L616.7,726.7 L618.8,727.4 L618.5,729.8"/><path d="M620.3,725.5 L618.5,724.7 L619.6,719.1 L621.3,719.5 L621.3,723.1 L620.3,725.5"/><path d="M664.8,756.7 L671.2,756.7 L677.2,757.9 L674.7,760.3 L668.7,760.3 L665.1,758.7 L664.8,756.7"/><path d="M747.7,767.4 L753.1,768.2 L755.6,770.2 L751.3,769.0 L747.7,767.4"/><path d="M557.3,554.8 L559.4,553.2 L560.5,556.0 L558.3,557.6 L557.3,554.8"/><path d="M560.8,555.2 L561.9,555.6 L561.5,556.8 L560.5,556.4 L560.8,555.2"/><path d="M662.6,513.6 L665.8,510.8 L666.2,513.2 L663.7,514.0 L662.6,513.6"/><path d="M665.1,500.9 L665.5,501.7"/><path d="M663.3,505.3 L663.7,506.1"/><path d="M665.8,497.8 L666.2,499.3"/><path d="M820.3,493.4 L821.8,495.4 L823.2,500.1 L823.5,504.9 L827.8,508.1 L831.4,512.0 L835.7,516.0 L836.7,520.7 L840.3,524.3 L843.1,526.7 L847.4,529.8"/><path d="M703.2,554.8 L708.6,554.0 L710.7,556.8 L710.0,559.9 L705.7,559.9 L703.2,554.8"/><path d="M699.3,537.0 L696.1,544.5 L690.4,544.9 L687.2,543.7 L681.9,546.1 L676.5,547.7 L670.5,546.5 L669.4,543.7 L670.5,537.8 L666.9,533.0 L664.4,536.2 L659.4,537.8 L655.2,537.4 L653.0,544.5 L655.2,546.5 L649.8,550.8 L644.8,548.8 L635.6,549.2 L633.8,551.6 L635.2,555.6 L635.9,558.0 L634.2,570.2 L628.5,571.4 L623.1,573.4 L622.4,579.3 L619.6,582.5 L623.1,590.8 L626.0,592.8 L631.7,591.2 L631.7,597.2 L635.2,597.0 L638.8,597.2 L647.0,592.4 L650.2,593.2 L650.5,599.1 L654.1,603.1 L659.4,605.1 L663.0,607.5 L668.0,607.1 L668.7,613.4 L675.5,618.1 L675.1,622.1 L678.3,625.7 L677.9,632.8 L676.2,633.6 L677.2,641.1 L683.6,641.9 L685.1,643.1 L685.8,648.6 L689.7,649.0 L688.6,654.6 L691.1,655.0 L692.2,657.7 L691.5,660.9 L684.7,664.9 L677.9,673.2 L683.6,676.0 L685.1,675.6 L691.1,678.7 L692.9,682.7 L692.5,687.1"/><path d="M628.1,506.1 L626.0,509.6 L624.9,514.0 L623.1,517.2 L625.3,521.9 L626.0,524.7 L633.4,525.9 L641.6,529.0 L643.1,533.8 L641.6,537.8 L643.4,545.7 L644.8,548.8"/><path d="M666.9,533.0 L664.4,530.2 L668.0,525.9 L669.8,520.7"/><path d="M679.7,530.2 L676.5,538.6 L681.9,546.1"/><path d="M690.8,531.0 L689.3,539.7 L690.4,544.9"/><path d="M602.1,548.1 L607.5,550.4 L614.2,554.0 L615.3,557.2 L621.3,559.5 L626.7,563.1 L633.8,569.4 L634.2,570.2"/><path d="M597.1,567.1 L600.0,571.4 L603.5,567.5 L610.7,563.9 L615.3,557.2"/><path d="M635.2,597.0 L638.1,603.1 L637.7,607.1 L635.9,613.0 L637.4,617.8 L635.6,622.9 L632.4,626.3"/><path d="M635.6,622.9 L639.1,628.8 L638.1,634.8 L640.2,637.9 L641.6,643.9 L647.3,639.9 L654.1,643.1 L660.1,641.5 L661.2,634.8 L663.3,631.2 L672.6,630.0 L675.8,632.0 L678.3,625.7"/><path d="M641.6,643.9 L639.9,650.6 L638.8,660.5 L634.5,670.4 L633.4,680.3 L633.8,688.2 L631.7,698.1 L629.9,706.1 L627.7,714.0 L627.4,723.9 L628.1,731.8 L626.0,739.7 L622.4,749.6 L625.6,755.6 L627.0,759.5 L637.4,760.7"/><path d="M660.1,641.5 L665.8,646.7 L671.2,651.4 L676.5,655.8 L677.9,661.3 L683.6,662.1 L688.6,654.6"/><path d="M677.9,673.2 L676.5,676.4 L675.8,682.3 L675.1,688.2"/><path d="M687.6,544.1 L690.8,551.6 L696.1,557.2 L698.2,558.4"/><path d="M673.3,548.8 L676.5,555.6 L682.2,563.1 L675.1,582.5 L675.8,582.9"/><path d="M675.8,582.9 L683.6,590.4 L696.1,591.2 L704.3,592.4"/><path d="M704.3,592.4 L706.8,585.3 L708.6,579.3 L711.1,574.6"/><path d="M711.1,574.6 L713.9,569.4 L717.1,563.5 L718.9,558.0"/><path d="M711.1,574.6 L713.9,579.3 L717.5,585.3 L719.2,589.2 L719.6,594.4"/><path d="M734.2,565.1 L731.3,571.4 L728.1,577.4 L722.8,587.3 L719.6,594.4"/><path d="M719.6,594.4 L717.5,601.1 L718.5,607.1 L718.5,613.0"/><path d="M737.0,565.1 L737.4,573.4 L738.8,582.9 L736.0,587.3 L731.7,591.2 L728.1,595.2 L719.6,594.4"/><path d="M750.2,572.6 L745.9,578.5 L745.6,581.3 L750.6,582.5 L758.4,582.5"/><path d="M738.8,582.9 L742.4,585.3 L747.7,587.3 L754.1,589.2 L757.3,590.0"/><path d="M737.8,589.2 L744.2,590.0 L747.7,592.4 L753.4,595.2"/><path d="M704.3,592.4 L702.5,605.1 L699.7,615.0 L695.0,624.9"/><path d="M695.0,624.9 L687.2,624.1 L675.8,622.9"/><path d="M664.1,588.4 L667.6,595.2 L669.4,607.1"/><path d="M664.1,588.4 L659.4,585.3 L647.0,592.4"/><path d="M645.9,592.8 L633.8,587.3 L620.3,581.7"/><path d="M718.5,613.0 L724.6,610.6 L731.7,613.0 L738.8,616.2 L741.0,624.5"/><path d="M718.5,604.7 L710.3,605.1 L702.5,605.1"/><path d="M718.5,613.0 L714.6,616.2 L713.9,624.9 L708.6,627.3 L701.4,630.8"/><path d="M701.4,630.8 L699.7,632.8 L694.3,642.7 L690.0,648.6"/><path d="M701.4,632.4 L708.6,633.6 L712.8,633.2 L717.5,638.7 L722.8,642.7 L724.6,645.5"/><path d="M694.0,643.1 L703.2,644.3 L708.6,645.5 L712.1,650.6 L711.4,653.8"/><path d="M691.5,657.4 L701.4,657.4 L710.0,656.6"/><path d="M691.5,660.9 L699.7,662.5 L705.0,668.4 L706.1,669.6"/><path d="M733.8,637.6 L729.9,640.7 L724.6,645.5"/><path d="M741.0,624.5 L737.0,627.3 L734.2,634.8 L737.0,637.9"/><path d="M712.1,615.0 L714.6,615.0 L714.6,617.0 L712.1,617.0 L712.1,615.0"/></g><path d="M620.7,717.3 L617.9,726.7 L614.1,736.2 L613.2,744.7 L614.1,754.1 L616.9,761.7 L622.6,767.3 L630.2,772.0 L638.7,774.4 L644.3,774.9 L644.3,771.1 L636.8,769.2 L630.2,765.4 L624.5,760.7 L622.6,754.1 L621.7,744.7 L623.5,736.2 L625.4,726.7 L625.4,717.3 Z" fill="#a8a8a8" fill-opacity="0.5" stroke="#a8a8a8" stroke-width="1"/>
<rect x="615.6" y="517.8" width="13.5" height="8.6" fill="#fff"/><text x="623.0" y="525.4" font-size="9.2" letter-spacing="1.2" text-anchor="middle" fill="#222">18</text>
<rect x="572.0" y="571.0" width="13.5" height="8.6" fill="#fff"/><text x="579.4" y="578.6" font-size="9.2" letter-spacing="1.2" text-anchor="middle" fill="#222">18</text>
<rect x="669.1" y="720.7" width="13.5" height="8.6" fill="#fff"/><text x="676.5" y="728.3" font-size="9.2" letter-spacing="1.2" text-anchor="middle" fill="#222">18</text>
<rect x="765.5" y="626.2" width="13.5" height="8.6" fill="#fff"/><text x="772.9" y="633.8" font-size="9.2" letter-spacing="1.2" text-anchor="middle" fill="#222">18</text>
<rect x="561.7" y="679.9" width="7.0" height="8.6" fill="#fff"/><text x="565.2" y="687.5" font-size="9.2" letter-spacing="0" text-anchor="middle" fill="#222">9</text>
<rect x="684.8" y="753.0" width="7.0" height="8.6" fill="#fff"/><text x="688.3" y="760.6" font-size="9.2" letter-spacing="0" text-anchor="middle" fill="#222">9</text>
<rect x="741.7" y="679.9" width="7.0" height="8.6" fill="#fff"/><text x="745.2" y="687.5" font-size="9.2" letter-spacing="0" text-anchor="middle" fill="#222">9</text>
<rect x="628.9" y="783.2" width="7.0" height="8.6" fill="#fff"/><text x="632.4" y="790.8" font-size="9.2" letter-spacing="0" text-anchor="middle" fill="#222">0</text>
</g>
<rect x="522.0" y="494.0" width="321.0" height="297.5" fill="none" stroke="#000" stroke-width="2"/>
<g stroke="#000" stroke-width="1.2"><line x1="519.0" y1="494.2" x2="522.0" y2="494.2"/><line x1="519.0" y1="514.0" x2="522.0" y2="514.0"/><line x1="519.0" y1="533.8" x2="522.0" y2="533.8"/><line x1="519.0" y1="553.6" x2="522.0" y2="553.6"/><line x1="519.0" y1="573.4" x2="522.0" y2="573.4"/><line x1="519.0" y1="593.2" x2="522.0" y2="593.2"/><line x1="519.0" y1="613.0" x2="522.0" y2="613.0"/><line x1="519.0" y1="632.8" x2="522.0" y2="632.8"/><line x1="519.0" y1="652.6" x2="522.0" y2="652.6"/><line x1="519.0" y1="672.4" x2="522.0" y2="672.4"/><line x1="519.0" y1="692.2" x2="522.0" y2="692.2"/><line x1="519.0" y1="712.0" x2="522.0" y2="712.0"/><line x1="519.0" y1="731.8" x2="522.0" y2="731.8"/><line x1="519.0" y1="751.6" x2="522.0" y2="751.6"/><line x1="519.0" y1="771.4" x2="522.0" y2="771.4"/><line x1="519.0" y1="791.2" x2="522.0" y2="791.2"/><line x1="527.0" y1="791.5" x2="527.0" y2="794.5"/><line x1="562.6" y1="791.5" x2="562.6" y2="794.5"/><line x1="598.2" y1="791.5" x2="598.2" y2="794.5"/><line x1="633.8" y1="791.5" x2="633.8" y2="794.5"/><line x1="669.4" y1="791.5" x2="669.4" y2="794.5"/><line x1="705.0" y1="791.5" x2="705.0" y2="794.5"/><line x1="740.6" y1="791.5" x2="740.6" y2="794.5"/><line x1="776.2" y1="791.5" x2="776.2" y2="794.5"/><line x1="811.8" y1="791.5" x2="811.8" y2="794.5"/></g>
<g font-size="9.5" font-weight="bold" fill="#000"><text x="517.5" y="497.6" text-anchor="end">15N</text><text x="517.5" y="517.4" text-anchor="end">10N</text><text x="517.5" y="537.2" text-anchor="end">5N</text><text x="517.5" y="557.0" text-anchor="end">EQ</text><text x="517.5" y="576.8" text-anchor="end">5S</text><text x="517.5" y="596.6" text-anchor="end">10S</text><text x="517.5" y="616.4" text-anchor="end">15S</text><text x="517.5" y="636.2" text-anchor="end">20S</text><text x="517.5" y="656.0" text-anchor="end">25S</text><text x="517.5" y="675.8" text-anchor="end">30S</text><text x="517.5" y="695.6" text-anchor="end">35S</text><text x="517.5" y="715.4" text-anchor="end">40S</text><text x="517.5" y="735.2" text-anchor="end">45S</text><text x="517.5" y="755.0" text-anchor="end">50S</text><text x="517.5" y="774.8" text-anchor="end">55S</text><text x="517.5" y="794.6" text-anchor="end">60S</text><text x="527.0" y="801.8" text-anchor="middle" textLength="21.5" lengthAdjust="spacingAndGlyphs">100W</text><text x="562.6" y="801.8" text-anchor="middle" textLength="17.3" lengthAdjust="spacingAndGlyphs">90W</text><text x="598.2" y="801.8" text-anchor="middle" textLength="17.3" lengthAdjust="spacingAndGlyphs">80W</text><text x="633.8" y="801.8" text-anchor="middle" textLength="17.3" lengthAdjust="spacingAndGlyphs">70W</text><text x="669.4" y="801.8" text-anchor="middle" textLength="17.3" lengthAdjust="spacingAndGlyphs">60W</text><text x="705.0" y="801.8" text-anchor="middle" textLength="17.3" lengthAdjust="spacingAndGlyphs">50W</text><text x="740.6" y="801.8" text-anchor="middle" textLength="17.3" lengthAdjust="spacingAndGlyphs">40W</text><text x="776.2" y="801.8" text-anchor="middle" textLength="17.3" lengthAdjust="spacingAndGlyphs">30W</text><text x="811.8" y="801.8" text-anchor="middle" textLength="17.3" lengthAdjust="spacingAndGlyphs">20W</text></g>
<text x="682.5" y="485.0" font-size="18" text-anchor="middle" textLength="231" lengthAdjust="spacingAndGlyphs" stroke="#fff" stroke-width="0.2">cluster:  4   membros:  1</text>
<clipPath id="clip4"><rect x="63.0" y="848.5" width="321.0" height="297.5"/></clipPath>
<g clip-path="url(#clip4)">
<rect x="63.0" y="848.5" width="321.0" height="297.5" fill="#ffa000"/>
<path d="M50.0,893.0 L64.0,893.2 C69.4,893.9 74.8,894.5 80.1,895.2 C85.4,895.9 91.1,897.2 96.1,897.2 C101.1,897.2 105.2,895.2 110.2,895.2 C115.2,895.2 122.3,896.2 126.2,897.2 C130.1,898.2 132.6,899.9 133.3,901.2 C134.0,902.5 132.5,904.5 130.3,905.2 C128.1,905.9 123.1,904.7 120.2,905.2 C117.3,905.7 114.5,906.0 113.2,908.2 C111.9,910.4 112.2,914.9 112.2,918.3 C112.2,921.6 113.2,925.3 113.2,928.3 C113.2,931.3 111.4,933.9 112.2,936.3 C113.0,938.6 115.2,940.4 118.2,942.4 C121.2,944.4 127.0,946.1 130.3,948.4 C133.7,950.7 136.6,953.7 138.3,956.4 C140.0,959.1 141.6,962.0 140.3,964.4 C139.0,966.8 133.0,969.1 130.3,970.5 C127.6,971.9 124.9,971.2 124.2,972.5 C123.5,973.8 124.2,976.5 126.2,978.5 C128.2,980.5 133.3,982.2 136.3,984.5 C139.3,986.8 142.4,990.2 144.3,992.5 C146.2,994.8 146.3,995.4 148.0,998.0 C149.7,1000.6 151.9,1004.8 154.3,1008.1 C156.7,1011.5 160.5,1015.9 162.4,1018.1 C164.3,1020.3 164.3,1021.2 165.5,1021.5 C166.7,1021.8 168.4,1021.3 169.4,1020.1 C170.4,1018.9 170.6,1017.1 171.4,1014.1 C172.2,1011.1 173.7,1006.0 174.4,1002.0 C175.1,998.0 175.7,992.9 175.4,990.0 C175.1,987.1 174.2,987.1 172.4,984.5 C170.6,981.9 167.4,977.9 164.4,974.5 C161.4,971.1 157.7,968.1 154.3,964.4 C151.0,960.7 147.0,956.4 144.3,952.4 C141.6,948.4 139.8,944.3 138.3,940.3 C136.8,936.3 135.6,932.6 135.3,928.3 C135.0,924.0 135.8,918.6 136.3,914.3 C136.8,909.9 136.6,905.9 138.3,902.2 C140.0,898.5 144.0,895.6 146.3,892.2 C148.6,888.9 150.0,884.6 152.3,882.1 C154.7,879.6 157.9,878.3 160.4,877.1 C162.9,875.9 165.9,874.6 167.4,875.1 C168.9,875.6 169.6,877.6 169.4,880.1 C169.2,882.6 168.6,886.2 166.4,890.2 C164.2,894.2 159.2,899.9 156.3,904.2 C153.5,908.6 150.6,912.3 149.3,916.3 C148.0,920.3 147.8,924.6 148.3,928.3 C148.8,932.0 150.0,934.6 152.3,938.3 C154.7,942.0 159.1,947.0 162.4,950.4 C165.8,953.8 169.1,955.7 172.4,958.4 C175.7,961.1 179.4,963.4 182.4,966.4 C185.4,969.4 188.5,973.1 190.5,976.5 C192.5,979.9 193.5,984.2 194.5,986.5 C195.5,988.8 196.8,986.7 196.5,990.0 C196.2,993.3 194.5,1000.8 192.5,1006.1 C190.5,1011.5 186.2,1016.8 184.4,1022.1 C182.6,1027.5 181.4,1033.5 181.4,1038.2 C181.4,1042.9 182.2,1046.2 184.4,1050.2 C186.6,1054.2 191.2,1058.3 194.5,1062.3 C197.8,1066.3 201.5,1070.6 204.5,1074.3 C207.5,1078.0 210.4,1081.8 212.6,1084.3 C214.8,1086.8 215.6,1089.4 217.6,1089.4 C219.6,1089.4 223.1,1086.8 224.6,1084.3 C226.1,1081.8 226.6,1078.0 226.3,1074.3 C226.0,1070.6 223.7,1066.3 222.6,1062.3 C221.5,1058.3 219.6,1053.6 219.5,1050.2 C219.4,1046.8 220.2,1045.2 222.0,1042.0 C223.8,1038.8 227.3,1034.7 230.0,1031.0 C232.7,1027.3 235.7,1023.5 238.0,1020.0 C240.3,1016.5 242.8,1013.0 244.0,1010.0 C245.2,1007.0 245.2,1004.5 245.0,1002.0 C244.8,999.5 242.8,997.2 243.0,995.0 C243.2,992.8 244.4,990.3 246.4,988.5 C248.4,986.7 251.7,985.3 255.0,984.0 C258.3,982.7 261.8,981.8 266.0,980.5 C270.2,979.2 276.8,976.5 280.5,976.5 C284.2,976.5 285.2,978.5 288.5,980.5 C291.8,982.5 296.9,988.2 300.5,988.5 C304.1,988.8 307.3,984.2 310.3,982.5 C313.3,980.8 316.7,980.8 318.4,978.5 C320.1,976.2 319.4,971.5 320.4,968.5 C321.4,965.5 322.1,963.4 324.4,960.4 C326.7,957.4 330.7,953.4 334.4,950.4 C338.1,947.4 342.1,944.8 346.5,942.4 C350.9,940.0 356.2,938.3 360.5,936.3 C364.8,934.3 368.8,932.0 372.5,930.3 C376.2,928.6 379.2,927.6 382.6,926.3 L400.0,926.0 L400.0,1160.0 L50.0,1160.0 L50.0,893.0 Z" fill="#ffbe3c" stroke="#000" stroke-width="0.9"/>
<path d="M50.0,920.0 L64.0,920.0 C66.7,920.2 69.8,920.0 72.0,920.5 C74.2,921.0 77.0,922.2 77.0,923.0 C77.0,923.8 74.2,925.1 72.0,925.5 C69.8,925.9 66.7,925.5 64.0,925.5 L50.0,925.5 L50.0,920.0 Z" fill="#ffa000" stroke="#000" stroke-width="0.9"/>
<path d="M50.0,944.0 L64.0,944.4 C69.4,943.7 76.4,941.7 80.1,942.4 C83.8,943.1 84.8,946.1 86.1,948.4 C87.4,950.7 86.4,954.7 88.1,956.4 C89.8,958.1 93.4,957.4 96.1,958.4 C98.8,959.4 101.2,960.7 104.2,962.4 C107.2,964.1 111.9,965.5 114.2,968.5 C116.5,971.5 117.1,977.2 118.2,980.5 C119.3,983.8 119.4,985.4 121.0,988.0 C122.6,990.6 125.3,993.0 128.0,996.0 C130.7,999.0 134.2,1002.8 137.0,1006.0 C139.8,1009.2 142.4,1012.3 145.0,1015.0 C147.6,1017.7 150.1,1019.9 152.3,1022.1 C154.5,1024.3 155.9,1027.1 158.0,1028.5 C160.1,1029.9 162.8,1030.6 165.0,1030.5 C167.2,1030.4 169.2,1029.8 171.0,1028.0 C172.8,1026.2 174.2,1023.3 175.5,1020.0 C176.8,1016.7 177.8,1012.2 178.5,1008.0 C179.2,1003.8 180.0,999.6 180.0,995.0 C180.0,990.4 179.7,984.9 178.4,980.5 C177.1,976.1 175.4,971.9 172.4,968.5 C169.4,965.1 164.1,963.8 160.4,960.4 C156.7,957.0 153.2,952.9 150.3,948.4 C147.5,943.9 144.2,936.1 143.3,933.3 C142.4,930.5 144.3,931.7 144.8,931.5 C145.3,931.3 144.0,930.1 146.3,932.3 C148.6,934.4 154.4,940.4 158.4,944.4 C162.4,948.4 166.7,953.1 170.4,956.4 C174.1,959.7 177.4,961.0 180.4,964.4 C183.4,967.8 186.7,972.2 188.5,976.5 C190.3,980.8 191.4,985.1 191.5,990.0 C191.6,994.9 190.4,1001.0 189.0,1006.0 C187.6,1011.0 184.7,1015.2 183.0,1020.0 C181.3,1024.8 179.3,1030.3 179.0,1035.0 C178.7,1039.7 179.5,1043.8 181.0,1048.0 C182.5,1052.2 185.5,1056.3 188.0,1060.0 C190.5,1063.7 193.3,1066.3 196.0,1070.0 C198.7,1073.7 201.3,1078.0 204.0,1082.0 C206.7,1086.0 209.3,1090.6 212.0,1094.0 C214.7,1097.4 216.7,1102.3 220.0,1102.4 C223.3,1102.5 228.7,1096.7 232.0,1094.4 C235.3,1092.1 238.4,1091.1 240.1,1088.4 C241.8,1085.7 243.4,1082.0 242.1,1078.3 C240.8,1074.6 234.3,1070.0 232.0,1066.3 C229.7,1062.6 228.0,1059.5 228.0,1056.2 C228.0,1052.9 230.0,1050.6 232.0,1046.2 C234.0,1041.8 237.1,1035.1 240.1,1030.1 C243.1,1025.1 247.1,1019.8 250.1,1016.1 C253.1,1012.4 255.1,1010.5 258.1,1008.1 C261.1,1005.8 264.5,1003.5 268.2,1002.0 C271.9,1000.5 276.5,999.3 280.2,999.0 C283.9,998.7 285.3,999.1 290.3,1000.0 C295.3,1000.9 303.6,1002.8 310.3,1004.1 C317.0,1005.5 323.7,1006.8 330.4,1008.1 C337.1,1009.4 345.8,1011.1 350.5,1012.1 C355.2,1013.1 356.8,1015.8 358.5,1014.1 C360.2,1012.4 360.2,1006.9 360.5,1002.0 C360.8,997.1 360.5,989.1 360.5,984.5 C360.5,979.9 359.2,977.9 360.5,974.5 C361.8,971.1 365.1,966.8 368.5,964.4 C371.9,962.0 378.0,961.3 380.6,960.4 C383.2,959.5 382.9,959.5 384.0,959.0 L400.0,959.0 L400.0,1160.0 L50.0,1160.0 L50.0,944.0 Z" fill="#ffe678"/>
<path d="M50.0,1013.0 L64.0,1013.1 C69.4,1012.8 73.7,1012.6 80.1,1012.1 C86.5,1011.6 98.5,1011.8 102.2,1010.1 C105.9,1008.4 103.2,1005.4 102.2,1002.0 C101.2,998.6 97.7,993.0 96.0,990.0 C94.3,987.0 92.7,986.2 92.0,984.0 C91.3,981.8 91.1,977.8 92.1,976.5 C93.1,975.2 96.4,974.8 98.1,976.5 C99.8,978.2 100.2,983.8 102.2,986.5 C104.2,989.2 107.9,990.6 110.2,992.5 C112.5,994.4 114.0,996.1 116.0,998.0 C118.0,999.9 120.0,1002.0 122.0,1004.0 C124.0,1006.0 125.8,1007.4 128.2,1010.1 C130.6,1012.8 133.6,1016.8 136.3,1020.1 C139.0,1023.4 141.3,1027.1 144.3,1030.1 C147.3,1033.1 151.0,1035.5 154.3,1038.2 C157.7,1040.9 161.4,1043.9 164.4,1046.2 C167.4,1048.5 169.7,1049.9 172.4,1052.2 C175.1,1054.5 177.7,1057.6 180.4,1060.3 C183.1,1063.0 185.8,1065.3 188.5,1068.3 C191.2,1071.3 193.8,1075.3 196.5,1078.3 C199.2,1081.3 201.5,1083.0 204.5,1086.3 C207.5,1089.6 211.7,1094.7 214.6,1098.0 C217.5,1101.3 219.1,1104.7 222.0,1106.0 C224.9,1107.3 229.0,1106.2 232.0,1106.0 C235.0,1105.8 236.4,1105.9 240.1,1105.0 C243.8,1104.1 250.4,1102.8 254.1,1100.4 C257.8,1098.0 260.8,1095.1 262.2,1090.4 C263.6,1085.7 263.9,1076.7 262.2,1072.3 C260.5,1067.9 255.1,1066.6 252.1,1064.3 C249.1,1062.0 244.4,1061.2 244.1,1058.2 C243.8,1055.2 247.4,1050.9 250.1,1046.2 C252.8,1041.5 256.8,1034.8 260.1,1030.1 C263.5,1025.4 266.9,1020.6 270.2,1018.1 C273.5,1015.6 275.2,1015.4 280.2,1015.1 C285.2,1014.8 293.6,1015.4 300.3,1016.1 C307.0,1016.8 313.7,1017.6 320.4,1019.1 C327.1,1020.6 333.7,1022.7 340.4,1025.1 C347.1,1027.4 353.5,1030.0 360.5,1033.2 C367.5,1036.4 375.2,1040.5 382.6,1044.2 L400.0,1045.0 L400.0,1160.0 L50.0,1160.0 L50.0,1013.0 Z" fill="#78b9fa"/>
<path d="M50.0,1037.0 L64.0,1037.2 C67.0,1037.2 68.7,1037.2 73.0,1037.2 C77.3,1037.2 83.9,1036.9 90.1,1037.2 C96.3,1037.5 103.5,1037.7 110.2,1039.2 C116.9,1040.7 124.6,1043.7 130.3,1046.2 C136.0,1048.7 140.6,1051.2 144.3,1054.2 C148.0,1057.2 150.3,1062.3 152.3,1064.3 C154.3,1066.3 155.3,1067.0 156.3,1066.3 C157.3,1065.6 157.4,1061.5 158.4,1060.3 C159.4,1059.1 161.1,1058.5 162.4,1059.2 C163.7,1059.9 165.4,1061.8 166.4,1064.3 C167.4,1066.8 167.4,1070.3 168.4,1074.3 C169.4,1078.3 170.7,1084.7 172.4,1088.4 C174.1,1092.1 175.7,1094.7 178.4,1096.4 C181.1,1098.1 185.2,1097.1 188.5,1098.4 C191.8,1099.7 195.2,1102.4 198.5,1104.4 C201.8,1106.4 205.0,1108.6 208.5,1110.4 C212.0,1112.2 216.0,1114.7 219.6,1115.5 C223.2,1116.3 226.6,1116.3 230.0,1115.5 C233.4,1114.7 235.1,1112.2 240.1,1110.4 C245.1,1108.6 254.1,1106.2 260.1,1104.4 C266.1,1102.6 272.2,1101.7 276.2,1099.4 C280.2,1097.1 282.5,1094.6 284.2,1090.4 C285.9,1086.2 284.8,1078.3 286.2,1074.3 C287.6,1070.3 290.3,1069.0 292.3,1066.3 C294.3,1063.6 298.0,1060.9 298.3,1058.2 C298.6,1055.5 297.3,1052.5 294.3,1050.2 C291.3,1047.9 283.6,1046.2 280.2,1044.2 C276.8,1042.2 274.5,1040.0 274.2,1038.2 C273.9,1036.4 275.5,1034.2 278.2,1033.2 C280.9,1032.2 286.6,1032.0 290.3,1032.2 C294.0,1032.4 297.0,1033.4 300.3,1034.2 C303.6,1035.0 307.0,1037.2 310.3,1037.2 C313.6,1037.2 317.0,1035.0 320.4,1034.2 C323.8,1033.4 326.4,1031.9 330.4,1032.2 C334.4,1032.5 339.4,1034.7 344.4,1036.2 C349.4,1037.7 354.1,1038.7 360.5,1041.2 C366.9,1043.7 375.2,1047.9 382.6,1051.2 L400.0,1052.0 L400.0,1160.0 L50.0,1160.0 L50.0,1037.0 Z" fill="#3c96f5" stroke="#000" stroke-width="0.9"/>
<path d="M50.0,1058.0 L64.0,1058.2 C69.4,1057.5 74.1,1056.9 80.1,1056.2 C86.1,1055.5 93.4,1054.2 100.1,1054.2 C106.8,1054.2 114.2,1054.9 120.2,1056.2 C126.2,1057.5 131.6,1060.0 136.3,1062.3 C141.0,1064.6 145.0,1067.6 148.3,1070.3 C151.6,1073.0 154.3,1074.9 156.3,1078.3 C158.3,1081.7 158.4,1087.1 160.4,1090.4 C162.4,1093.8 165.1,1096.1 168.4,1098.4 C171.7,1100.7 176.4,1102.4 180.4,1104.4 C184.4,1106.4 188.5,1108.4 192.5,1110.4 C196.5,1112.4 200.5,1114.8 204.5,1116.5 C208.5,1118.2 212.3,1119.9 216.6,1120.5 C220.8,1121.1 226.1,1121.0 230.0,1120.0 C233.9,1119.0 235.1,1116.1 240.1,1114.5 C245.1,1112.9 253.4,1112.4 260.1,1110.4 C266.8,1108.4 275.2,1105.1 280.2,1102.4 C285.2,1099.7 287.9,1097.4 290.3,1094.4 C292.7,1091.4 293.3,1086.7 294.3,1084.3 C295.3,1081.9 294.6,1081.6 296.3,1080.3 C298.0,1079.0 300.3,1077.3 304.3,1076.3 C308.3,1075.3 314.4,1074.3 320.4,1074.3 C326.4,1074.3 334.6,1075.7 340.4,1076.3 C346.2,1076.9 352.1,1078.7 355.0,1078.0 C357.9,1077.3 358.2,1074.7 358.0,1072.0 C357.8,1069.3 354.9,1064.6 354.0,1062.0 C353.1,1059.4 351.4,1057.5 352.5,1056.2 C353.6,1054.9 355.5,1053.9 360.5,1054.2 C365.5,1054.5 375.2,1056.9 382.6,1058.2 L400.0,1058.0 L400.0,1160.0 L50.0,1160.0 L50.0,1058.0 Z" fill="#1e6ef0"/>
<path d="M50.0,1112.0 L64.0,1112.4 C68.0,1111.7 75.4,1114.1 76.1,1110.4 C76.8,1106.7 69.3,1095.8 68.0,1090.4 C66.7,1085.1 66.0,1080.7 68.0,1078.3 C70.0,1075.9 74.8,1077.0 80.1,1076.3 C85.4,1075.6 93.4,1074.3 100.1,1074.3 C106.8,1074.3 114.2,1075.0 120.2,1076.3 C126.2,1077.6 131.6,1079.9 136.3,1082.3 C141.0,1084.7 145.3,1087.7 148.3,1090.4 C151.3,1093.1 152.3,1095.7 154.3,1098.4 C156.3,1101.1 157.4,1103.7 160.4,1106.4 C163.4,1109.1 167.7,1111.8 172.4,1114.5 C177.1,1117.2 183.2,1120.5 188.5,1122.5 C193.8,1124.5 199.2,1125.6 204.5,1126.5 C209.8,1127.4 215.8,1127.7 220.0,1128.0 C224.2,1128.3 226.7,1128.8 230.0,1128.5 C233.3,1128.2 235.1,1127.5 240.1,1126.5 C245.1,1125.5 253.4,1123.8 260.1,1122.5 C266.8,1121.2 273.5,1120.5 280.2,1118.5 C286.9,1116.5 294.9,1113.1 300.3,1110.4 C305.7,1107.7 310.0,1105.4 312.3,1102.4 C314.6,1099.4 313.0,1094.7 314.3,1092.4 C315.6,1090.1 316.0,1089.2 320.4,1088.4 C324.8,1087.6 333.7,1087.1 340.4,1087.4 C347.1,1087.7 353.5,1089.2 360.5,1090.4 C367.5,1091.6 375.2,1093.1 382.6,1094.4 L400.0,1095.0 L400.0,1160.0 L50.0,1160.0 L50.0,1112.0 Z" fill="#1964d2"/>
<path d="M50.0,1126.0 L64.0,1126.5 C69.4,1127.8 74.1,1129.2 80.1,1130.5 C86.1,1131.8 93.4,1133.3 100.1,1134.5 C106.8,1135.7 113.5,1136.7 120.2,1137.5 C126.9,1138.3 133.6,1139.2 140.3,1139.5 C147.0,1139.8 153.7,1139.5 160.4,1139.5 C167.1,1139.5 173.7,1139.7 180.4,1139.5 C187.1,1139.3 195.7,1138.7 200.5,1138.5 C205.3,1138.3 206.2,1138.7 209.5,1138.5 C212.8,1138.3 214.9,1138.2 220.0,1137.5 C225.1,1136.8 233.4,1135.7 240.1,1134.5 C246.8,1133.3 253.4,1131.7 260.1,1130.5 C266.8,1129.3 274.2,1128.7 280.2,1127.5 C286.2,1126.3 291.3,1125.0 296.3,1123.5 C301.3,1122.0 306.3,1120.3 310.3,1118.5 C314.3,1116.7 317.0,1115.1 320.4,1112.4 C323.8,1109.7 327.1,1105.1 330.4,1102.4 C333.7,1099.7 337.0,1097.6 340.4,1096.4 C343.8,1095.2 346.5,1095.1 350.5,1095.4 C354.5,1095.7 359.1,1096.9 364.5,1098.4 C369.9,1099.9 376.6,1102.4 382.6,1104.4 L400.0,1105.0 L400.0,1160.0 L50.0,1160.0 L50.0,1126.0 Z" fill="#1e46d2" stroke="#000" stroke-width="0.9"/>
<path d="M262.0,1160.0 L271.9,1144.6 C279.0,1142.5 286.6,1140.6 293.1,1138.4 C299.6,1136.2 304.9,1133.8 310.8,1131.4 C316.7,1129.1 323.2,1126.5 328.5,1124.3 C333.8,1122.1 337.4,1119.3 342.7,1118.1 C348.0,1116.9 356.3,1118.1 360.4,1117.2 C364.5,1116.3 363.7,1113.8 367.5,1112.8 C371.3,1111.8 378.1,1111.6 383.4,1111.0 L400.0,1110.0 L400.0,1160.0 L262.0,1160.0 Z" fill="#4b37c8"/>
<path d="M176.1,860.1 C177.4,857.4 180.2,857.8 182.2,858.1 C184.2,858.4 186.5,859.4 188.2,862.1 C189.9,864.8 191.2,869.8 192.2,874.1 C193.2,878.5 193.2,884.9 194.2,888.2 C195.2,891.6 196.2,892.9 198.2,894.2 C200.2,895.5 203.8,895.2 206.2,896.2 C208.5,897.2 210.3,898.5 212.3,900.2 C214.3,901.9 216.0,904.5 218.3,906.2 C220.6,907.9 223.3,909.2 226.3,910.2 C229.3,911.2 233.3,912.2 236.3,912.2 C239.3,912.2 242.1,910.9 244.4,910.2 C246.8,909.5 248.4,908.2 250.4,908.2 C252.4,908.2 255.1,908.9 256.4,910.2 C257.7,911.6 258.3,913.3 258.1,916.3 C257.9,919.3 254.8,924.6 255.1,928.3 C255.4,932.0 257.9,935.3 260.1,938.3 C262.3,941.3 265.9,943.7 268.2,946.4 C270.5,949.1 272.9,951.7 274.2,954.4 C275.5,957.1 276.5,959.7 276.2,962.4 C275.9,965.1 274.9,968.5 272.2,970.5 C269.5,972.5 264.5,973.2 260.1,974.5 C255.8,975.8 250.4,977.2 246.1,978.5 C241.8,979.8 237.4,980.8 234.1,982.5 C230.8,984.2 227.7,986.2 226.0,988.5 C224.3,990.8 224.0,993.1 224.0,996.0 C224.0,998.9 225.2,1002.7 226.0,1006.0 C226.8,1009.3 228.7,1013.0 229.0,1016.0 C229.3,1019.0 229.7,1021.6 228.0,1024.0 C226.3,1026.3 221.2,1027.1 218.6,1030.1 C216.0,1033.1 213.6,1037.8 212.6,1042.2 C211.6,1046.6 211.9,1051.5 212.6,1056.2 C213.3,1060.9 216.3,1066.6 216.6,1070.3 C216.9,1074.0 215.9,1077.6 214.6,1078.3 C213.2,1079.0 210.8,1077.0 208.5,1074.3 C206.2,1071.6 203.5,1066.3 200.5,1062.3 C197.5,1058.3 192.8,1054.2 190.5,1050.2 C188.2,1046.2 186.8,1042.9 186.5,1038.2 C186.2,1033.5 186.8,1027.5 188.5,1022.1 C190.2,1016.8 194.5,1011.5 196.5,1006.1 C198.5,1000.8 200.6,994.6 200.5,990.0 C200.4,985.4 197.9,982.4 196.2,978.5 C194.5,974.6 192.9,970.1 190.2,966.4 C187.5,962.7 183.4,959.7 180.1,956.4 C176.8,953.1 173.4,949.8 170.1,946.4 C166.8,943.0 162.8,940.0 160.1,936.3 C157.4,932.6 154.8,928.3 154.1,924.3 C153.4,920.3 154.8,915.9 156.1,912.2 C157.4,908.5 159.4,906.2 162.1,902.2 C164.8,898.2 170.1,892.9 172.1,888.2 C174.1,883.5 173.4,878.8 174.1,874.1 C174.8,869.4 174.8,862.8 176.1,860.1 Z" fill="#ff6400"/>
<path d="M192.2,952.4 C193.5,950.1 195.9,949.1 198.2,948.4 C200.5,947.7 203.5,947.7 206.2,948.4 C208.9,949.1 212.0,952.4 214.3,952.4 C216.7,952.4 217.6,949.4 220.3,948.4 C223.0,947.4 226.6,946.7 230.3,946.4 C234.0,946.1 238.7,945.7 242.4,946.4 C246.1,947.1 250.1,948.7 252.4,950.4 C254.7,952.1 256.4,954.1 256.4,956.4 C256.4,958.7 255.1,962.4 252.4,964.4 C249.7,966.4 244.1,966.8 240.4,968.5 C236.7,970.2 233.7,972.5 230.3,974.5 C227.0,976.5 222.6,977.5 220.3,980.5 C218.0,983.5 216.6,988.9 216.3,992.5 C216.0,996.1 218.2,998.1 218.6,1002.0 C219.0,1005.9 220.3,1013.1 218.6,1016.1 C216.9,1019.1 211.2,1021.1 208.5,1020.1 C205.8,1019.1 203.8,1014.3 202.5,1010.1 C201.2,1005.9 201.4,999.3 201.0,995.0 C200.6,990.7 201.0,988.2 200.2,984.5 C199.4,980.8 197.9,976.2 196.2,972.5 C194.5,968.8 190.9,965.8 190.2,962.4 C189.5,959.0 190.9,954.7 192.2,952.4 Z" fill="#ff3200"/>
<path d="M340.4,870.1 C339.7,868.1 342.4,865.4 344.4,864.1 C346.4,862.8 349.8,863.5 352.5,862.1 C355.2,860.8 358.5,858.2 360.5,856.0 C362.5,853.8 363.2,851.3 364.5,849.0 L364.5,845.0 L390.0,845.0 L390.0,878.1 L382.6,878.1 C379.2,877.4 376.2,875.9 372.5,876.1 C368.8,876.3 364.5,879.1 360.5,879.1 C356.5,879.1 351.9,877.6 348.5,876.1 C345.1,874.6 341.1,872.1 340.4,870.1 Z" fill="#ff6400"/>
<path d="M378.6,862.0 L385.0,860.0 L385.0,870.0 L379.0,868.0 C378.9,866.0 378.7,864.0 378.6,862.0 Z" fill="#ff3200"/>
<path d="M94.0,840.0 L94.1,849.0 C96.1,850.3 97.4,852.0 100.1,853.0 C102.8,854.0 107.2,855.0 110.2,855.0 C113.2,855.0 116.5,854.0 118.2,853.0 C119.9,852.0 119.5,850.3 120.2,849.0 L120.2,840.0 L94.0,840.0 Z" fill="#ffbe3c" stroke="#000" stroke-width="0.9"/>
<path d="M60.0,854.0 L64.0,854.0 C64.7,855.0 66.0,856.0 66.0,857.0 C66.0,858.0 64.7,859.0 64.0,860.0 L60.0,860.0 L60.0,854.0 Z" fill="#ff6400"/>
<g fill="none" stroke="#a8a8a8" stroke-width="1.1" stroke-linejoin="round"><path d="M127.8,847.9 L127.8,848.7 L127.1,852.7 L126.7,858.6 L126.0,862.6 L126.4,865.3 L128.5,868.5 L130.3,870.5 L131.4,871.3 L134.9,873.3 L139.2,871.7 L141.0,870.1 L144.5,870.9 L148.5,874.0 L150.6,876.4 L151.7,873.3 L153.4,870.9 L154.9,866.9 L157.7,864.5 L159.8,863.4 L163.4,863.4 L167.0,861.4 L169.8,859.0 L170.9,861.4 L169.1,864.9 L171.2,864.5 L174.1,862.2 L174.8,859.8 L175.5,862.6 L180.5,864.9 L185.5,866.1 L191.9,868.1 L195.4,866.1 L199.7,865.7 L203.6,865.7 L202.2,868.5 L205.1,869.7 L206.8,874.0 L210.8,875.2 L215.7,879.2 L218.2,882.4 L221.1,884.3 L225.0,884.7 L231.8,885.1 L235.3,886.3 L238.9,889.5 L240.3,891.5 L242.4,894.2 L243.5,899.4 L246.0,901.4 L246.0,904.9 L244.9,906.1 L247.8,908.5 L251.3,910.5 L251.7,913.6 L253.5,910.9 L257.0,911.7 L262.4,913.2 L265.6,917.6 L269.5,918.0 L275.2,919.2 L279.8,919.2 L284.4,920.8 L286.9,922.8 L291.6,927.1 L296.2,928.3 L298.7,929.9 L299.8,935.8 L299.8,940.2 L298.3,944.5 L295.8,948.5 L292.3,951.7 L288.7,958.0 L285.5,961.6 L285.2,966.7 L285.5,971.5 L284.4,977.4 L282.7,983.3 L280.9,988.5 L278.4,993.2 L278.0,995.2 L274.5,998.8 L270.2,999.2 L265.9,999.2 L262.4,1002.3 L258.5,1003.5 L253.5,1007.1 L251.0,1011.1 L251.0,1015.0 L250.3,1021.0 L247.1,1024.1 L244.9,1028.9 L242.1,1033.2 L238.2,1036.0 L235.0,1041.6 L232.5,1044.3 L228.6,1046.3 L223.9,1046.3 L219.7,1044.3 L216.1,1042.7 L216.1,1045.1 L220.0,1047.9 L222.1,1051.8 L219.3,1059.0 L215.0,1061.0 L209.3,1062.1 L203.3,1061.7 L202.2,1063.7 L203.3,1066.5 L201.9,1068.9 L196.9,1070.5 L192.6,1070.5 L192.6,1074.4 L197.6,1076.8 L196.2,1078.0 L194.0,1076.8 L192.6,1080.4 L191.5,1084.3 L186.2,1086.3 L183.7,1090.3 L184.1,1092.2 L189.0,1095.0 L189.4,1097.4 L184.1,1101.3 L181.9,1106.1 L178.4,1108.1 L178.7,1112.4 L180.5,1115.2 L176.6,1116.0 L173.0,1118.0 L171.2,1121.1 L167.7,1120.0 L165.9,1118.0 L162.3,1117.2 L158.8,1116.0 L157.0,1112.0 L155.2,1106.1 L155.2,1100.2 L158.8,1094.2 L154.9,1092.6 L158.8,1089.5 L162.0,1084.3 L164.1,1078.4 L164.8,1074.4 L162.7,1072.8 L161.6,1068.5 L162.7,1064.5 L162.0,1056.6 L163.8,1053.0 L165.9,1048.7 L167.7,1043.5 L169.1,1038.8 L169.5,1034.8 L169.1,1028.9 L170.2,1024.9 L171.6,1017.0 L173.0,1009.1 L173.0,1001.2 L174.4,993.2 L174.1,985.3 L173.7,980.6 L170.2,977.8 L165.9,974.6 L160.6,970.7 L156.3,968.3 L152.7,963.5 L152.4,960.4 L149.5,955.6 L147.4,951.7 L145.6,947.7 L143.5,943.7 L141.0,939.0 L139.6,935.0 L135.6,931.9 L134.9,928.7 L134.6,926.3 L137.4,922.0 L139.6,919.2 L138.1,918.0 L136.0,916.8 L136.4,912.9 L137.8,910.1 L139.2,906.1 L140.6,904.1 L143.1,902.2 L144.2,899.0 L147.0,897.8 L149.2,893.1 L148.5,890.3 L148.8,884.3 L147.0,880.4 L145.3,877.2 L144.5,875.6 L142.8,873.3 L141.0,872.5 L139.2,874.8 L137.8,878.4 L135.6,877.2 L133.5,876.4 L128.9,875.6 L126.4,874.0 L125.0,871.3 L121.4,869.3 L120.7,868.5 L118.6,866.9 L118.9,864.5 L116.1,861.4 L113.2,858.2 L112.1,856.2 L110.7,855.8 L107.9,855.4 L103.6,853.5 L100.0,852.7 L95.8,850.7 L92.9,847.9"/><path d="M180.5,1116.4 L179.8,1125.5 L185.5,1125.9 L191.9,1124.7 L187.3,1122.7 L183.3,1121.1 L181.2,1118.8 L180.5,1116.4"/><path d="M176.6,1122.7 L173.0,1125.1 L168.4,1124.3 L164.8,1121.1 L169.5,1120.4 L174.1,1121.5 L176.6,1122.7"/><path d="M162.3,1118.0 L158.4,1117.6 L156.3,1114.8 L159.8,1115.2 L162.3,1118.0"/><path d="M159.8,1112.0 L155.6,1110.1 L155.9,1106.9 L158.8,1108.5 L159.8,1112.0"/><path d="M158.4,1105.3 L154.9,1104.1 L155.2,1101.0 L157.7,1101.7 L158.4,1105.3"/><path d="M159.5,1084.3 L157.0,1083.1 L157.7,1081.2 L159.8,1081.9 L159.5,1084.3"/><path d="M161.3,1080.0 L159.5,1079.2 L160.6,1073.6 L162.3,1074.0 L162.3,1077.6 L161.3,1080.0"/><path d="M205.8,1111.2 L212.2,1111.2 L218.2,1112.4 L215.7,1114.8 L209.7,1114.8 L206.1,1113.2 L205.8,1111.2"/><path d="M288.7,1121.9 L294.1,1122.7 L296.6,1124.7 L292.3,1123.5 L288.7,1121.9"/><path d="M98.3,909.3 L100.4,907.7 L101.5,910.5 L99.3,912.1 L98.3,909.3"/><path d="M101.8,909.7 L102.9,910.1 L102.5,911.3 L101.5,910.9 L101.8,909.7"/><path d="M203.6,868.1 L206.8,865.3 L207.2,867.7 L204.7,868.5 L203.6,868.1"/><path d="M206.1,855.4 L206.5,856.2"/><path d="M204.3,859.8 L204.7,860.6"/><path d="M206.8,852.3 L207.2,853.8"/><path d="M361.3,847.9 L362.8,849.9 L364.2,854.6 L364.5,859.4 L368.8,862.6 L372.4,866.5 L376.7,870.5 L377.7,875.2 L381.3,878.8 L384.1,881.2 L388.4,884.3"/><path d="M244.2,909.3 L249.6,908.5 L251.7,911.3 L251.0,914.4 L246.7,914.4 L244.2,909.3"/><path d="M240.3,891.5 L237.1,899.0 L231.4,899.4 L228.2,898.2 L222.9,900.6 L217.5,902.2 L211.5,901.0 L210.4,898.2 L211.5,892.3 L207.9,887.5 L205.4,890.7 L200.4,892.3 L196.2,891.9 L194.0,899.0 L196.2,901.0 L190.8,905.3 L185.8,903.3 L176.6,903.7 L174.8,906.1 L176.2,910.1 L176.9,912.5 L175.2,924.7 L169.5,925.9 L164.1,927.9 L163.4,933.8 L160.6,937.0 L164.1,945.3 L167.0,947.3 L172.7,945.7 L172.7,951.7 L176.2,951.5 L179.8,951.7 L188.0,946.9 L191.2,947.7 L191.5,953.6 L195.1,957.6 L200.4,959.6 L204.0,962.0 L209.0,961.6 L209.7,967.9 L216.5,972.6 L216.1,976.6 L219.3,980.2 L218.9,987.3 L217.2,988.1 L218.2,995.6 L224.6,996.4 L226.1,997.6 L226.8,1003.1 L230.7,1003.5 L229.6,1009.1 L232.1,1009.5 L233.2,1012.2 L232.5,1015.4 L225.7,1019.4 L218.9,1027.7 L224.6,1030.5 L226.1,1030.1 L232.1,1033.2 L233.9,1037.2 L233.5,1041.6"/><path d="M169.1,860.6 L167.0,864.1 L165.9,868.5 L164.1,871.7 L166.3,876.4 L167.0,879.2 L174.4,880.4 L182.6,883.5 L184.1,888.3 L182.6,892.3 L184.4,900.2 L185.8,903.3"/><path d="M207.9,887.5 L205.4,884.7 L209.0,880.4 L210.8,875.2"/><path d="M220.7,884.7 L217.5,893.1 L222.9,900.6"/><path d="M231.8,885.5 L230.3,894.2 L231.4,899.4"/><path d="M143.1,902.6 L148.5,904.9 L155.2,908.5 L156.3,911.7 L162.3,914.0 L167.7,917.6 L174.8,923.9 L175.2,924.7"/><path d="M138.1,921.6 L141.0,925.9 L144.5,922.0 L151.7,918.4 L156.3,911.7"/><path d="M176.2,951.5 L179.1,957.6 L178.7,961.6 L176.9,967.5 L178.4,972.3 L176.6,977.4 L173.4,980.8"/><path d="M176.6,977.4 L180.1,983.3 L179.1,989.3 L181.2,992.4 L182.6,998.4 L188.3,994.4 L195.1,997.6 L201.1,996.0 L202.2,989.3 L204.3,985.7 L213.6,984.5 L216.8,986.5 L219.3,980.2"/><path d="M182.6,998.4 L180.9,1005.1 L179.8,1015.0 L175.5,1024.9 L174.4,1034.8 L174.8,1042.7 L172.7,1052.6 L170.9,1060.6 L168.7,1068.5 L168.4,1078.4 L169.1,1086.3 L167.0,1094.2 L163.4,1104.1 L166.6,1110.1 L168.0,1114.0 L178.4,1115.2"/><path d="M201.1,996.0 L206.8,1001.2 L212.2,1005.9 L217.5,1010.3 L218.9,1015.8 L224.6,1016.6 L229.6,1009.1"/><path d="M218.9,1027.7 L217.5,1030.9 L216.8,1036.8 L216.1,1042.7"/><path d="M228.6,898.6 L231.8,906.1 L237.1,911.7 L239.2,912.9"/><path d="M214.3,903.3 L217.5,910.1 L223.2,917.6 L216.1,937.0 L216.8,937.4"/><path d="M216.8,937.4 L224.6,944.9 L237.1,945.7 L245.3,946.9"/><path d="M245.3,946.9 L247.8,939.8 L249.6,933.8 L252.1,929.1"/><path d="M252.1,929.1 L254.9,923.9 L258.1,918.0 L259.9,912.5"/><path d="M252.1,929.1 L254.9,933.8 L258.5,939.8 L260.2,943.7 L260.6,948.9"/><path d="M275.2,919.6 L272.3,925.9 L269.1,931.9 L263.8,941.8 L260.6,948.9"/><path d="M260.6,948.9 L258.5,955.6 L259.5,961.6 L259.5,967.5"/><path d="M278.0,919.6 L278.4,927.9 L279.8,937.4 L277.0,941.8 L272.7,945.7 L269.1,949.7 L260.6,948.9"/><path d="M291.2,927.1 L286.9,933.0 L286.6,935.8 L291.6,937.0 L299.4,937.0"/><path d="M279.8,937.4 L283.4,939.8 L288.7,941.8 L295.1,943.7 L298.3,944.5"/><path d="M278.8,943.7 L285.2,944.5 L288.7,946.9 L294.4,949.7"/><path d="M245.3,946.9 L243.5,959.6 L240.7,969.5 L236.0,979.4"/><path d="M236.0,979.4 L228.2,978.6 L216.8,977.4"/><path d="M205.1,942.9 L208.6,949.7 L210.4,961.6"/><path d="M205.1,942.9 L200.4,939.8 L188.0,946.9"/><path d="M186.9,947.3 L174.8,941.8 L161.3,936.2"/><path d="M259.5,967.5 L265.6,965.1 L272.7,967.5 L279.8,970.7 L282.0,979.0"/><path d="M259.5,959.2 L251.3,959.6 L243.5,959.6"/><path d="M259.5,967.5 L255.6,970.7 L254.9,979.4 L249.6,981.8 L242.4,985.3"/><path d="M242.4,985.3 L240.7,987.3 L235.3,997.2 L231.0,1003.1"/><path d="M242.4,986.9 L249.6,988.1 L253.8,987.7 L258.5,993.2 L263.8,997.2 L265.6,1000.0"/><path d="M235.0,997.6 L244.2,998.8 L249.6,1000.0 L253.1,1005.1 L252.4,1008.3"/><path d="M232.5,1011.9 L242.4,1011.9 L251.0,1011.1"/><path d="M232.5,1015.4 L240.7,1017.0 L246.0,1022.9 L247.1,1024.1"/><path d="M274.8,992.1 L270.9,995.2 L265.6,1000.0"/><path d="M282.0,979.0 L278.0,981.8 L275.2,989.3 L278.0,992.4"/><path d="M253.1,969.5 L255.6,969.5 L255.6,971.5 L253.1,971.5 L253.1,969.5"/></g><path d="M161.7,1071.8 L158.9,1081.2 L155.1,1090.7 L154.2,1099.2 L155.1,1108.6 L157.9,1116.2 L163.6,1121.8 L171.2,1126.5 L179.7,1128.9 L185.3,1129.4 L185.3,1125.6 L177.8,1123.7 L171.2,1119.9 L165.5,1115.2 L163.6,1108.6 L162.7,1099.2 L164.5,1090.7 L166.4,1081.2 L166.4,1071.8 Z" fill="#a8a8a8" fill-opacity="0.5" stroke="#a8a8a8" stroke-width="1"/>
<rect x="160.7" y="870.8" width="13.5" height="8.6" fill="#fff"/><text x="168.0" y="878.4" font-size="9.2" letter-spacing="1.2" text-anchor="middle" fill="#222">18</text>
<rect x="113.5" y="900.9" width="13.5" height="8.6" fill="#fff"/><text x="120.8" y="908.5" font-size="9.2" letter-spacing="1.2" text-anchor="middle" fill="#222">18</text>
<rect x="156.8" y="1016.6" width="13.5" height="8.6" fill="#fff"/><text x="164.2" y="1024.2" font-size="9.2" letter-spacing="1.2" text-anchor="middle" fill="#222">18</text>
<rect x="210.8" y="1085.1" width="13.5" height="8.6" fill="#fff"/><text x="218.2" y="1092.7" font-size="9.2" letter-spacing="1.2" text-anchor="middle" fill="#222">18</text>
<rect x="293.8" y="984.2" width="13.5" height="8.6" fill="#fff"/><text x="301.1" y="991.8" font-size="9.2" letter-spacing="1.2" text-anchor="middle" fill="#222">18</text>
<rect x="69.4" y="1032.3" width="7.0" height="8.6" fill="#fff"/><text x="72.9" y="1039.9" font-size="9.2" letter-spacing="0" text-anchor="middle" fill="#222">9</text>
<rect x="216.1" y="1111.2" width="7.0" height="8.6" fill="#fff"/><text x="219.6" y="1118.8" font-size="9.2" letter-spacing="0" text-anchor="middle" fill="#222">9</text>
<rect x="286.8" y="1027.9" width="7.0" height="8.6" fill="#fff"/><text x="290.3" y="1035.5" font-size="9.2" letter-spacing="0" text-anchor="middle" fill="#222">9</text>
<rect x="206.0" y="1134.2" width="7.0" height="8.6" fill="#fff"/><text x="209.5" y="1141.8" font-size="9.2" letter-spacing="0" text-anchor="middle" fill="#222">0</text>
</g>
<rect x="63.0" y="848.5" width="321.0" height="297.5" fill="none" stroke="#000" stroke-width="2"/>
<g stroke="#000" stroke-width="1.2"><line x1="60.0" y1="848.7" x2="63.0" y2="848.7"/><line x1="60.0" y1="868.5" x2="63.0" y2="868.5"/><line x1="60.0" y1="888.3" x2="63.0" y2="888.3"/><line x1="60.0" y1="908.1" x2="63.0" y2="908.1"/><line x1="60.0" y1="927.9" x2="63.0" y2="927.9"/><line x1="60.0" y1="947.7" x2="63.0" y2="947.7"/><line x1="60.0" y1="967.5" x2="63.0" y2="967.5"/><line x1="60.0" y1="987.3" x2="63.0" y2="987.3"/><line x1="60.0" y1="1007.1" x2="63.0" y2="1007.1"/><line x1="60.0" y1="1026.9" x2="63.0" y2="1026.9"/><line x1="60.0" y1="1046.7" x2="63.0" y2="1046.7"/><line x1="60.0" y1="1066.5" x2="63.0" y2="1066.5"/><line x1="60.0" y1="1086.3" x2="63.0" y2="1086.3"/><line x1="60.0" y1="1106.1" x2="63.0" y2="1106.1"/><line x1="60.0" y1="1125.9" x2="63.0" y2="1125.9"/><line x1="60.0" y1="1145.7" x2="63.0" y2="1145.7"/><line x1="68.0" y1="1146.0" x2="68.0" y2="1149.0"/><line x1="103.6" y1="1146.0" x2="103.6" y2="1149.0"/><line x1="139.2" y1="1146.0" x2="139.2" y2="1149.0"/><line x1="174.8" y1="1146.0" x2="174.8" y2="1149.0"/><line x1="210.4" y1="1146.0" x2="210.4" y2="1149.0"/><line x1="246.0" y1="1146.0" x2="246.0" y2="1149.0"/><line x1="281.6" y1="1146.0" x2="281.6" y2="1149.0"/><line x1="317.2" y1="1146.0" x2="317.2" y2="1149.0"/><line x1="352.8" y1="1146.0" x2="352.8" y2="1149.0"/></g>
<g font-size="9.5" font-weight="bold" fill="#000"><text x="58.5" y="852.1" text-anchor="end">15N</text><text x="58.5" y="871.9" text-anchor="end">10N</text><text x="58.5" y="891.7" text-anchor="end">5N</text><text x="58.5" y="911.5" text-anchor="end">EQ</text><text x="58.5" y="931.3" text-anchor="end">5S</text><text x="58.5" y="951.1" text-anchor="end">10S</text><text x="58.5" y="970.9" text-anchor="end">15S</text><text x="58.5" y="990.7" text-anchor="end">20S</text><text x="58.5" y="1010.5" text-anchor="end">25S</text><text x="58.5" y="1030.3" text-anchor="end">30S</text><text x="58.5" y="1050.1" text-anchor="end">35S</text><text x="58.5" y="1069.9" text-anchor="end">40S</text><text x="58.5" y="1089.7" text-anchor="end">45S</text><text x="58.5" y="1109.5" text-anchor="end">50S</text><text x="58.5" y="1129.3" text-anchor="end">55S</text><text x="58.5" y="1149.1" text-anchor="end">60S</text><text x="68.0" y="1156.3" text-anchor="middle" textLength="21.5" lengthAdjust="spacingAndGlyphs">100W</text><text x="103.6" y="1156.3" text-anchor="middle" textLength="17.3" lengthAdjust="spacingAndGlyphs">90W</text><text x="139.2" y="1156.3" text-anchor="middle" textLength="17.3" lengthAdjust="spacingAndGlyphs">80W</text><text x="174.8" y="1156.3" text-anchor="middle" textLength="17.3" lengthAdjust="spacingAndGlyphs">70W</text><text x="210.4" y="1156.3" text-anchor="middle" textLength="17.3" lengthAdjust="spacingAndGlyphs">60W</text><text x="246.0" y="1156.3" text-anchor="middle" textLength="17.3" lengthAdjust="spacingAndGlyphs">50W</text><text x="281.6" y="1156.3" text-anchor="middle" textLength="17.3" lengthAdjust="spacingAndGlyphs">40W</text><text x="317.2" y="1156.3" text-anchor="middle" textLength="17.3" lengthAdjust="spacingAndGlyphs">30W</text><text x="352.8" y="1156.3" text-anchor="middle" textLength="17.3" lengthAdjust="spacingAndGlyphs">20W</text></g>
<text x="223.5" y="839.5" font-size="18" text-anchor="middle" textLength="231" lengthAdjust="spacingAndGlyphs" stroke="#fff" stroke-width="0.2">cluster:  5   membros:  1</text>
<g stroke="#000" stroke-width="1.3"><path d="M427.0,150.5 L433.2,135.2 L439.5,150.5 Z" fill="#b42828"/><rect x="427.0" y="150.5" width="12.5" height="15.3" fill="#c00000"/><rect x="427.0" y="165.8" width="12.5" height="15.3" fill="#c83c3c"/><rect x="427.0" y="181.1" width="12.5" height="15.3" fill="#e01400"/><rect x="427.0" y="196.4" width="12.5" height="15.3" fill="#ff3200"/><rect x="427.0" y="211.7" width="12.5" height="15.3" fill="#ff6400"/><rect x="427.0" y="227.0" width="12.5" height="15.3" fill="#ffa000"/><rect x="427.0" y="242.3" width="12.5" height="15.3" fill="#ffbe3c"/><rect x="427.0" y="257.6" width="12.5" height="15.3" fill="#ffe678"/><rect x="427.0" y="272.9" width="12.5" height="15.3" fill="#78b9fa"/><rect x="427.0" y="288.2" width="12.5" height="15.3" fill="#3c96f5"/><rect x="427.0" y="303.5" width="12.5" height="15.3" fill="#1e6ef0"/><rect x="427.0" y="318.8" width="12.5" height="15.3" fill="#1964d2"/><rect x="427.0" y="334.1" width="12.5" height="15.3" fill="#1e46d2"/><rect x="427.0" y="349.4" width="12.5" height="15.3" fill="#4b37c8"/><rect x="427.0" y="364.7" width="12.5" height="15.3" fill="#735fdc"/><rect x="427.0" y="380.0" width="12.5" height="15.3" fill="#826eeb"/><rect x="427.0" y="395.3" width="12.5" height="15.3" fill="#a08cff"/><rect x="427.0" y="410.6" width="12.5" height="15.3" fill="#beb4ff"/><path d="M427.0,425.9 L433.2,441.2 L439.5,425.9 Z" fill="#dcdcff"/></g>
<g font-size="11.6" fill="#000"><text x="443" y="154.5" textLength="13.2" lengthAdjust="spacingAndGlyphs">36</text><text x="443" y="169.8" textLength="13.2" lengthAdjust="spacingAndGlyphs">33</text><text x="443" y="185.1" textLength="13.2" lengthAdjust="spacingAndGlyphs">30</text><text x="443" y="200.4" textLength="13.2" lengthAdjust="spacingAndGlyphs">27</text><text x="443" y="215.7" textLength="13.2" lengthAdjust="spacingAndGlyphs">24</text><text x="443" y="231.0" textLength="13.2" lengthAdjust="spacingAndGlyphs">21</text><text x="443" y="246.3" textLength="13.2" lengthAdjust="spacingAndGlyphs">18</text><text x="443" y="261.6" textLength="13.2" lengthAdjust="spacingAndGlyphs">15</text><text x="443" y="276.9" textLength="13.2" lengthAdjust="spacingAndGlyphs">12</text><text x="443" y="292.2" textLength="6.6" lengthAdjust="spacingAndGlyphs">9</text><text x="443" y="307.5" textLength="6.6" lengthAdjust="spacingAndGlyphs">6</text><text x="443" y="322.8" textLength="6.6" lengthAdjust="spacingAndGlyphs">3</text><text x="443" y="338.1" textLength="6.6" lengthAdjust="spacingAndGlyphs">0</text><text x="443" y="353.4" textLength="15.6" lengthAdjust="spacingAndGlyphs">−3</text><text x="443" y="368.7" textLength="15.6" lengthAdjust="spacingAndGlyphs">−6</text><text x="443" y="384.0" textLength="15.6" lengthAdjust="spacingAndGlyphs">−9</text><text x="443" y="399.3" textLength="22.2" lengthAdjust="spacingAndGlyphs">−12</text><text x="443" y="414.6" textLength="22.2" lengthAdjust="spacingAndGlyphs">−15</text><text x="443" y="429.9" textLength="22.2" lengthAdjust="spacingAndGlyphs">−18</text></g>
</svg></body></html>
